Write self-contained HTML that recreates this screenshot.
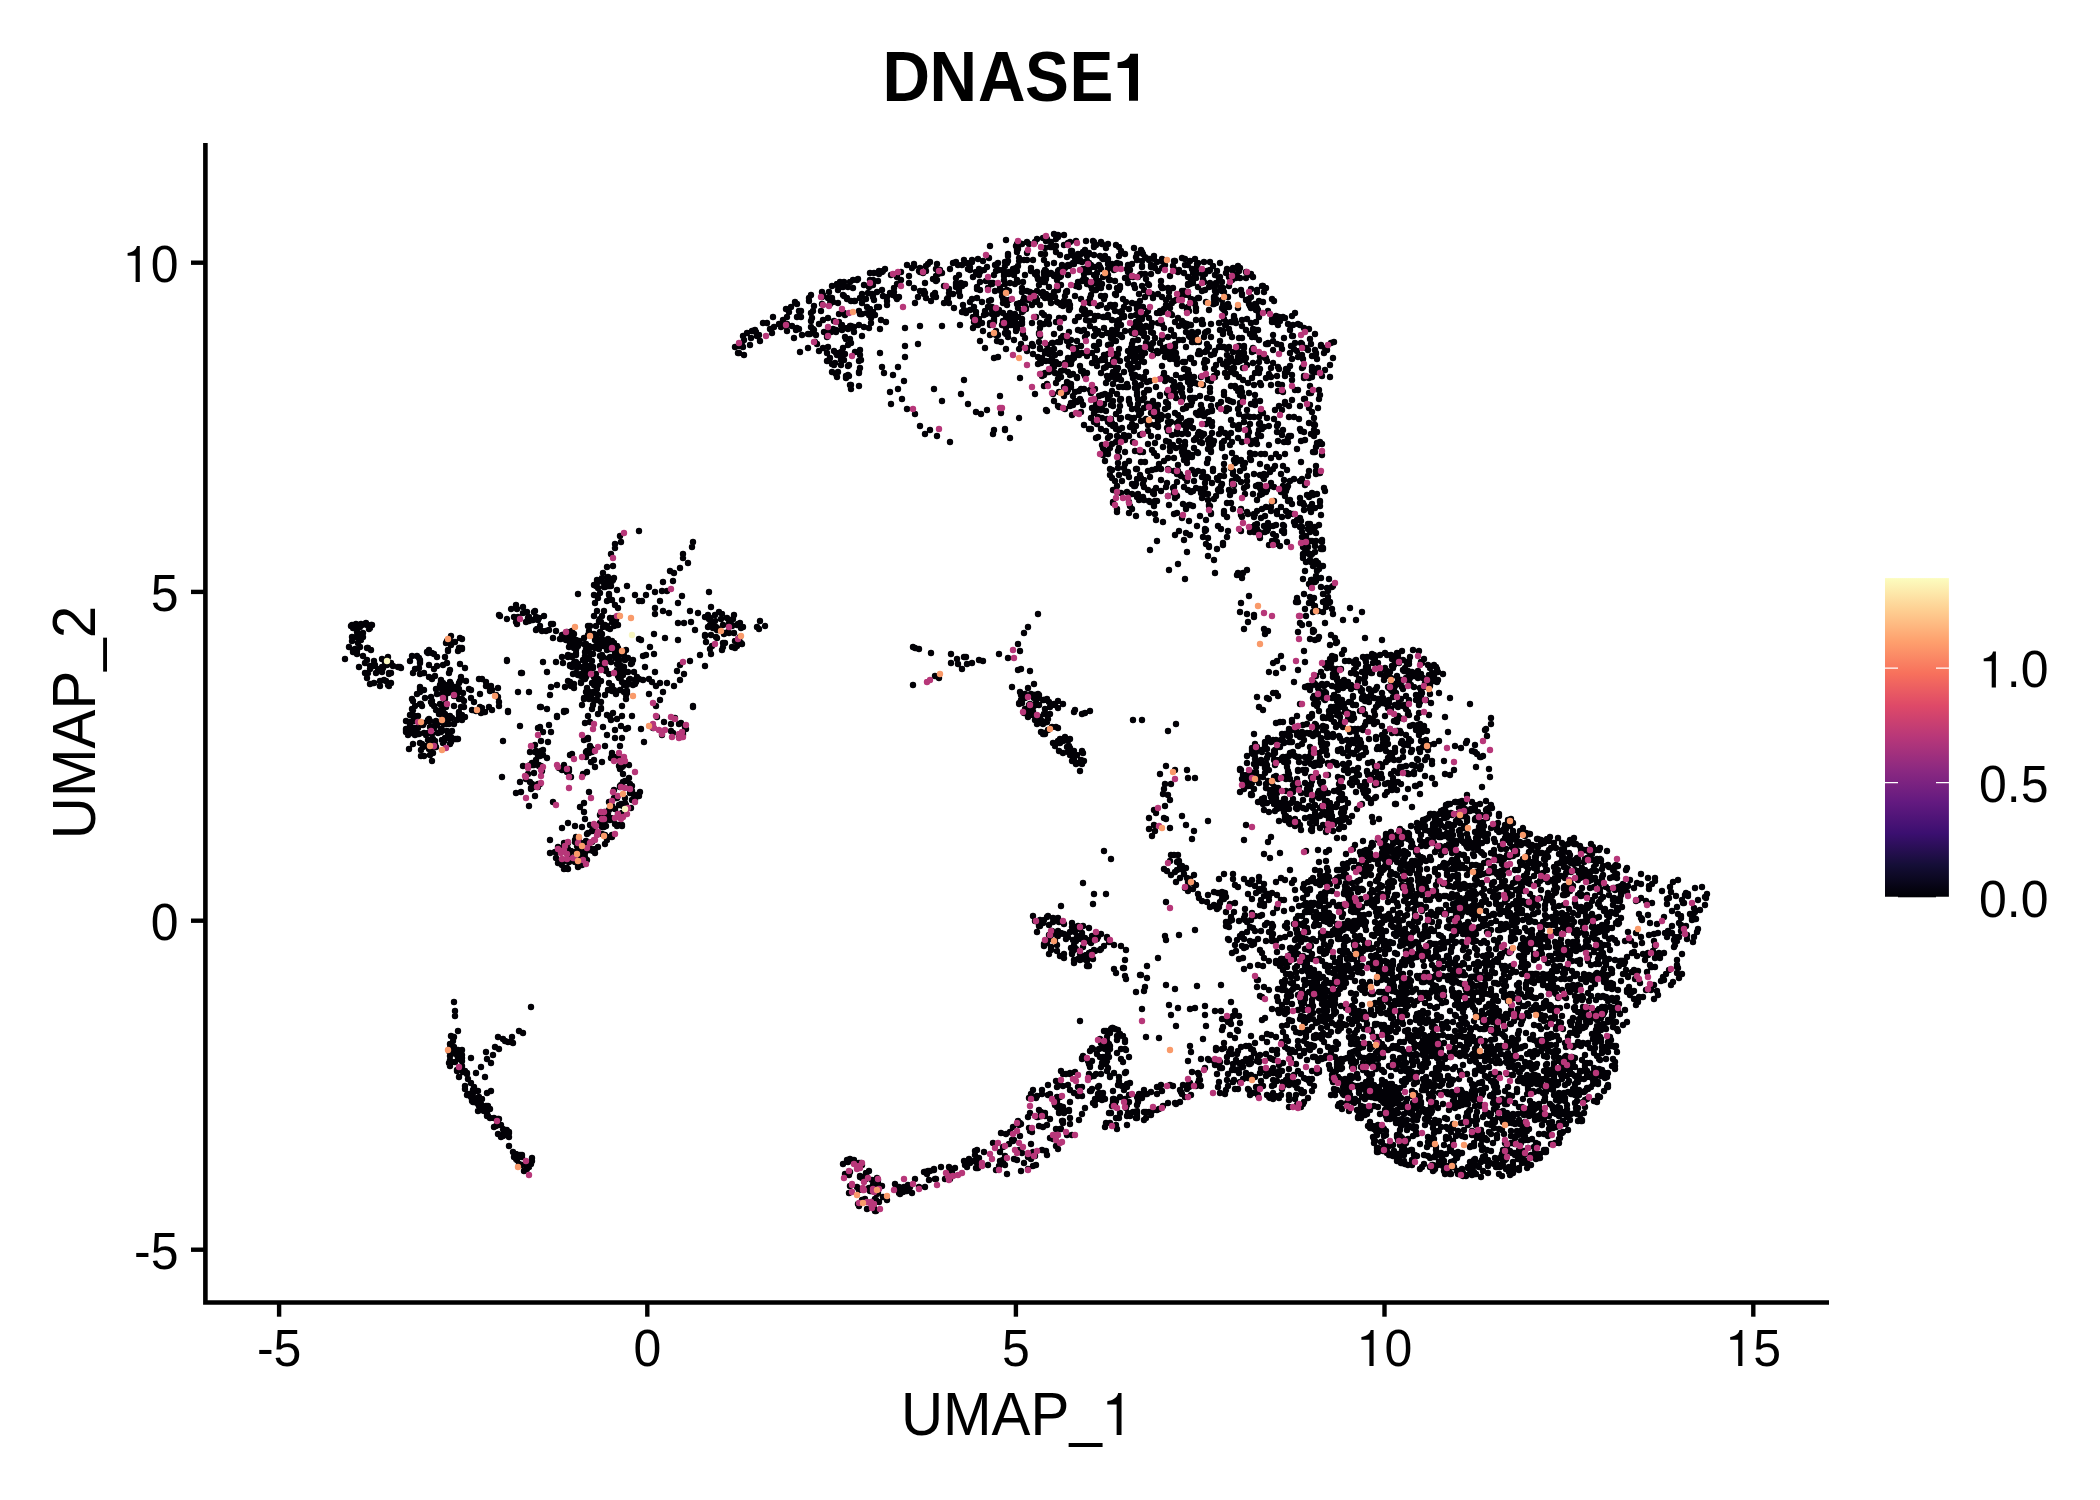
<!DOCTYPE html><html><head><meta charset="utf-8"><style>html,body{margin:0;padding:0;background:#fff;overflow:hidden}svg{display:block}text{font-family:'Liberation Sans',sans-serif}</style></head><body>
<svg width="2100" height="1500" viewBox="0 0 2100 1500">
<rect width="2100" height="1500" fill="#fff"/>
<defs><linearGradient id="g" x1="0" y1="1" x2="0" y2="0"><stop offset="0.0" stop-color="#000004"/><stop offset="0.1" stop-color="#140E36"/><stop offset="0.2" stop-color="#3B0F70"/><stop offset="0.3" stop-color="#641A80"/><stop offset="0.4" stop-color="#8C2981"/><stop offset="0.5" stop-color="#B73779"/><stop offset="0.6" stop-color="#DE4968"/><stop offset="0.7" stop-color="#F7705C"/><stop offset="0.8" stop-color="#FE9F6D"/><stop offset="0.9" stop-color="#FECF92"/><stop offset="1.0" stop-color="#FCFDBF"/></linearGradient></defs>
<path d="M747 333h0M744 340h0M755 330h0M751 338h0M756 332h0M739 353h0M752 331h0M750 345h0M763 323h0M774 327h0M735 347h0M759 335h0M757 336h0M767 323h0M743 347h0M740 346h0M773 317h0M779 324h0M742 344h0M743 336h0M738 353h0M770 329h0M923 273h0M823 320h0M843 295h0M871 323h0M853 280h0M935 293h0M873 312h0M822 304h0M808 334h0M844 296h0M837 284h0M897 299h0M870 286h0M949 289h0M992 310h0M967 263h0M909 276h0M842 330h0M899 297h0M872 294h0M811 295h0M859 325h0M996 271h0M828 318h0M914 264h0M1008 337h0M1005 262h0M990 335h0M870 311h0M847 299h0M866 299h0M963 305h0M996 334h0M907 265h0M962 265h0M919 271h0M936 281h0M893 295h0M1003 313h0M970 267h0M873 280h0M867 307h0M830 304h0M813 311h0M833 302h0M857 280h0M956 278h0M953 263h0M829 292h0M970 302h0M855 301h0M1004 271h0M879 307h0M799 311h0M990 323h0M1002 325h0M999 310h0M781 324h0M994 275h0M887 297h0M810 334h0M936 297h0M995 265h0M897 277h0M992 307h0M931 301h0M944 286h0M964 310h0M914 266h0M986 314h0M882 290h0M887 301h0M990 246h0M964 260h0M998 335h0M970 270h0M853 288h0M924 294h0M936 276h0M862 303h0M870 273h0M928 264h0M874 273h0M840 282h0M956 287h0M897 284h0M850 282h0M873 297h0M959 290h0M959 275h0M962 312h0M938 274h0M977 287h0M947 299h0M937 264h0M851 326h0M859 311h0M809 301h0M980 272h0M830 300h0M975 317h0M997 314h0M920 272h0M942 273h0M1004 274h0M858 279h0M926 298h0M959 292h0M838 290h0M983 331h0M862 314h0M897 298h0M851 301h0M852 327h0M1004 276h0M992 314h0M992 284h0M836 330h0M909 283h0M977 298h0M822 292h0M976 316h0M870 309h0M976 315h0M883 271h0M864 327h0M875 315h0M864 285h0M978 259h0M787 331h0M944 303h0M796 330h0M937 280h0M937 264h0M954 308h0M988 288h0M991 283h0M978 324h0M797 328h0M966 313h0M926 266h0M901 272h0M854 301h0M813 329h0M960 285h0M860 314h0M980 290h0M973 317h0M990 325h0M949 293h0M982 302h0M940 270h0M848 287h0M970 310h0M986 281h0M789 312h0M873 285h0M926 271h0M972 260h0M838 303h0M975 323h0M812 318h0M791 307h0M809 298h0M968 269h0M896 297h0M1006 240h0M933 295h0M915 303h0M795 302h0M936 281h0M979 319h0M961 283h0M996 335h0M850 326h0M994 319h0M979 269h0M787 317h0M978 325h0M924 291h0M814 330h0M828 298h0M960 296h0M877 307h0M841 325h0M949 303h0M948 298h0M999 270h0M821 311h0M832 286h0M873 297h0M956 262h0M993 283h0M792 326h0M956 285h0M1009 272h0M839 322h0M854 327h0M787 324h0M877 292h0M996 331h0M982 323h0M819 324h0M883 296h0M972 262h0M868 293h0M1005 300h0M845 315h0M920 291h0M801 311h0M867 313h0M862 294h0M838 286h0M860 298h0M980 282h0M840 285h0M994 320h0M879 274h0M834 321h0M977 289h0M797 317h0M843 287h0M869 287h0M811 321h0M831 332h0M1005 291h0M829 330h0M802 335h0M976 272h0M786 309h0M847 328h0M839 314h0M987 267h0M844 282h0M972 299h0M891 275h0M1001 342h0M978 322h0M984 315h0M918 297h0M936 269h0M998 263h0M882 272h0M988 307h0M925 283h0M811 327h0M920 268h0M901 280h0M842 325h0M800 312h0M914 288h0M1008 254h0M985 311h0M909 276h0M781 327h0M801 317h0M984 270h0M930 262h0M989 301h0M842 328h0M847 298h0M953 294h0M870 280h0M976 312h0M965 311h0M879 271h0M878 281h0M912 268h0M822 297h0M885 269h0M974 307h0M799 329h0M833 329h0M991 300h0M887 305h0M947 300h0M962 286h0M1001 291h0M940 273h0M950 269h0M994 322h0M844 313h0M1007 290h0M973 277h0M783 320h0M894 292h0M797 304h0M1007 263h0M974 322h0M958 265h0M814 306h0M989 258h0M1009 291h0M999 312h0M869 315h0M894 288h0M786 326h0M965 284h0M832 298h0M874 300h0M933 279h0M823 295h0M925 293h0M979 275h0M890 293h0M811 313h0M995 291h0M956 283h0M983 261h0M997 264h0M835 363h0M860 368h0M861 360h0M838 372h0M850 385h0M848 345h0M827 337h0M849 365h0M843 348h0M836 353h0M845 337h0M834 351h0M855 352h0M846 376h0M815 342h0M839 353h0M850 339h0M859 372h0M841 355h0M834 365h0M860 350h0M832 372h0M836 374h0M816 335h0M829 360h0M828 347h0M830 358h0M846 378h0M859 386h0M819 351h0M837 377h0M851 343h0M827 353h0M841 360h0M827 361h0M817 344h0M841 352h0M848 366h0M845 354h0M860 355h0M837 355h0M849 376h0M859 361h0M844 360h0M841 365h0M851 385h0M832 364h0M848 375h0M859 373h0M851 389h0M823 348h0M880 353h0M882 367h0M884 373h0M893 375h0M898 367h0M904 381h0M905 346h0M905 357h0M918 344h0M890 392h0M891 404h0M898 389h0M902 399h0M907 409h0M915 414h0M920 426h0M925 434h0M930 430h0M937 436h0M950 442h0M934 389h0M942 401h0M961 394h0M964 380h0M968 404h0M976 412h0M981 414h0M987 410h0M993 434h0M994 430h0M1000 396h0M1001 413h0M1005 430h0M1010 438h0M1019 418h0M1020 378h0M1035 394h0M1044 386h0M1047 411h0M1054 401h0M1059 407h0M905 328h0M920 326h0M942 326h0M960 325h0M973 328h0M980 341h0M985 348h0M992 324h0M996 331h0M997 341h0M1006 349h0M994 358h0M998 357h0M880 329h0M881 320h0M886 322h0M871 318h0M869 328h0M862 336h0M848 329h0M846 339h0M854 332h0M836 332h0M824 332h0M800 352h0M794 338h0M808 348h0M744 355h0M760 341h0M772 333h0M1046 410h0M1058 406h0M1054 401h0M1005 429h0M1178 318h0M1185 377h0M1116 368h0M1248 275h0M1108 365h0M1235 291h0M1163 261h0M1173 392h0M1184 369h0M1152 344h0M1137 254h0M1037 272h0M1140 275h0M1146 326h0M1151 349h0M1049 324h0M1090 301h0M1073 357h0M1193 342h0M1116 379h0M1154 267h0M1091 286h0M1214 297h0M1096 405h0M1137 392h0M1094 246h0M1214 376h0M1223 309h0M1169 297h0M1242 326h0M1209 287h0M1087 356h0M1044 375h0M1105 256h0M1068 275h0M1138 367h0M1127 269h0M1242 294h0M1182 306h0M1114 267h0M1017 250h0M1095 358h0M1170 352h0M1061 338h0M1209 347h0M1032 344h0M1115 425h0M1036 317h0M1211 381h0M1047 352h0M1197 266h0M1224 364h0M1047 239h0M1177 364h0M1050 350h0M1000 287h0M1097 410h0M1263 286h0M1162 366h0M1220 277h0M1060 277h0M1130 270h0M1228 304h0M1037 276h0M1153 401h0M1173 288h0M1137 309h0M1141 312h0M1230 333h0M1079 261h0M1085 337h0M1144 336h0M1158 420h0M1148 284h0M1065 409h0M1053 394h0M1077 377h0M1108 422h0M1104 355h0M1265 288h0M1216 291h0M1190 398h0M1039 333h0M1249 299h0M1160 313h0M1023 282h0M1116 265h0M1003 270h0M1092 408h0M1178 424h0M1162 288h0M1242 338h0M1128 436h0M1053 364h0M1070 375h0M1102 360h0M1136 426h0M1010 283h0M1112 375h0M1222 347h0M1168 337h0M1086 280h0M1190 325h0M1179 270h0M1055 373h0M1049 287h0M1163 348h0M1140 329h0M1219 347h0M1016 331h0M1144 377h0M1201 377h0M1235 362h0M1157 410h0M1250 334h0M1053 367h0M1137 408h0M1133 368h0M1144 362h0M1252 337h0M1176 387h0M1134 330h0M1192 379h0M1259 315h0M1210 388h0M1132 424h0M1087 268h0M1229 307h0M1216 365h0M1026 309h0M1041 363h0M1058 290h0M1216 283h0M1119 290h0M1220 330h0M1033 260h0M1257 290h0M1172 358h0M1150 424h0M1046 351h0M1130 277h0M1224 319h0M1050 299h0M1153 343h0M1094 320h0M1160 313h0M1083 308h0M1041 282h0M1182 258h0M1124 317h0M1188 378h0M1147 404h0M1003 299h0M1204 262h0M1127 359h0M1129 309h0M1089 272h0M1118 360h0M1203 385h0M1215 291h0M1120 406h0M1120 361h0M1107 419h0M1042 313h0M1078 254h0M1189 336h0M1168 416h0M1133 277h0M1242 320h0M1238 266h0M1075 321h0M1205 333h0M1132 276h0M1024 298h0M1078 282h0M1014 318h0M1153 298h0M1258 311h0M1240 268h0M1145 274h0M1105 317h0M1191 400h0M1110 305h0M1144 333h0M1251 307h0M1052 351h0M1185 326h0M1096 290h0M1075 296h0M1112 320h0M1160 311h0M1148 311h0M1070 308h0M1196 274h0M1142 266h0M1170 308h0M1051 273h0M1149 407h0M1200 353h0M1121 418h0M1229 286h0M1158 405h0M1246 330h0M1121 325h0M1128 417h0M1105 394h0M1108 269h0M1089 253h0M1084 274h0M1084 425h0M1100 267h0M1135 334h0M1162 339h0M1161 419h0M1199 342h0M1160 415h0M1262 286h0M1057 280h0M1140 414h0M1041 293h0M1150 347h0M1191 405h0M1122 337h0M1045 248h0M1007 322h0M1044 324h0M1186 423h0M1108 262h0M1131 368h0M1177 358h0M1099 281h0M1143 379h0M1133 378h0M1039 334h0M1064 301h0M1045 298h0M1165 381h0M1119 411h0M1144 290h0M1145 420h0M1215 286h0M1015 314h0M1114 362h0M1077 402h0M1216 365h0M1049 372h0M1095 400h0M1255 304h0M1228 297h0M1214 369h0M1238 269h0M1043 296h0M1045 270h0M1140 317h0M1192 378h0M1028 300h0M1049 354h0M1268 311h0M1073 374h0M1092 386h0M1220 360h0M1087 261h0M1205 290h0M1233 268h0M1058 237h0M1191 279h0M1138 277h0M1117 288h0M1239 271h0M1105 356h0M1207 350h0M1068 305h0M1175 322h0M1017 280h0M1188 382h0M1172 303h0M1117 263h0M1037 291h0M1210 283h0M1076 286h0M1092 267h0M1133 349h0M1135 288h0M1108 244h0M1095 329h0M1222 308h0M1124 435h0M1164 263h0M1214 304h0M1211 355h0M1016 268h0M1061 377h0M1131 348h0M1046 361h0M1052 343h0M1098 437h0M1195 271h0M1089 321h0M1104 328h0M1052 247h0M1151 413h0M1141 307h0M1168 288h0M1006 328h0M1134 329h0M1055 355h0M1110 280h0M1132 409h0M1231 372h0M1113 406h0M1207 361h0M1132 356h0M1005 266h0M1079 317h0M1109 280h0M1107 308h0M1130 364h0M1084 330h0M1117 394h0M1065 296h0M1141 413h0M1144 408h0M1258 310h0M1219 323h0M1146 258h0M1097 284h0M1140 348h0M1157 351h0M1064 387h0M1168 422h0M1143 254h0M1040 362h0M1188 307h0M1175 393h0M1134 248h0M1138 404h0M1202 291h0M1256 310h0M1204 337h0M1120 264h0M1150 381h0M1108 275h0M1091 429h0M1200 354h0M1192 269h0M1108 259h0M1151 265h0M1023 311h0M1209 271h0M1224 309h0M1196 413h0M1220 341h0M1076 256h0M1251 297h0M1169 396h0M1003 303h0M1244 348h0M1187 406h0M1110 424h0M1174 336h0M1175 353h0M1068 390h0M1069 266h0M1008 256h0M1251 274h0M1175 261h0M1196 342h0M1138 404h0M1157 406h0M1175 413h0M1224 307h0M1187 422h0M1043 292h0M1130 404h0M1107 376h0M1202 324h0M1142 434h0M1014 323h0M1236 278h0M1232 322h0M1134 431h0M1104 297h0M1173 266h0M1138 410h0M1196 311h0M1087 272h0M1090 313h0M1266 288h0M1059 270h0M1155 268h0M1107 333h0M1137 388h0M1135 332h0M1158 427h0M1111 405h0M1121 399h0M1094 255h0M1144 348h0M1192 301h0M1182 400h0M1119 320h0M1094 247h0M1115 281h0M1097 366h0M1158 353h0M1136 326h0M1117 334h0M1145 297h0M1120 419h0M1046 294h0M1190 358h0M1186 332h0M1251 289h0M1189 375h0M1085 376h0M1019 261h0M1006 334h0M1188 295h0M1131 418h0M1045 282h0M1161 415h0M1215 351h0M1192 342h0M1188 285h0M1063 306h0M1056 252h0M1128 272h0M1128 283h0M1146 314h0M1198 263h0M1068 372h0M1077 341h0M1015 321h0M1225 313h0M1207 344h0M1020 303h0M1117 321h0M1085 310h0M1096 409h0M1146 419h0M1075 392h0M1256 330h0M1058 374h0M1238 352h0M1118 368h0M1148 404h0M1047 384h0M1149 285h0M1096 279h0M1188 372h0M1224 292h0M1146 279h0M1256 322h0M1236 323h0M1033 354h0M1099 344h0M1087 373h0M1090 298h0M1021 344h0M1114 359h0M1006 293h0M1126 387h0M1110 419h0M1060 273h0M1061 305h0M1157 313h0M1010 321h0M1108 264h0M1111 338h0M1160 343h0M1234 368h0M1032 293h0M1102 395h0M1054 334h0M1244 353h0M1094 290h0M1010 313h0M1148 431h0M1047 264h0M1134 361h0M1101 429h0M1229 362h0M1141 421h0M1065 268h0M1174 352h0M1115 378h0M1099 342h0M1157 262h0M1176 300h0M1058 379h0M1058 278h0M1206 302h0M1151 332h0M1149 390h0M1217 271h0M1014 271h0M1052 368h0M1150 259h0M1112 391h0M1144 393h0M1090 326h0M1206 332h0M1116 295h0M1061 285h0M1023 334h0M1049 274h0M1106 411h0M1180 296h0M1070 305h0M1091 393h0M1003 322h0M1189 284h0M1224 347h0M1108 379h0M1183 397h0M1062 265h0M1054 367h0M1190 284h0M1227 367h0M1048 321h0M1005 333h0M1074 354h0M1182 388h0M1161 286h0M1122 311h0M1227 269h0M1237 274h0M1102 284h0M1113 361h0M1229 329h0M1163 262h0M1198 287h0M1190 385h0M1130 353h0M1151 327h0M1094 346h0M1008 333h0M1177 423h0M1162 259h0M1208 380h0M1220 263h0M1108 345h0M1182 321h0M1036 298h0M1055 246h0M1052 359h0M1128 351h0M1037 300h0M1081 371h0M1025 275h0M1127 384h0M1253 277h0M1142 286h0M1101 242h0M1198 384h0M1129 271h0M1191 359h0M1155 338h0M1149 260h0M1169 424h0M1211 337h0M1045 254h0M1082 281h0M1166 300h0M1012 318h0M1119 349h0M1191 325h0M1136 257h0M1004 280h0M1232 337h0M1103 277h0M1139 415h0M1174 261h0M1142 400h0M1171 422h0M1101 296h0M1185 369h0M1174 335h0M1029 244h0M1251 323h0M1116 341h0M1255 337h0M1259 317h0M1177 362h0M1156 387h0M1108 317h0M1054 349h0M1039 285h0M1017 252h0M1174 261h0M1044 282h0M1087 334h0M1257 292h0M1189 311h0M1151 274h0M1056 362h0M1139 377h0M1046 279h0M1094 336h0M1178 272h0M1147 390h0M1213 266h0M1194 363h0M1199 298h0M1168 431h0M1141 327h0M1140 325h0M1047 345h0M1141 385h0M1073 396h0M1101 269h0M1140 351h0M1200 396h0M1196 320h0M1183 362h0M1027 348h0M1100 406h0M1167 347h0M1078 330h0M1058 271h0M1038 357h0M1032 323h0M1135 355h0M1176 353h0M1071 384h0M1166 305h0M1076 241h0M1239 346h0M1096 438h0M1107 273h0M1038 279h0M1094 413h0M1272 299h0M1185 265h0M1115 294h0M1180 294h0M1174 382h0M1064 396h0M1090 390h0M1148 293h0M1100 256h0M1216 299h0M1114 270h0M1207 398h0M1101 373h0M1094 422h0M1087 256h0M1176 398h0M1132 333h0M1140 317h0M1138 357h0M1121 251h0M1092 363h0M1166 352h0M1205 274h0M1204 282h0M1152 403h0M1098 417h0M1139 321h0M1052 368h0M1124 307h0M1203 324h0M1071 255h0M1076 348h0M1258 330h0M1108 438h0M1227 366h0M1131 316h0M1120 286h0M1142 314h0M1081 412h0M1027 351h0M1008 273h0M1176 375h0M1023 301h0M1115 373h0M1170 276h0M1188 370h0M1113 307h0M1236 275h0M1184 273h0M1083 280h0M1065 363h0M1099 396h0M1018 282h0M1215 377h0M1187 310h0M1151 267h0M1210 270h0M1223 334h0M1251 308h0M1115 311h0M1192 398h0M1227 355h0M1108 354h0M1081 401h0M1050 296h0M1234 316h0M1241 290h0M1069 346h0M1188 292h0M1054 263h0M1104 299h0M1119 387h0M1140 301h0M1202 274h0M1073 405h0M1118 354h0M1031 271h0M1071 387h0M1089 429h0M1022 292h0M1059 318h0M1111 305h0M1184 425h0M1113 384h0M1120 288h0M1135 388h0M1069 310h0M1047 321h0M1085 250h0M1196 278h0M1058 342h0M1182 393h0M1109 287h0M1098 418h0M1116 245h0M1154 266h0M1215 275h0M1068 364h0M1044 260h0M1011 325h0M1153 355h0M1058 235h0M1264 292h0M1125 278h0M1071 347h0M1158 421h0M1192 333h0M1256 305h0M1075 258h0M1017 304h0M1046 241h0M1003 321h0M1072 264h0M1061 371h0M1131 331h0M1118 266h0M1217 373h0M1104 404h0M1205 352h0M1071 340h0M1188 265h0M1137 395h0M1188 292h0M1098 361h0M1158 426h0M1101 288h0M1067 292h0M1209 310h0M1002 296h0M1040 328h0M1214 354h0M1239 338h0M1171 330h0M1130 427h0M1004 322h0M1214 299h0M1057 274h0M1196 338h0M1096 334h0M1116 429h0M1142 333h0M1208 379h0M1114 360h0M1130 367h0M1087 352h0M1141 250h0M1102 407h0M1233 368h0M1190 390h0M1185 362h0M1068 383h0M1044 272h0M1154 416h0M1014 340h0M1081 346h0M1135 375h0M1095 389h0M1158 271h0M1019 258h0M1169 292h0M1232 361h0M1037 302h0M1040 349h0M1111 344h0M1033 346h0M1068 358h0M1119 377h0M1019 243h0M1144 398h0M1069 302h0M1080 399h0M1108 399h0M1214 287h0M1053 343h0M1246 278h0M1189 374h0M1164 309h0M1116 334h0M1084 374h0M1134 285h0M1215 285h0M1226 322h0M1148 425h0M1149 347h0M1093 241h0M1030 292h0M1064 235h0M1208 331h0M1097 424h0M1162 351h0M1199 351h0M1213 286h0M1088 282h0M1226 363h0M1234 317h0M1179 421h0M1226 324h0M1175 344h0M1186 408h0M1018 249h0M1162 416h0M1163 288h0M1067 341h0M1165 357h0M1040 305h0M1061 276h0M1101 284h0M1238 357h0M1227 361h0M1051 303h0M1208 347h0M1242 354h0M1060 255h0M1240 278h0M1115 354h0M1227 377h0M1223 288h0M1014 275h0M1049 317h0M1064 318h0M1203 279h0M1125 331h0M1233 352h0M1188 284h0M1041 374h0M1154 256h0M1121 380h0M1244 348h0M1056 246h0M1136 315h0M1037 239h0M1242 295h0M1193 273h0M1067 257h0M1191 337h0M1128 365h0M1041 254h0M1193 398h0M1223 364h0M1087 284h0M1175 347h0M1205 368h0M1152 294h0M1135 359h0M1125 254h0M1018 308h0M1064 269h0M1035 242h0M1094 275h0M1152 323h0M1022 319h0M1074 355h0M1072 360h0M1009 300h0M1112 423h0M1141 274h0M1072 415h0M1104 368h0M1134 326h0M1008 261h0M1005 302h0M1025 338h0M1119 430h0M1132 333h0M1173 387h0M1045 353h0M1074 353h0M1184 291h0M1077 352h0M1221 287h0M1194 377h0M1140 435h0M1257 308h0M1132 344h0M1071 403h0M1249 304h0M1183 340h0M1113 401h0M1079 355h0M1098 306h0M1126 302h0M1063 336h0M1081 299h0M1006 316h0M1130 356h0M1123 387h0M1186 347h0M1197 264h0M1116 428h0M1022 324h0M1145 353h0M1018 266h0M1083 371h0M1056 322h0M1142 252h0M1022 244h0M1149 318h0M1170 359h0M1165 409h0M1050 361h0M1166 402h0M1164 379h0M1092 353h0M1154 259h0M1207 271h0M1225 325h0M1188 277h0M1174 301h0M1184 295h0M1081 389h0M1194 300h0M1056 239h0M1040 363h0M1054 292h0M1120 400h0M1067 291h0M1120 312h0M1043 279h0M1102 244h0M1196 308h0M1179 326h0M1016 328h0M1164 373h0M1124 372h0M1074 264h0M1102 359h0M1229 277h0M1180 385h0M1190 261h0M1082 353h0M1179 425h0M1231 358h0M1109 378h0M1179 340h0M1013 269h0M1136 304h0M1246 272h0M1132 264h0M1050 247h0M1071 340h0M1040 323h0M1025 308h0M1065 363h0M1263 302h0M1137 308h0M1202 322h0M1129 436h0M1083 252h0M1119 247h0M1122 317h0M1083 405h0M1195 259h0M1099 265h0M1096 276h0M1232 280h0M1146 372h0M1124 316h0M1191 299h0M1183 409h0M1134 418h0M1027 260h0M1181 378h0M1244 346h0M1044 315h0M1226 273h0M1111 365h0M1136 322h0M1022 322h0M1032 305h0M1184 323h0M1213 304h0M1154 406h0M1059 392h0M1222 291h0M1059 364h0M1054 234h0M1102 418h0M1138 364h0M1149 327h0M1087 314h0M1247 319h0M1088 302h0M1080 366h0M1162 268h0M1187 324h0M1017 329h0M1138 332h0M1056 383h0M1016 246h0M1105 360h0M1105 296h0M1091 418h0M1068 265h0M1142 261h0M1106 248h0M1018 317h0M1097 350h0M1068 388h0M1192 332h0M1119 256h0M1074 358h0M1051 242h0M1155 425h0M1022 312h0M1069 332h0M1187 326h0M1113 372h0M1195 383h0M1066 292h0M1151 436h0M1198 354h0M1055 297h0M1154 408h0M1102 335h0M1027 253h0M1034 299h0M1022 288h0M1035 274h0M1092 289h0M1110 395h0M1019 349h0M1196 337h0M1057 302h0M1119 376h0M1153 333h0M1018 325h0M1142 361h0M1116 375h0M1017 244h0M1167 355h0M1068 243h0M1024 260h0M1123 299h0M1027 291h0M1098 331h0M1042 376h0M1129 399h0M1178 415h0M1009 274h0M1084 314h0M1171 380h0M1158 294h0M1139 294h0M1108 315h0M1210 262h0M1139 317h0M1110 436h0M1168 404h0M1117 436h0M1079 287h0M1216 303h0M1132 374h0M1122 428h0M1136 349h0M1059 303h0M1122 438h0M1147 344h0M1086 320h0M1166 402h0M1102 258h0M1168 407h0M1240 353h0M1060 328h0M1082 262h0M1031 268h0M1081 254h0M1235 320h0M1173 288h0M1017 271h0M1202 320h0M1071 364h0M1161 281h0M1198 298h0M1165 265h0M1038 364h0M1075 401h0M1043 238h0M1091 265h0M1025 306h0M1175 394h0M1143 307h0M1172 315h0M1046 271h0M1181 391h0M1238 362h0M1040 336h0M1195 398h0M1054 276h0M1138 340h0M1083 269h0M1174 359h0M1128 265h0M1259 301h0M1192 402h0M1100 404h0M1080 260h0M1084 278h0M1086 241h0M1116 414h0M1142 267h0M1121 438h0M1142 356h0M1070 406h0M1185 259h0M1167 378h0M1225 373h0M1045 352h0M1096 245h0M1064 370h0M1196 271h0M1060 353h0M1115 305h0M1131 353h0M1027 242h0M1133 341h0M1250 306h0M1204 363h0M1142 319h0M1163 312h0M1205 360h0M1020 324h0M1082 310h0M1163 377h0M1232 270h0M1117 329h0M1162 324h0M1146 343h0M1198 332h0M1135 383h0M1125 440h0M1132 303h0M1253 329h0M1231 322h0M1222 282h0M1195 304h0M1171 346h0M1229 347h0M1007 305h0M1064 245h0M1113 426h0M1070 242h0M1089 254h0M1111 419h0M1097 273h0M1039 342h0M1182 291h0M1095 267h0M1026 308h0M1045 373h0M1141 319h0M1216 293h0M1090 303h0M1101 410h0M1103 259h0M1005 284h0M1138 399h0M1106 431h0M1134 377h0M1079 391h0M1067 392h0M1137 260h0M1084 389h0M1238 268h0M1078 317h0M1201 405h0M1171 314h0M1191 358h0M1162 297h0M1067 382h0M1147 338h0M1101 305h0M1211 285h0M1160 395h0M1254 335h0M1160 396h0M1104 317h0M1015 284h0M1227 349h0M1120 335h0M1103 317h0M1181 418h0M1210 392h0M1094 242h0M1117 325h0M1147 382h0M1112 330h0M1174 269h0M1106 367h0M1211 324h0M1129 401h0M1098 316h0M1219 279h0M1040 348h0M1112 264h0M1193 283h0M1044 274h0M1042 358h0M1167 428h0M1081 331h0M1060 342h0M1158 323h0M1223 305h0M1190 337h0M1044 274h0M1113 335h0M1167 393h0M1117 370h0M1057 288h0M1089 263h0M1113 338h0M1246 300h0M1072 251h0M1145 257h0M1106 383h0M1073 263h0M1131 370h0M1095 316h0M1077 378h0M1128 387h0M1145 327h0M1164 328h0M1229 329h0M1222 300h0M1223 331h0M1071 251h0M1091 295h0M1157 262h0M1238 308h0M1295 343h0M1289 417h0M1290 366h0M1292 336h0M1311 393h0M1319 399h0M1320 442h0M1310 386h0M1312 371h0M1273 341h0M1278 325h0M1288 438h0M1288 324h0M1330 365h0M1318 368h0M1325 370h0M1298 324h0M1300 429h0M1277 344h0M1271 368h0M1304 378h0M1277 376h0M1314 425h0M1315 350h0M1309 393h0M1315 334h0M1305 440h0M1280 321h0M1312 370h0M1269 445h0M1322 455h0M1298 357h0M1314 424h0M1293 325h0M1265 358h0M1290 353h0M1287 372h0M1285 373h0M1319 390h0M1279 317h0M1314 436h0M1277 426h0M1312 356h0M1269 374h0M1266 358h0M1322 376h0M1273 335h0M1274 301h0M1298 390h0M1279 406h0M1275 322h0M1316 353h0M1311 344h0M1290 330h0M1315 425h0M1292 316h0M1309 378h0M1283 317h0M1273 350h0M1312 412h0M1304 328h0M1330 377h0M1297 449h0M1275 410h0M1316 447h0M1304 399h0M1297 351h0M1291 436h0M1334 342h0M1327 350h0M1276 454h0M1261 385h0M1293 336h0M1283 466h0M1294 417h0M1316 372h0M1274 419h0M1291 346h0M1321 345h0M1295 313h0M1305 399h0M1288 369h0M1285 454h0M1268 343h0M1287 441h0M1278 384h0M1304 432h0M1282 349h0M1263 413h0M1289 436h0M1270 376h0M1300 325h0M1319 444h0M1284 442h0M1317 359h0M1292 400h0M1287 470h0M1300 406h0M1285 318h0M1310 405h0M1303 367h0M1313 452h0M1315 452h0M1331 343h0M1314 418h0M1271 385h0M1289 406h0M1333 358h0M1316 354h0M1306 348h0M1308 350h0M1301 462h0M1318 408h0M1277 432h0M1311 434h0M1283 392h0M1302 368h0M1325 348h0M1317 432h0M1292 380h0M1303 359h0M1309 329h0M1283 430h0M1301 441h0M1273 363h0M1295 390h0M1276 316h0M1267 361h0M1285 404h0M1282 410h0M1285 376h0M1312 377h0M1282 385h0M1273 469h0M1284 338h0M1294 349h0M1273 318h0M1292 359h0M1285 402h0M1279 369h0M1278 367h0M1269 426h0M1278 441h0M1281 345h0M1317 443h0M1313 371h0M1288 442h0M1309 423h0M1301 343h0M1266 344h0M1279 457h0M1316 466h0M1282 435h0M1321 346h0M1304 376h0M1314 430h0M1309 408h0M1278 424h0M1278 391h0M1301 431h0M1268 344h0M1320 395h0M1275 466h0M1260 401h0M1302 355h0M1272 319h0M1267 418h0M1324 353h0M1312 367h0M1266 378h0M1271 377h0M1299 419h0M1322 444h0M1272 322h0M1310 339h0M1271 458h0M1292 375h0M1302 344h0M1286 369h0M1104 450h0M1261 490h0M1288 516h0M1225 433h0M1193 428h0M1305 485h0M1255 454h0M1315 508h0M1241 461h0M1229 409h0M1174 493h0M1153 493h0M1312 530h0M1143 484h0M1315 527h0M1219 434h0M1238 409h0M1205 494h0M1231 386h0M1252 350h0M1275 544h0M1281 474h0M1154 453h0M1168 458h0M1119 475h0M1288 501h0M1260 464h0M1287 542h0M1212 422h0M1261 411h0M1129 477h0M1233 474h0M1135 451h0M1240 471h0M1251 404h0M1108 451h0M1245 494h0M1219 407h0M1300 518h0M1222 446h0M1241 482h0M1228 400h0M1161 491h0M1236 388h0M1219 489h0M1264 474h0M1310 532h0M1270 472h0M1288 486h0M1187 481h0M1145 462h0M1208 449h0M1119 448h0M1187 463h0M1248 429h0M1224 392h0M1268 523h0M1184 487h0M1260 475h0M1208 440h0M1199 432h0M1259 424h0M1241 388h0M1232 484h0M1196 438h0M1319 473h0M1156 469h0M1218 480h0M1184 460h0M1256 486h0M1236 462h0M1214 441h0M1222 443h0M1189 421h0M1190 426h0M1258 434h0M1236 458h0M1316 474h0M1211 446h0M1267 467h0M1205 414h0M1260 485h0M1110 469h0M1272 541h0M1141 478h0M1270 486h0M1325 491h0M1238 391h0M1320 501h0M1309 497h0M1118 463h0M1230 445h0M1194 440h0M1198 453h0M1177 474h0M1277 514h0M1229 490h0M1210 438h0M1174 458h0M1122 481h0M1217 478h0M1260 495h0M1300 527h0M1285 496h0M1243 398h0M1222 448h0M1243 397h0M1276 536h0M1119 457h0M1208 459h0M1224 395h0M1304 505h0M1164 461h0M1213 471h0M1266 475h0M1196 488h0M1218 490h0M1289 513h0M1197 452h0M1235 386h0M1203 472h0M1194 481h0M1256 440h0M1255 514h0M1250 453h0M1155 443h0M1236 477h0M1172 435h0M1244 422h0M1255 373h0M1325 491h0M1221 486h0M1201 433h0M1306 540h0M1212 483h0M1118 451h0M1110 475h0M1206 424h0M1271 511h0M1132 484h0M1257 444h0M1262 494h0M1110 448h0M1255 395h0M1294 479h0M1254 417h0M1293 514h0M1238 479h0M1302 479h0M1127 492h0M1118 468h0M1239 377h0M1200 411h0M1320 506h0M1211 440h0M1181 476h0M1133 442h0M1264 427h0M1211 406h0M1261 436h0M1166 441h0M1140 475h0M1157 456h0M1244 417h0M1300 498h0M1308 476h0M1197 414h0M1255 401h0M1321 515h0M1222 484h0M1240 395h0M1174 487h0M1187 458h0M1202 409h0M1112 478h0M1201 493h0M1252 352h0M1224 464h0M1254 385h0M1158 437h0M1218 405h0M1204 416h0M1196 439h0M1212 399h0M1261 454h0M1192 470h0M1245 463h0M1314 529h0M1208 494h0M1247 410h0M1255 405h0M1177 434h0M1144 487h0M1176 495h0M1251 460h0M1169 442h0M1178 471h0M1169 470h0M1240 403h0M1302 527h0M1192 455h0M1247 365h0M1213 469h0M1144 480h0M1193 491h0M1174 471h0M1192 457h0M1195 474h0M1239 414h0M1233 402h0M1225 457h0M1191 421h0M1317 494h0M1198 415h0M1312 504h0M1306 536h0M1263 477h0M1141 462h0M1250 424h0M1231 468h0M1260 488h0M1230 401h0M1232 442h0M1306 545h0M1235 374h0M1221 491h0M1253 348h0M1231 420h0M1180 474h0M1273 526h0M1208 478h0M1262 429h0M1259 362h0M1248 383h0M1292 504h0M1260 423h0M1205 488h0M1234 485h0M1304 510h0M1202 443h0M1247 416h0M1241 460h0M1170 451h0M1302 532h0M1281 507h0M1249 393h0M1173 488h0M1134 486h0M1224 441h0M1243 368h0M1125 452h0M1125 473h0M1324 488h0M1308 524h0M1313 495h0M1185 445h0M1233 471h0M1310 524h0M1273 534h0M1211 452h0M1154 491h0M1209 423h0M1253 363h0M1244 488h0M1150 477h0M1306 537h0M1115 481h0M1251 444h0M1282 531h0M1112 470h0M1284 480h0M1167 483h0M1148 471h0M1245 360h0M1235 463h0M1259 373h0M1303 503h0M1212 411h0M1258 368h0M1239 429h0M1143 452h0M1198 471h0M1259 417h0M1268 527h0M1117 486h0M1243 380h0M1261 518h0M1187 459h0M1216 496h0M1148 444h0M1264 526h0M1204 434h0M1244 356h0M1268 529h0M1252 378h0M1207 463h0M1312 493h0M1234 491h0M1271 483h0M1276 525h0M1281 492h0M1183 455h0M1320 473h0M1284 526h0M1166 487h0M1200 442h0M1221 429h0M1319 525h0M1248 435h0M1250 458h0M1105 461h0M1248 438h0M1284 531h0M1311 512h0M1239 425h0M1219 491h0M1303 547h0M1152 470h0M1244 468h0M1274 487h0M1202 477h0M1295 525h0M1267 490h0M1186 429h0M1300 481h0M1177 482h0M1310 509h0M1226 411h0M1168 469h0M1103 455h0M1274 501h0M1282 517h0M1312 541h0M1129 461h0M1182 452h0M1265 491h0M1302 537h0M1302 527h0M1254 474h0M1297 520h0M1137 469h0M1236 374h0M1320 502h0M1267 531h0M1220 476h0M1211 451h0M1266 492h0M1253 494h0M1188 434h0M1267 526h0M1300 503h0M1240 361h0M1208 412h0M1185 442h0M1205 483h0M1280 546h0M1202 436h0M1316 533h0M1284 533h0M1200 489h0M1152 450h0M1103 448h0M1249 432h0M1250 417h0M1294 522h0M1286 491h0M1177 431h0M1136 484h0M1301 521h0M1257 500h0M1212 426h0M1290 500h0M1257 511h0M1207 477h0M1136 469h0M1240 405h0M1191 492h0M1188 490h0M1252 441h0M1287 488h0M1254 351h0M1159 464h0M1260 369h0M1277 542h0M1135 484h0M1260 383h0M1232 481h0M1234 460h0M1290 481h0M1316 471h0M1265 454h0M1137 479h0M1248 437h0M1178 465h0M1259 430h0M1181 447h0M1116 442h0M1310 507h0M1233 425h0M1161 469h0M1242 442h0M1179 441h0M1135 486h0M1173 445h0M1308 529h0M1108 454h0M1246 358h0M1170 447h0M1277 511h0M1212 433h0M1140 452h0M1224 476h0M1241 394h0M1188 453h0M1238 438h0M1205 478h0M1194 448h0M1238 429h0M1260 357h0M1209 444h0M1255 373h0M1202 415h0M1212 410h0M1156 488h0M1259 340h0M1176 448h0M1309 471h0M1148 490h0M1261 428h0M1124 468h0M1112 470h0M1163 447h0M1247 486h0M1271 507h0M1161 480h0M1224 470h0M1258 485h0M1227 408h0M1228 437h0M1232 453h0M1262 509h0M1198 434h0M1243 465h0M1154 494h0M1182 434h0M1128 472h0M1201 442h0M1185 478h0M1266 507h0M1221 402h0M1264 479h0M1231 433h0M1213 444h0M1242 392h0M1307 495h0M1209 420h0M1283 525h0M1230 495h0M1247 481h0M1102 445h0M1286 511h0M1112 444h0M1305 483h0M1247 476h0M1283 486h0M1265 516h0M1200 411h0M1272 502h0M1125 464h0M1184 449h0M1208 538h0M1209 546h0M1203 537h0M1154 506h0M1144 500h0M1117 512h0M1138 494h0M1117 492h0M1156 520h0M1206 544h0M1255 525h0M1197 526h0M1179 531h0M1182 518h0M1129 502h0M1211 514h0M1113 502h0M1208 556h0M1168 496h0M1190 535h0M1224 513h0M1183 504h0M1233 509h0M1132 494h0M1223 543h0M1169 505h0M1254 514h0M1129 513h0M1218 526h0M1190 505h0M1186 533h0M1184 540h0M1163 522h0M1206 530h0M1241 531h0M1132 509h0M1209 505h0M1177 513h0M1157 501h0M1217 549h0M1155 501h0M1223 545h0M1177 496h0M1259 532h0M1257 529h0M1210 506h0M1136 516h0M1197 526h0M1205 529h0M1205 531h0M1227 503h0M1149 501h0M1250 532h0M1155 514h0M1228 531h0M1189 521h0M1139 500h0M1193 506h0M1209 506h0M1224 511h0M1248 514h0M1186 509h0M1143 497h0M1259 535h0M1221 529h0M1150 502h0M1189 505h0M1257 524h0M1242 517h0M1117 509h0M1130 506h0M1214 560h0M1260 538h0M1205 529h0M1260 535h0M1254 532h0M1113 503h0M1149 513h0M1113 490h0M1214 499h0M1269 545h0M1224 514h0M1252 527h0M1137 497h0M1227 537h0M1241 515h0M1175 498h0M1254 517h0M1227 517h0M1174 514h0M1241 509h0M1208 500h0M1175 535h0M1206 520h0M1247 512h0M1265 532h0M1200 516h0M1209 547h0M1231 503h0M1211 513h0M1121 493h0M1202 498h0M1185 579h0M1215 573h0M1169 570h0M1178 564h0M1157 541h0M1150 550h0M1187 552h0M1319 565h0M1303 554h0M1323 548h0M1323 566h0M1321 548h0M1315 552h0M1310 560h0M1322 542h0M1303 545h0M1322 540h0M1316 576h0M1308 553h0M1319 569h0M1305 571h0M1315 552h0M1303 555h0M1306 562h0M1305 551h0M1317 571h0M1321 549h0M1323 549h0M1318 563h0M1316 561h0M1310 560h0M1309 554h0M1313 566h0M1311 562h0M1310 541h0M1315 546h0M1308 547h0M1311 555h0M1316 541h0M1312 554h0M1303 558h0M1329 603h0M1316 581h0M1305 609h0M1312 583h0M1327 588h0M1328 591h0M1321 587h0M1318 611h0M1330 602h0M1314 598h0M1314 606h0M1310 597h0M1328 600h0M1332 587h0M1309 603h0M1325 601h0M1326 607h0M1321 578h0M1333 614h0M1323 602h0M1315 606h0M1312 580h0M1297 598h0M1332 609h0M1309 584h0M1323 612h0M1313 612h0M1323 594h0M1328 597h0M1312 603h0M1304 594h0M1333 586h0M1306 616h0M1311 580h0M1303 579h0M1315 582h0M1296 602h0M1329 579h0M1298 602h0M1311 587h0M1247 570h0M1238 573h0M1242 578h0M1265 634h0M1237 575h0M1268 631h0M1249 596h0M1254 617h0M1243 573h0M1264 629h0M1254 615h0M1298 632h0M1335 638h0M1313 632h0M1331 635h0M1309 624h0M1337 642h0M1336 643h0M1313 630h0M1318 639h0M1332 656h0M1333 659h0M1330 645h0M1304 651h0M1344 650h0M1325 623h0M1330 659h0M1335 657h0M1314 631h0M1302 625h0M1342 654h0M1310 639h0M1300 623h0M1335 659h0M1319 637h0M1315 640h0M1350 608h0M1362 612h0M1356 620h0M1343 620h0M1365 638h0M1382 640h0M1425 683h0M1354 663h0M1404 719h0M1342 683h0M1395 684h0M1326 693h0M1316 685h0M1385 668h0M1375 690h0M1385 670h0M1334 695h0M1421 662h0M1340 682h0M1319 711h0M1369 671h0M1358 682h0M1364 700h0M1419 698h0M1374 698h0M1438 680h0M1360 711h0M1359 679h0M1365 714h0M1419 713h0M1312 714h0M1431 676h0M1426 680h0M1408 671h0M1394 721h0M1365 677h0M1333 674h0M1325 692h0M1392 666h0M1389 703h0M1317 698h0M1411 685h0M1354 670h0M1396 660h0M1412 672h0M1430 694h0M1327 668h0M1394 665h0M1323 676h0M1332 686h0M1416 700h0M1375 658h0M1331 663h0M1320 696h0M1394 689h0M1327 663h0M1362 672h0M1345 712h0M1406 678h0M1402 687h0M1321 672h0M1414 687h0M1399 706h0M1355 661h0M1356 705h0M1375 715h0M1314 683h0M1337 709h0M1421 674h0M1358 664h0M1395 686h0M1406 696h0M1351 685h0M1443 674h0M1428 665h0M1337 715h0M1391 678h0M1361 691h0M1356 687h0M1419 705h0M1321 693h0M1370 721h0M1353 696h0M1413 650h0M1391 681h0M1399 701h0M1331 707h0M1318 688h0M1317 704h0M1320 692h0M1356 660h0M1353 705h0M1337 680h0M1378 663h0M1399 718h0M1389 676h0M1330 714h0M1423 678h0M1319 692h0M1376 689h0M1383 698h0M1397 676h0M1424 687h0M1380 699h0M1316 702h0M1382 693h0M1316 676h0M1421 693h0M1331 717h0M1373 719h0M1398 706h0M1409 681h0M1437 680h0M1339 701h0M1437 682h0M1409 664h0M1429 675h0M1419 651h0M1349 713h0M1362 699h0M1368 672h0M1436 667h0M1393 668h0M1395 657h0M1434 676h0M1380 655h0M1382 703h0M1356 674h0M1378 705h0M1365 701h0M1336 687h0M1404 705h0M1362 698h0M1429 686h0M1372 719h0M1363 709h0M1335 673h0M1365 659h0M1392 659h0M1420 688h0M1391 690h0M1360 688h0M1362 690h0M1321 694h0M1397 659h0M1319 697h0M1410 678h0M1365 671h0M1391 709h0M1334 707h0M1345 661h0M1348 682h0M1331 719h0M1368 697h0M1385 653h0M1372 657h0M1353 697h0M1422 663h0M1392 691h0M1354 718h0M1371 673h0M1338 682h0M1325 665h0M1388 708h0M1437 669h0M1421 690h0M1336 673h0M1422 693h0M1408 714h0M1329 711h0M1324 686h0M1426 680h0M1377 687h0M1338 705h0M1314 704h0M1414 687h0M1434 681h0M1335 711h0M1363 657h0M1405 668h0M1417 676h0M1340 707h0M1407 664h0M1350 718h0M1352 717h0M1340 707h0M1409 661h0M1339 714h0M1310 690h0M1386 704h0M1313 682h0M1418 671h0M1366 662h0M1364 679h0M1398 707h0M1335 710h0M1406 709h0M1389 688h0M1398 679h0M1351 673h0M1344 704h0M1421 697h0M1416 695h0M1438 672h0M1403 660h0M1338 709h0M1399 663h0M1342 687h0M1337 670h0M1403 706h0M1434 665h0M1338 697h0M1418 678h0M1348 719h0M1368 667h0M1417 675h0M1384 676h0M1363 695h0M1388 687h0M1341 669h0M1420 702h0M1429 680h0M1349 661h0M1414 676h0M1318 703h0M1398 716h0M1410 657h0M1370 720h0M1311 686h0M1335 710h0M1366 667h0M1408 712h0M1397 653h0M1351 689h0M1372 673h0M1385 716h0M1409 700h0M1353 714h0M1339 716h0M1409 715h0M1332 698h0M1324 692h0M1417 718h0M1349 702h0M1307 687h0M1376 707h0M1403 689h0M1345 710h0M1337 701h0M1395 705h0M1393 697h0M1365 683h0M1351 689h0M1346 686h0M1329 715h0M1365 658h0M1404 671h0M1344 680h0M1398 656h0M1426 700h0M1390 672h0M1343 688h0M1356 667h0M1378 699h0M1345 709h0M1398 684h0M1374 711h0M1347 712h0M1373 663h0M1393 687h0M1333 677h0M1308 686h0M1324 694h0M1337 678h0M1430 668h0M1337 669h0M1409 679h0M1369 702h0M1334 673h0M1378 704h0M1352 717h0M1338 690h0M1372 654h0M1402 681h0M1371 693h0M1415 676h0M1380 674h0M1401 699h0M1397 718h0M1432 673h0M1340 707h0M1402 680h0M1331 667h0M1403 670h0M1315 684h0M1342 700h0M1374 655h0M1429 681h0M1384 700h0M1351 702h0M1424 659h0M1326 695h0M1327 684h0M1317 706h0M1389 700h0M1325 700h0M1314 696h0M1387 671h0M1332 668h0M1313 698h0M1400 718h0M1324 699h0M1330 661h0M1402 651h0M1322 684h0M1335 710h0M1375 660h0M1384 680h0M1387 655h0M1408 704h0M1408 672h0M1367 657h0M1369 689h0M1391 655h0M1396 693h0M1411 741h0M1368 798h0M1343 764h0M1388 744h0M1338 790h0M1320 758h0M1332 821h0M1425 760h0M1392 790h0M1333 734h0M1390 729h0M1408 745h0M1407 773h0M1404 745h0M1327 744h0M1394 760h0M1392 757h0M1424 743h0M1363 755h0M1401 743h0M1390 754h0M1357 782h0M1302 733h0M1368 791h0M1345 799h0M1342 816h0M1399 760h0M1339 792h0M1415 766h0M1343 727h0M1400 767h0M1323 718h0M1317 727h0M1414 772h0M1398 782h0M1402 741h0M1357 773h0M1412 765h0M1310 747h0M1352 740h0M1349 745h0M1372 762h0M1387 739h0M1382 735h0M1352 779h0M1326 750h0M1352 753h0M1329 818h0M1334 791h0M1337 725h0M1329 820h0M1375 785h0M1376 737h0M1363 730h0M1375 766h0M1304 740h0M1382 767h0M1392 733h0M1357 809h0M1379 778h0M1354 743h0M1363 790h0M1386 751h0M1340 780h0M1339 799h0M1385 795h0M1356 732h0M1340 738h0M1385 747h0M1400 731h0M1411 752h0M1369 739h0M1419 735h0M1321 740h0M1386 762h0M1338 777h0M1426 740h0M1346 768h0M1385 740h0M1426 745h0M1400 731h0M1371 803h0M1328 763h0M1394 784h0M1414 774h0M1343 753h0M1350 729h0M1364 793h0M1310 733h0M1349 771h0M1378 747h0M1353 770h0M1323 743h0M1365 725h0M1408 743h0M1336 763h0M1420 769h0M1423 747h0M1337 821h0M1316 725h0M1378 784h0M1310 718h0M1338 750h0M1337 765h0M1395 751h0M1352 720h0M1358 748h0M1390 753h0M1328 737h0M1374 779h0M1375 798h0M1348 773h0M1358 768h0M1424 745h0M1316 732h0M1385 732h0M1374 724h0M1388 758h0M1395 752h0M1403 757h0M1367 772h0M1366 796h0M1340 717h0M1322 744h0M1391 774h0M1371 775h0M1402 767h0M1360 756h0M1322 746h0M1428 750h0M1328 775h0M1327 733h0M1365 748h0M1427 757h0M1375 780h0M1419 749h0M1425 747h0M1342 741h0M1321 743h0M1338 725h0M1326 815h0M1328 764h0M1398 773h0M1357 750h0M1323 726h0M1369 721h0M1383 736h0M1360 786h0M1321 738h0M1344 812h0M1361 743h0M1368 763h0M1336 727h0M1424 726h0M1348 803h0M1398 731h0M1406 766h0M1309 717h0M1397 731h0M1344 770h0M1338 751h0M1386 738h0M1393 781h0M1302 732h0M1382 767h0M1354 754h0M1349 763h0M1324 729h0M1359 758h0M1420 724h0M1401 733h0M1371 800h0M1376 739h0M1323 717h0M1403 751h0M1333 807h0M1395 748h0M1409 739h0M1329 809h0M1352 785h0M1418 760h0M1341 797h0M1366 722h0M1350 732h0M1347 740h0M1307 733h0M1394 785h0M1377 749h0M1310 734h0M1401 784h0M1352 816h0M1397 790h0M1368 775h0M1383 743h0M1409 774h0M1357 741h0M1352 719h0M1363 728h0M1382 778h0M1303 735h0M1419 735h0M1333 737h0M1348 756h0M1343 787h0M1313 736h0M1356 792h0M1421 766h0M1358 729h0M1387 792h0M1332 816h0M1393 778h0M1382 726h0M1326 718h0M1326 745h0M1369 718h0M1337 804h0M1376 797h0M1392 785h0M1396 782h0M1348 747h0M1354 753h0M1421 741h0M1341 749h0M1327 737h0M1327 755h0M1418 725h0M1357 737h0M1342 809h0M1367 771h0M1427 731h0M1322 761h0M1393 784h0M1341 813h0M1339 784h0M1334 722h0M1400 768h0M1357 782h0M1394 771h0M1347 770h0M1429 745h0M1342 800h0M1343 809h0M1426 743h0M1331 808h0M1307 724h0M1328 826h0M1381 774h0M1397 722h0M1408 774h0M1412 750h0M1378 777h0M1410 726h0M1365 782h0M1380 749h0M1360 740h0M1388 783h0M1359 775h0M1315 724h0M1326 727h0M1351 753h0M1323 730h0M1375 772h0M1385 784h0M1391 787h0M1348 750h0M1406 735h0M1360 746h0M1345 808h0M1355 778h0M1312 716h0M1342 778h0M1391 758h0M1350 783h0M1366 752h0M1377 722h0M1341 722h0M1322 751h0M1342 794h0M1397 733h0M1413 725h0M1318 734h0M1333 762h0M1416 730h0M1359 748h0M1417 759h0M1362 804h0M1339 736h0M1376 770h0M1380 764h0M1336 807h0M1366 785h0M1383 739h0M1314 735h0M1319 753h0M1340 788h0M1351 729h0M1355 729h0M1347 766h0M1422 732h0M1388 760h0M1383 748h0M1422 730h0M1408 789h0M1489 769h0M1346 818h0M1415 786h0M1465 809h0M1467 741h0M1395 804h0M1425 776h0M1432 761h0M1420 784h0M1431 814h0M1343 820h0M1465 814h0M1480 757h0M1456 802h0M1435 784h0M1416 786h0M1482 787h0M1475 745h0M1444 816h0M1483 756h0M1396 804h0M1432 778h0M1475 752h0M1477 754h0M1476 767h0M1379 819h0M1491 718h0M1467 795h0M1349 822h0M1372 817h0M1303 808h0M1302 744h0M1290 736h0M1334 824h0M1242 779h0M1275 750h0M1315 812h0M1240 770h0M1339 829h0M1289 809h0M1305 773h0M1267 749h0M1289 730h0M1285 799h0M1274 792h0M1305 763h0M1252 783h0M1265 768h0M1333 831h0M1326 832h0M1291 791h0M1254 749h0M1291 803h0M1256 752h0M1305 757h0M1311 830h0M1286 734h0M1277 809h0M1328 805h0M1288 736h0M1275 796h0M1272 801h0M1261 761h0M1330 818h0M1251 794h0M1259 783h0M1344 827h0M1290 753h0M1289 823h0M1306 770h0M1267 765h0M1274 787h0M1320 828h0M1271 742h0M1270 790h0M1320 765h0M1295 826h0M1263 804h0M1254 780h0M1285 818h0M1303 770h0M1276 760h0M1280 807h0M1284 777h0M1265 767h0M1310 790h0M1281 808h0M1273 740h0M1287 819h0M1316 765h0M1274 777h0M1269 770h0M1258 802h0M1312 828h0M1296 787h0M1262 750h0M1251 795h0M1268 781h0M1313 797h0M1297 757h0M1284 743h0M1286 816h0M1257 762h0M1254 764h0M1282 758h0M1252 795h0M1298 822h0M1332 819h0M1265 773h0M1301 830h0M1311 764h0M1310 756h0M1281 740h0M1323 796h0M1299 787h0M1284 799h0M1299 757h0M1247 781h0M1259 777h0M1319 791h0M1327 801h0M1263 777h0M1298 771h0M1307 794h0M1278 788h0M1318 777h0M1289 774h0M1284 762h0M1290 824h0M1285 803h0M1288 762h0M1298 770h0M1315 815h0M1271 797h0M1307 789h0M1330 803h0M1325 801h0M1262 799h0M1244 789h0M1309 806h0M1308 785h0M1321 815h0M1279 760h0M1267 758h0M1299 805h0M1297 735h0M1316 820h0M1270 794h0M1341 826h0M1283 757h0M1252 752h0M1309 761h0M1279 806h0M1318 793h0M1255 757h0M1286 791h0M1250 772h0M1240 769h0M1287 804h0M1286 779h0M1254 773h0M1293 792h0M1289 729h0M1306 809h0M1316 821h0M1256 767h0M1290 742h0M1252 750h0M1327 830h0M1322 806h0M1298 746h0M1272 783h0M1310 823h0M1321 784h0M1269 812h0M1287 777h0M1289 818h0M1292 730h0M1275 753h0M1266 784h0M1257 747h0M1289 821h0M1280 747h0M1247 775h0M1274 751h0M1251 786h0M1303 800h0M1265 744h0M1283 741h0M1311 777h0M1296 730h0M1328 793h0M1297 809h0M1305 783h0M1256 764h0M1314 766h0M1276 740h0M1262 752h0M1275 811h0M1293 820h0M1303 725h0M1297 779h0M1273 755h0M1279 821h0M1297 804h0M1276 799h0M1325 790h0M1273 741h0M1334 821h0M1312 831h0M1301 793h0M1315 763h0M1276 776h0M1261 763h0M1277 793h0M1295 756h0M1305 818h0M1312 831h0M1319 798h0M1261 760h0M1255 759h0M1316 763h0M1265 742h0M1299 762h0M1284 808h0M1312 800h0M1293 752h0M1332 819h0M1300 825h0M1272 790h0M1264 798h0M1246 782h0M1285 759h0M1312 781h0M1322 790h0M1313 808h0M1324 813h0M1306 793h0M1267 803h0M1295 819h0M1256 772h0M1243 775h0M1247 756h0M1288 771h0M1320 816h0M1276 798h0M1274 760h0M1315 805h0M1323 782h0M1289 756h0M1300 737h0M1339 820h0M1285 816h0M1287 767h0M1310 817h0M1253 754h0M1266 763h0M1290 779h0M1331 812h0M1273 796h0M1266 788h0M1267 768h0M1253 773h0M1265 745h0M1296 808h0M1312 819h0M1297 733h0M1252 748h0M1321 793h0M1293 785h0M1319 762h0M1331 809h0M1295 783h0M1309 791h0M1264 810h0M1255 744h0M1282 739h0M1293 799h0M1280 803h0M1275 788h0M1252 783h0M1271 790h0M1286 757h0M1327 812h0M1268 755h0M1322 809h0M1311 785h0M1323 825h0M1288 772h0M1323 812h0M1311 752h0M1274 804h0M1275 765h0M1316 823h0M1292 742h0M1250 774h0M1320 782h0M1264 749h0M1289 742h0M1254 789h0M1284 812h0M1320 808h0M1278 779h0M1311 757h0M1261 801h0M1285 820h0M1278 696h0M1269 672h0M1282 734h0M1305 662h0M1294 682h0M1263 710h0M1298 670h0M1259 707h0M1280 722h0M1277 661h0M1273 663h0M1254 734h0M1276 673h0M1269 699h0M1267 698h0M1305 687h0M1273 693h0M1268 738h0M1292 722h0M1300 704h0M1297 716h0M1281 656h0M1276 723h0M1283 722h0M1285 734h0M1257 697h0M1276 693h0M1283 668h0M1292 720h0M1409 834h0M1523 828h0M1389 858h0M1483 831h0M1498 823h0M1504 829h0M1480 835h0M1475 820h0M1475 820h0M1505 825h0M1477 820h0M1467 834h0M1486 840h0M1451 847h0M1409 837h0M1467 842h0M1441 836h0M1418 831h0M1487 841h0M1434 833h0M1398 855h0M1435 852h0M1468 848h0M1452 830h0M1478 831h0M1385 866h0M1456 821h0M1429 842h0M1407 854h0M1386 850h0M1422 842h0M1401 844h0M1485 837h0M1435 836h0M1384 841h0M1448 732h0M1450 775h0M1472 751h0M1487 736h0M1470 704h0M1430 686h0M1455 746h0M1439 693h0M1481 757h0M1490 777h0M1445 717h0M1485 730h0M1445 774h0M1430 679h0M1420 752h0M1432 764h0M1461 748h0M1429 715h0M1454 770h0M1491 724h0M1431 703h0M1466 743h0M1450 698h0M1434 744h0M1486 729h0M1444 761h0M1439 741h0M1270 858h0M1382 844h0M1290 870h0M1339 870h0M1326 861h0M1329 850h0M1320 871h0M1268 842h0M1353 849h0M1318 850h0M1405 798h0M1355 845h0M1337 838h0M1403 832h0M1363 841h0M1246 825h0M1373 822h0M1412 807h0M1344 838h0M1306 851h0M1271 837h0M1420 794h0M1315 870h0M1328 871h0M1360 852h0M1326 852h0M1264 854h0M1327 868h0M1346 854h0M1280 853h0M1319 862h0M1404 835h0M1430 814h0M1305 981h0M1307 894h0M1285 990h0M1321 894h0M1581 922h0M1518 1114h0M1388 888h0M1480 992h0M1397 857h0M1439 896h0M1316 980h0M1575 1029h0M1508 916h0M1385 859h0M1333 973h0M1545 865h0M1449 1085h0M1382 936h0M1432 1143h0M1456 934h0M1494 962h0M1446 1024h0M1367 1097h0M1508 1062h0M1415 1129h0M1456 1016h0M1309 976h0M1523 1006h0M1457 1104h0M1489 978h0M1565 1114h0M1302 1000h0M1494 940h0M1496 1163h0M1581 1012h0M1452 869h0M1562 1094h0M1451 1037h0M1421 1030h0M1535 922h0M1418 1103h0M1396 919h0M1327 1011h0M1437 1015h0M1337 870h0M1291 954h0M1343 954h0M1396 934h0M1431 977h0M1474 909h0M1330 945h0M1567 925h0M1312 983h0M1413 1062h0M1370 1128h0M1559 906h0M1462 1136h0M1526 947h0M1363 940h0M1311 940h0M1554 1057h0M1412 1072h0M1448 1037h0M1452 910h0M1357 941h0M1533 1115h0M1378 889h0M1536 998h0M1563 917h0M1572 1046h0M1474 940h0M1352 1006h0M1353 903h0M1339 1065h0M1320 875h0M1453 1144h0M1384 1027h0M1577 941h0M1280 966h0M1526 966h0M1329 950h0M1593 980h0M1503 870h0M1561 1075h0M1474 1160h0M1620 899h0M1569 990h0M1396 1099h0M1520 1078h0M1349 968h0M1535 1075h0M1459 808h0M1465 975h0M1564 852h0M1616 923h0M1416 989h0M1523 944h0M1457 1158h0M1336 970h0M1389 888h0M1541 844h0M1351 1100h0M1284 985h0M1536 1108h0M1512 925h0M1524 891h0M1497 826h0M1429 1117h0M1408 937h0M1354 942h0M1389 949h0M1562 913h0M1447 957h0M1478 837h0M1506 1120h0M1524 960h0M1484 1042h0M1354 999h0M1444 1171h0M1320 1051h0M1361 1106h0M1393 962h0M1553 1090h0M1603 866h0M1472 1131h0M1429 1040h0M1427 973h0M1510 1024h0M1568 986h0M1464 887h0M1458 994h0M1472 994h0M1511 939h0M1565 929h0M1388 902h0M1475 1085h0M1391 1109h0M1429 998h0M1413 1120h0M1288 956h0M1355 1086h0M1453 1101h0M1521 994h0M1379 859h0M1600 1097h0M1593 1084h0M1523 938h0M1500 1158h0M1419 905h0M1370 982h0M1458 931h0M1395 851h0M1479 928h0M1452 894h0M1399 1095h0M1511 941h0M1447 864h0M1513 1114h0M1604 982h0M1492 1052h0M1343 1094h0M1408 1151h0M1374 859h0M1430 900h0M1579 1090h0M1527 916h0M1394 988h0M1586 941h0M1608 1087h0M1585 928h0M1425 820h0M1533 1065h0M1484 902h0M1402 1081h0M1493 914h0M1578 1012h0M1364 851h0M1376 1087h0M1518 1034h0M1402 831h0M1484 863h0M1488 1166h0M1354 868h0M1321 1035h0M1452 938h0M1442 1064h0M1482 1140h0M1401 992h0M1409 881h0M1377 1098h0M1519 1120h0M1512 1056h0M1608 1085h0M1329 913h0M1502 1130h0M1448 804h0M1411 1000h0M1456 966h0M1457 1036h0M1469 870h0M1548 893h0M1591 1087h0M1416 852h0M1329 1005h0M1428 881h0M1351 1076h0M1392 1013h0M1486 966h0M1308 932h0M1503 980h0M1589 947h0M1290 948h0M1533 1035h0M1476 838h0M1485 1059h0M1574 1008h0M1530 884h0M1521 913h0M1538 1076h0M1601 931h0M1497 1167h0M1437 969h0M1606 965h0M1520 1078h0M1289 962h0M1532 1080h0M1387 853h0M1460 1053h0M1325 892h0M1456 981h0M1333 957h0M1476 1055h0M1446 846h0M1585 980h0M1591 988h0M1552 917h0M1535 939h0M1514 853h0M1377 944h0M1304 1010h0M1454 1099h0M1417 874h0M1531 1084h0M1350 1081h0M1563 895h0M1502 991h0M1543 1093h0M1530 994h0M1414 1048h0M1325 899h0M1542 1125h0M1551 1081h0M1452 1095h0M1369 1057h0M1454 1153h0M1361 1017h0M1529 852h0M1342 1109h0M1313 997h0M1417 930h0M1471 809h0M1610 950h0M1296 929h0M1609 895h0M1376 881h0M1373 1126h0M1428 936h0M1523 1019h0M1409 959h0M1323 999h0M1484 941h0M1469 968h0M1439 836h0M1559 1040h0M1380 968h0M1459 802h0M1431 1046h0M1312 1000h0M1411 1150h0M1365 870h0M1585 1091h0M1449 824h0M1557 1036h0M1562 1016h0M1463 973h0M1468 1116h0M1390 1100h0M1597 1056h0M1413 991h0M1376 955h0M1582 1121h0M1585 1107h0M1540 853h0M1598 996h0M1392 884h0M1465 888h0M1392 969h0M1491 1018h0M1511 951h0M1398 927h0M1466 1023h0M1482 1071h0M1288 957h0M1500 930h0M1439 963h0M1557 967h0M1585 921h0M1493 1120h0M1421 953h0M1309 950h0M1361 1044h0M1473 1007h0M1494 854h0M1588 872h0M1509 916h0M1469 1111h0M1433 1128h0M1446 896h0M1400 913h0M1318 1022h0M1591 996h0M1413 958h0M1439 899h0M1495 1049h0M1507 1104h0M1462 866h0M1521 1024h0M1371 1012h0M1378 927h0M1313 905h0M1470 1080h0M1589 956h0M1613 1016h0M1439 1131h0M1612 928h0M1431 1041h0M1375 1037h0M1304 1041h0M1524 860h0M1438 1165h0M1464 868h0M1346 978h0M1451 848h0M1293 949h0M1282 959h0M1396 992h0M1340 962h0M1514 838h0M1549 947h0M1373 1056h0M1314 1036h0M1512 847h0M1345 1079h0M1524 1115h0M1452 853h0M1414 909h0M1380 964h0M1312 881h0M1508 1047h0M1422 879h0M1342 1092h0M1404 1114h0M1592 1017h0M1463 816h0M1534 865h0M1500 938h0M1575 976h0M1495 973h0M1509 1067h0M1499 895h0M1541 946h0M1513 1117h0M1491 955h0M1505 1029h0M1574 975h0M1494 850h0M1403 1004h0M1553 1109h0M1548 857h0M1423 993h0M1486 801h0M1361 958h0M1327 922h0M1308 972h0M1480 804h0M1607 922h0M1403 832h0M1365 856h0M1431 1113h0M1601 1018h0M1506 1120h0M1596 1030h0M1555 1013h0M1427 1022h0M1338 930h0M1361 959h0M1309 983h0M1590 1063h0M1540 1079h0M1391 1094h0M1398 919h0M1428 956h0M1539 952h0M1491 992h0M1529 939h0M1488 1173h0M1371 1080h0M1582 888h0M1536 1067h0M1517 1049h0M1339 1024h0M1519 1168h0M1379 1130h0M1602 877h0M1519 932h0M1363 1070h0M1615 866h0M1603 996h0M1451 1162h0M1554 1113h0M1590 906h0M1437 849h0M1578 895h0M1420 870h0M1400 1042h0M1466 898h0M1307 1044h0M1494 1164h0M1316 922h0M1324 954h0M1313 878h0M1450 1147h0M1428 1156h0M1395 1119h0M1382 886h0M1561 1060h0M1594 867h0M1519 1031h0M1541 996h0M1308 1030h0M1324 951h0M1386 1089h0M1548 1045h0M1445 811h0M1379 914h0M1575 1010h0M1534 1147h0M1380 940h0M1329 877h0M1484 1157h0M1503 841h0M1520 948h0M1439 1070h0M1378 1010h0M1444 996h0M1428 840h0M1534 1110h0M1424 1035h0M1477 1134h0M1425 1079h0M1386 835h0M1377 1151h0M1410 1113h0M1367 903h0M1405 937h0M1464 1054h0M1350 958h0M1608 975h0M1349 890h0M1325 1058h0M1507 1113h0M1348 1102h0M1491 930h0M1599 955h0M1314 1038h0M1297 933h0M1544 924h0M1454 993h0M1323 878h0M1490 891h0M1515 1124h0M1501 1046h0M1532 1055h0M1431 1144h0M1510 896h0M1578 1121h0M1313 939h0M1343 914h0M1334 1014h0M1398 1092h0M1520 1081h0M1425 973h0M1610 1046h0M1354 907h0M1411 942h0M1420 827h0M1521 845h0M1627 868h0M1453 983h0M1481 1090h0M1415 1108h0M1445 868h0M1438 881h0M1429 1094h0M1494 1033h0M1600 1025h0M1437 1007h0M1531 990h0M1446 1002h0M1418 881h0M1500 887h0M1426 907h0M1435 988h0M1539 864h0M1513 839h0M1456 903h0M1526 833h0M1525 1131h0M1458 886h0M1594 1049h0M1544 978h0M1546 1002h0M1433 893h0M1341 969h0M1341 911h0M1468 958h0M1344 945h0M1568 1067h0M1538 912h0M1374 1143h0M1317 983h0M1435 1085h0M1363 1063h0M1319 1011h0M1421 905h0M1419 1096h0M1332 1056h0M1517 1135h0M1386 855h0M1405 965h0M1391 925h0M1586 1011h0M1527 1112h0M1487 839h0M1422 950h0M1354 1036h0M1408 854h0M1316 912h0M1327 917h0M1562 1060h0M1402 931h0M1453 1124h0M1608 1042h0M1513 1060h0M1405 916h0M1547 1035h0M1527 902h0M1569 853h0M1563 857h0M1449 1169h0M1512 1075h0M1560 952h0M1374 905h0M1414 1084h0M1324 910h0M1416 1054h0M1433 824h0M1423 960h0M1433 1052h0M1391 1005h0M1577 961h0M1558 1126h0M1579 871h0M1551 982h0M1565 915h0M1601 861h0M1409 924h0M1599 1009h0M1592 927h0M1518 1159h0M1329 1035h0M1436 830h0M1513 848h0M1337 1064h0M1402 885h0M1602 1012h0M1584 1092h0M1429 877h0M1441 837h0M1579 908h0M1485 1158h0M1287 967h0M1482 902h0M1413 863h0M1426 1049h0M1485 1041h0M1324 1042h0M1450 969h0M1344 924h0M1565 969h0M1288 959h0M1412 992h0M1524 954h0M1538 1013h0M1545 1087h0M1412 945h0M1510 826h0M1543 1042h0M1525 1140h0M1547 898h0M1466 1050h0M1559 1143h0M1475 1049h0M1520 957h0M1350 1095h0M1529 1109h0M1558 959h0M1423 1055h0M1512 1153h0M1516 1045h0M1420 1097h0M1396 1048h0M1385 1082h0M1574 933h0M1485 986h0M1420 1169h0M1302 940h0M1380 961h0M1341 1080h0M1512 937h0M1471 1121h0M1463 1065h0M1551 848h0M1302 925h0M1330 1069h0M1384 1103h0M1515 1050h0M1483 991h0M1564 847h0M1478 838h0M1359 1114h0M1321 1058h0M1466 957h0M1361 1015h0M1346 883h0M1463 1173h0M1383 942h0M1534 1092h0M1539 1119h0M1411 1041h0M1490 1163h0M1406 1140h0M1472 1173h0M1340 1066h0M1498 1030h0M1394 934h0M1585 870h0M1543 936h0M1493 1010h0M1409 886h0M1615 1066h0M1476 1174h0M1311 908h0M1411 981h0M1374 1139h0M1393 910h0M1411 957h0M1441 1049h0M1455 1031h0M1513 1173h0M1512 932h0M1534 1025h0M1442 1024h0M1423 1109h0M1573 1062h0M1384 992h0M1539 935h0M1366 930h0M1595 1012h0M1354 958h0M1562 1133h0M1517 914h0M1479 883h0M1303 957h0M1541 1008h0M1536 903h0M1572 1021h0M1440 821h0M1505 1037h0M1302 936h0M1480 822h0M1540 1040h0M1434 1055h0M1601 1030h0M1454 976h0M1475 1164h0M1498 941h0M1610 999h0M1487 1056h0M1397 929h0M1589 1001h0M1463 1020h0M1412 926h0M1592 854h0M1539 1134h0M1612 1015h0M1497 1135h0M1603 972h0M1372 1032h0M1408 1139h0M1323 915h0M1318 1061h0M1485 1029h0M1570 960h0M1497 1049h0M1501 957h0M1475 1098h0M1603 897h0M1444 852h0M1562 959h0M1566 1056h0M1366 1082h0M1614 888h0M1412 890h0M1519 1170h0M1440 999h0M1446 914h0M1407 934h0M1468 1168h0M1488 994h0M1585 935h0M1390 1084h0M1334 1094h0M1355 1099h0M1541 890h0M1471 940h0M1537 867h0M1472 977h0M1294 1028h0M1474 1100h0M1429 1044h0M1518 879h0M1575 1084h0M1390 1031h0M1290 955h0M1401 941h0M1407 915h0M1448 1078h0M1505 1143h0M1484 889h0M1467 934h0M1583 1028h0M1540 943h0M1401 974h0M1445 1118h0M1374 1085h0M1605 1011h0M1393 1018h0M1507 868h0M1403 974h0M1592 980h0M1355 929h0M1463 950h0M1556 1053h0M1501 1048h0M1517 1040h0M1529 879h0M1347 1058h0M1304 1030h0M1361 1118h0M1441 825h0M1380 1095h0M1501 871h0M1511 1131h0M1328 914h0M1472 1084h0M1546 1152h0M1446 1127h0M1459 910h0M1555 993h0M1511 916h0M1458 915h0M1386 1109h0M1391 1113h0M1466 1176h0M1540 881h0M1482 853h0M1457 1000h0M1610 1037h0M1512 921h0M1428 1019h0M1476 1027h0M1448 1166h0M1472 892h0M1544 1101h0M1527 964h0M1456 841h0M1408 833h0M1365 1029h0M1390 875h0M1436 916h0M1415 1129h0M1475 885h0M1570 1069h0M1361 956h0M1456 915h0M1536 1159h0M1404 1147h0M1505 902h0M1499 872h0M1431 982h0M1417 1118h0M1533 914h0M1513 883h0M1418 877h0M1370 894h0M1556 1029h0M1497 1026h0M1422 1016h0M1411 841h0M1438 1036h0M1579 873h0M1466 1024h0M1494 839h0M1522 1021h0M1451 1055h0M1399 1120h0M1489 1013h0M1424 996h0M1337 886h0M1494 867h0M1430 1141h0M1621 892h0M1299 934h0M1441 936h0M1565 979h0M1371 949h0M1379 1087h0M1345 886h0M1431 915h0M1460 1026h0M1317 979h0M1499 1061h0M1483 1117h0M1505 1153h0M1309 1007h0M1352 910h0M1519 983h0M1414 1043h0M1500 831h0M1314 970h0M1404 1060h0M1534 876h0M1554 932h0M1464 884h0M1522 974h0M1474 904h0M1455 1015h0M1483 1093h0M1305 994h0M1517 919h0M1576 990h0M1491 828h0M1544 1071h0M1331 1095h0M1401 1126h0M1477 1120h0M1462 1095h0M1364 1012h0M1457 875h0M1399 1004h0M1436 1150h0M1362 907h0M1518 1039h0M1565 862h0M1296 919h0M1475 832h0M1538 1116h0M1375 1098h0M1282 990h0M1563 973h0M1479 927h0M1556 947h0M1351 977h0M1522 1130h0M1448 1076h0M1435 826h0M1587 1075h0M1567 1117h0M1474 1060h0M1478 1070h0M1577 974h0M1388 883h0M1610 878h0M1580 1026h0M1407 951h0M1505 1091h0M1483 1157h0M1594 928h0M1434 1170h0M1510 952h0M1436 1070h0M1304 1017h0M1420 935h0M1458 879h0M1578 947h0M1547 978h0M1414 909h0M1431 912h0M1356 868h0M1357 1030h0M1484 1015h0M1465 1051h0M1386 837h0M1346 1008h0M1475 1159h0M1410 867h0M1313 1019h0M1362 872h0M1607 930h0M1556 969h0M1533 1105h0M1307 928h0M1497 830h0M1556 1085h0M1435 1105h0M1430 1167h0M1437 997h0M1368 1126h0M1489 1055h0M1457 895h0M1381 929h0M1486 977h0M1469 925h0M1380 1000h0M1483 1029h0M1578 946h0M1456 1136h0M1415 918h0M1390 1102h0M1579 1095h0M1557 988h0M1518 1122h0M1336 1042h0M1497 1058h0M1402 839h0M1396 1092h0M1453 936h0M1386 996h0M1382 1001h0M1399 926h0M1370 884h0M1603 953h0M1302 990h0M1521 1141h0M1542 930h0M1450 1079h0M1364 915h0M1571 1022h0M1439 1121h0M1508 1099h0M1464 996h0M1315 924h0M1394 986h0M1379 1042h0M1450 1174h0M1407 993h0M1509 857h0M1519 988h0M1412 1112h0M1457 858h0M1462 1105h0M1483 1056h0M1371 956h0M1491 1074h0M1285 937h0M1457 958h0M1465 1047h0M1339 965h0M1466 1056h0M1387 966h0M1525 1062h0M1568 1092h0M1436 975h0M1404 1161h0M1531 921h0M1494 1109h0M1532 1069h0M1365 993h0M1305 890h0M1546 918h0M1599 850h0M1438 1108h0M1426 979h0M1565 1085h0M1297 978h0M1352 926h0M1604 969h0M1559 943h0M1445 1174h0M1475 1095h0M1560 957h0M1555 979h0M1358 892h0M1468 912h0M1389 973h0M1596 1000h0M1407 1000h0M1333 995h0M1605 982h0M1487 818h0M1389 1106h0M1606 978h0M1474 1021h0M1321 1037h0M1472 906h0M1452 939h0M1525 1006h0M1471 927h0M1476 1116h0M1334 1089h0M1502 1119h0M1603 1024h0M1582 1000h0M1433 1092h0M1460 925h0M1365 876h0M1336 1012h0M1531 1106h0M1439 821h0M1546 1001h0M1556 1008h0M1463 1012h0M1513 1067h0M1312 983h0M1408 943h0M1445 852h0M1538 1155h0M1432 922h0M1416 942h0M1549 850h0M1488 1173h0M1486 966h0M1391 972h0M1401 1071h0M1468 922h0M1509 836h0M1547 1074h0M1352 883h0M1307 912h0M1395 836h0M1569 919h0M1458 814h0M1500 955h0M1391 1106h0M1451 862h0M1444 1043h0M1460 966h0M1417 823h0M1416 1134h0M1481 919h0M1592 914h0M1385 840h0M1471 934h0M1509 1172h0M1386 863h0M1451 1084h0M1402 933h0M1388 867h0M1336 931h0M1525 941h0M1356 994h0M1458 1155h0M1447 833h0M1429 1086h0M1281 959h0M1377 979h0M1379 974h0M1294 924h0M1381 1095h0M1394 1092h0M1347 969h0M1339 1104h0M1516 840h0M1514 933h0M1350 1076h0M1452 989h0M1479 1002h0M1381 1142h0M1406 1009h0M1328 1019h0M1529 1129h0M1314 926h0M1379 1003h0M1430 915h0M1555 1017h0M1390 942h0M1415 1083h0M1473 1167h0M1378 1152h0M1475 1054h0M1533 944h0M1506 997h0M1483 926h0M1425 930h0M1522 1047h0M1395 1047h0M1337 870h0M1573 942h0M1340 958h0M1554 843h0M1321 933h0M1475 1074h0M1387 1014h0M1540 1154h0M1544 1120h0M1393 1145h0M1439 912h0M1402 1107h0M1498 1092h0M1547 1039h0M1491 1012h0M1447 815h0M1452 836h0M1589 860h0M1411 826h0M1347 951h0M1305 1023h0M1506 829h0M1403 1024h0M1427 869h0M1441 991h0M1330 884h0M1421 824h0M1459 983h0M1580 893h0M1444 1161h0M1475 808h0M1421 846h0M1605 1073h0M1560 1008h0M1450 804h0M1591 844h0M1463 1037h0M1362 923h0M1409 839h0M1530 1111h0M1302 916h0M1334 993h0M1607 998h0M1521 1143h0M1393 1024h0M1492 1012h0M1553 903h0M1491 963h0M1322 1039h0M1476 894h0M1372 1074h0M1595 980h0M1324 1007h0M1323 1021h0M1413 1136h0M1311 1045h0M1420 860h0M1427 1052h0M1422 890h0M1362 869h0M1453 876h0M1344 929h0M1335 969h0M1438 1076h0M1407 1015h0M1413 932h0M1612 973h0M1320 1017h0M1567 915h0M1553 1036h0M1335 999h0M1459 1171h0M1538 847h0M1510 952h0M1358 906h0M1608 1020h0M1538 1119h0M1519 889h0M1528 1140h0M1477 979h0M1420 863h0M1494 983h0M1453 904h0M1590 1077h0M1497 860h0M1330 966h0M1568 942h0M1489 1004h0M1387 1034h0M1347 927h0M1407 1005h0M1438 1042h0M1355 981h0M1399 922h0M1469 952h0M1359 1093h0M1301 1002h0M1576 1076h0M1523 1068h0M1433 1043h0M1365 1115h0M1461 908h0M1393 1062h0M1426 846h0M1391 1076h0M1337 906h0M1521 1058h0M1543 1008h0M1396 853h0M1468 928h0M1418 943h0M1578 989h0M1423 842h0M1445 943h0M1314 1046h0M1589 874h0M1519 908h0M1326 1056h0M1554 867h0M1570 1060h0M1352 1078h0M1599 1069h0M1527 1094h0M1487 962h0M1357 1051h0M1530 1101h0M1440 848h0M1606 963h0M1483 1148h0M1602 1053h0M1516 915h0M1528 1004h0M1447 805h0M1480 1104h0M1453 972h0M1417 1120h0M1518 1065h0M1453 1053h0M1506 968h0M1537 1054h0M1396 1032h0M1511 1013h0M1550 1005h0M1559 1126h0M1510 1151h0M1432 978h0M1390 862h0M1546 1065h0M1495 1088h0M1605 936h0M1503 875h0M1554 882h0M1311 946h0M1505 1104h0M1585 1011h0M1537 974h0M1477 872h0M1448 1076h0M1501 924h0M1565 997h0M1597 882h0M1563 1132h0M1405 879h0M1393 900h0M1371 1014h0M1312 994h0M1611 912h0M1306 949h0M1334 934h0M1426 819h0M1342 1062h0M1540 1115h0M1486 964h0M1504 995h0M1501 926h0M1331 999h0M1415 1155h0M1566 873h0M1559 1059h0M1497 1138h0M1575 1067h0M1417 957h0M1513 904h0M1332 921h0M1402 852h0M1547 1027h0M1477 955h0M1397 862h0M1384 979h0M1451 1132h0M1522 1107h0M1474 1172h0M1518 1114h0M1579 1078h0M1515 1155h0M1565 1057h0M1404 1011h0M1550 1084h0M1600 1037h0M1552 1106h0M1562 920h0M1442 1157h0M1473 912h0M1361 949h0M1505 966h0M1572 1094h0M1545 960h0M1550 976h0M1623 888h0M1550 974h0M1464 1022h0M1412 1058h0M1590 876h0M1451 827h0M1381 1100h0M1449 1138h0M1521 967h0M1286 974h0M1452 919h0M1309 1048h0M1344 906h0M1611 983h0M1390 985h0M1319 959h0M1376 1069h0M1588 993h0M1528 942h0M1373 994h0M1408 1034h0M1429 891h0M1430 1036h0M1371 1088h0M1607 986h0M1509 1167h0M1305 949h0M1499 814h0M1449 1173h0M1594 1011h0M1509 1014h0M1454 1167h0M1492 966h0M1393 1057h0M1555 1073h0M1406 991h0M1391 1018h0M1494 1051h0M1467 818h0M1477 1041h0M1416 1020h0M1528 1066h0M1339 882h0M1572 1057h0M1331 997h0M1605 933h0M1325 966h0M1428 892h0M1588 978h0M1335 1013h0M1440 989h0M1547 1064h0M1533 1075h0M1443 1035h0M1580 846h0M1434 1084h0M1472 1055h0M1529 862h0M1390 847h0M1549 956h0M1363 951h0M1423 858h0M1476 1015h0M1446 849h0M1470 1167h0M1413 1115h0M1368 1085h0M1457 958h0M1391 925h0M1420 1023h0M1310 1016h0M1362 1111h0M1464 1008h0M1467 932h0M1520 842h0M1333 917h0M1595 1072h0M1489 1067h0M1524 956h0M1319 897h0M1426 861h0M1381 887h0M1620 901h0M1587 1063h0M1511 1136h0M1484 1044h0M1491 1040h0M1449 1171h0M1428 915h0M1364 1107h0M1616 1022h0M1337 878h0M1454 845h0M1355 936h0M1287 1000h0M1375 1127h0M1355 1044h0M1521 1154h0M1523 901h0M1563 851h0M1414 1036h0M1482 1150h0M1348 863h0M1528 1087h0M1521 889h0M1594 950h0M1536 861h0M1420 918h0M1500 914h0M1506 1062h0M1475 1099h0M1362 966h0M1503 1111h0M1458 1171h0M1539 980h0M1425 1119h0M1548 1070h0M1334 1008h0M1417 1045h0M1415 900h0M1370 1086h0M1305 999h0M1488 1160h0M1489 934h0M1378 879h0M1367 1111h0M1415 1093h0M1584 974h0M1337 881h0M1527 931h0M1357 1110h0M1618 1031h0M1480 1069h0M1466 934h0M1477 950h0M1507 1062h0M1473 1054h0M1360 924h0M1444 896h0M1473 942h0M1504 859h0M1426 1067h0M1532 930h0M1448 886h0M1426 1023h0M1488 834h0M1375 922h0M1536 857h0M1472 810h0M1493 1124h0M1322 950h0M1476 1120h0M1522 910h0M1522 1069h0M1426 1086h0M1406 951h0M1460 889h0M1543 985h0M1561 876h0M1612 1066h0M1387 916h0M1512 1043h0M1590 1008h0M1437 1051h0M1473 1000h0M1474 964h0M1441 811h0M1538 884h0M1548 882h0M1313 1047h0M1373 969h0M1434 828h0M1452 1126h0M1571 863h0M1508 995h0M1364 875h0M1465 802h0M1481 884h0M1600 859h0M1463 963h0M1511 937h0M1397 1135h0M1443 835h0M1282 982h0M1476 1062h0M1386 1135h0M1456 1156h0M1468 838h0M1467 1042h0M1555 942h0M1470 1028h0M1573 1089h0M1557 933h0M1410 1022h0M1557 1085h0M1462 913h0M1527 856h0M1529 919h0M1428 1137h0M1450 1149h0M1479 1069h0M1504 985h0M1472 802h0M1428 979h0M1466 859h0M1336 1049h0M1392 1111h0M1439 1062h0M1603 974h0M1311 957h0M1494 1099h0M1313 984h0M1455 1041h0M1586 982h0M1569 909h0M1567 968h0M1472 1091h0M1403 854h0M1607 930h0M1600 943h0M1496 949h0M1311 903h0M1435 1038h0M1499 1011h0M1384 1047h0M1346 939h0M1498 1112h0M1471 1165h0M1587 895h0M1513 833h0M1528 869h0M1504 1047h0M1458 1090h0M1398 1113h0M1506 849h0M1446 1023h0M1402 1049h0M1504 1134h0M1491 1114h0M1377 1052h0M1343 1087h0M1519 1156h0M1527 1075h0M1584 1113h0M1552 971h0M1493 1022h0M1344 984h0M1453 1051h0M1507 1074h0M1520 1072h0M1479 1017h0M1294 959h0M1365 876h0M1392 1101h0M1592 901h0M1554 966h0M1503 1164h0M1416 1017h0M1479 1131h0M1366 868h0M1324 921h0M1593 878h0M1507 891h0M1478 850h0M1585 977h0M1395 1001h0M1392 973h0M1388 1093h0M1394 1151h0M1543 974h0M1443 813h0M1326 935h0M1376 929h0M1390 881h0M1448 976h0M1345 890h0M1393 1090h0M1461 1031h0M1510 913h0M1614 898h0M1519 892h0M1373 1060h0M1526 1078h0M1573 913h0M1326 980h0M1473 995h0M1475 872h0M1519 1002h0M1418 1116h0M1327 1027h0M1347 1090h0M1585 1027h0M1377 933h0M1517 922h0M1420 840h0M1544 1079h0M1378 1148h0M1516 880h0M1605 910h0M1425 1087h0M1561 944h0M1421 1031h0M1594 1053h0M1377 916h0M1402 1150h0M1603 1072h0M1351 1009h0M1377 1037h0M1480 875h0M1430 899h0M1487 1124h0M1450 897h0M1484 1068h0M1580 960h0M1350 971h0M1297 987h0M1452 940h0M1333 931h0M1588 1089h0M1382 923h0M1564 889h0M1344 893h0M1489 1163h0M1519 1150h0M1488 1078h0M1517 845h0M1459 1025h0M1421 1030h0M1312 989h0M1361 952h0M1450 1057h0M1335 1003h0M1531 850h0M1386 918h0M1503 1163h0M1378 839h0M1349 1019h0M1548 1136h0M1431 860h0M1444 1056h0M1420 826h0M1373 1137h0M1293 989h0M1560 1133h0M1465 1122h0M1442 1029h0M1351 894h0M1446 896h0M1319 1037h0M1508 1087h0M1470 981h0M1397 1137h0M1580 1071h0M1314 973h0M1498 1014h0M1479 866h0M1576 844h0M1522 887h0M1577 1080h0M1449 844h0M1493 1006h0M1474 1146h0M1456 959h0M1486 900h0M1455 1108h0M1343 952h0M1492 868h0M1333 985h0M1408 952h0M1480 1029h0M1366 850h0M1378 864h0M1491 1046h0M1458 898h0M1376 1053h0M1371 965h0M1518 998h0M1435 872h0M1551 1045h0M1390 917h0M1328 947h0M1494 1122h0M1575 1095h0M1495 1158h0M1607 851h0M1462 865h0M1568 844h0M1413 1128h0M1478 962h0M1573 886h0M1412 843h0M1413 902h0M1447 927h0M1512 1121h0M1347 959h0M1508 908h0M1476 941h0M1397 853h0M1592 852h0M1528 859h0M1584 948h0M1524 960h0M1432 1023h0M1521 945h0M1515 1103h0M1426 1013h0M1593 933h0M1376 912h0M1458 999h0M1559 1061h0M1327 1026h0M1309 1030h0M1447 977h0M1449 958h0M1536 1010h0M1536 1143h0M1370 1110h0M1317 987h0M1394 882h0M1285 980h0M1495 842h0M1360 880h0M1368 902h0M1568 925h0M1393 844h0M1568 1130h0M1515 1069h0M1526 941h0M1394 1006h0M1536 1005h0M1597 1029h0M1601 1042h0M1298 995h0M1419 888h0M1530 894h0M1596 974h0M1566 1061h0M1316 1035h0M1515 870h0M1381 873h0M1331 1052h0M1517 1013h0M1413 1055h0M1373 845h0M1422 889h0M1560 1134h0M1490 964h0M1530 1052h0M1556 1127h0M1438 875h0M1378 1009h0M1596 933h0M1443 1104h0M1485 1076h0M1440 1076h0M1501 849h0M1402 1021h0M1502 882h0M1318 1071h0M1360 1057h0M1325 876h0M1316 960h0M1526 1033h0M1600 892h0M1592 976h0M1420 1013h0M1483 1171h0M1601 1039h0M1578 859h0M1530 995h0M1461 835h0M1539 1081h0M1348 940h0M1527 1131h0M1444 1092h0M1292 1004h0M1313 1013h0M1381 1013h0M1439 814h0M1328 1035h0M1283 970h0M1405 1011h0M1401 1065h0M1309 910h0M1445 827h0M1564 849h0M1507 913h0M1342 939h0M1583 998h0M1357 882h0M1459 927h0M1493 1001h0M1383 1151h0M1409 1126h0M1319 1037h0M1485 984h0M1352 1058h0M1470 1061h0M1467 886h0M1537 839h0M1528 844h0M1332 1079h0M1481 906h0M1406 1063h0M1395 874h0M1417 1018h0M1597 1038h0M1546 901h0M1388 1116h0M1496 1030h0M1371 899h0M1457 1153h0M1460 1056h0M1515 1169h0M1567 1006h0M1547 870h0M1328 915h0M1378 840h0M1407 1070h0M1569 1081h0M1419 949h0M1495 1056h0M1386 1148h0M1505 981h0M1520 1124h0M1481 852h0M1418 1107h0M1382 1044h0M1540 1158h0M1498 945h0M1477 840h0M1493 872h0M1594 1083h0M1305 997h0M1495 1021h0M1519 896h0M1425 1059h0M1302 971h0M1344 872h0M1416 849h0M1512 1096h0M1612 970h0M1478 831h0M1451 1149h0M1613 1059h0M1596 918h0M1581 894h0M1471 977h0M1367 1024h0M1420 993h0M1491 1125h0M1583 1007h0M1582 1060h0M1438 926h0M1420 1066h0M1462 1092h0M1579 933h0M1532 934h0M1588 908h0M1400 1017h0M1406 866h0M1534 1040h0M1386 1116h0M1463 975h0M1421 1048h0M1464 855h0M1393 983h0M1390 1028h0M1484 826h0M1507 1042h0M1404 1001h0M1417 1055h0M1335 1004h0M1425 1112h0M1389 1103h0M1488 1006h0M1404 1085h0M1613 984h0M1359 865h0M1494 915h0M1421 835h0M1584 862h0M1327 1009h0M1377 967h0M1322 895h0M1461 996h0M1333 985h0M1476 934h0M1456 998h0M1390 860h0M1364 1029h0M1597 1026h0M1577 930h0M1586 1021h0M1487 1150h0M1377 909h0M1587 1071h0M1377 1148h0M1388 892h0M1377 1135h0M1623 884h0M1325 989h0M1316 883h0M1339 905h0M1395 1087h0M1415 943h0M1398 1022h0M1409 891h0M1566 1045h0M1601 997h0M1330 924h0M1602 1047h0M1521 865h0M1349 928h0M1430 857h0M1307 966h0M1443 865h0M1543 876h0M1282 947h0M1443 1081h0M1502 979h0M1554 1127h0M1573 985h0M1506 834h0M1387 980h0M1606 1029h0M1428 976h0M1547 1064h0M1490 1116h0M1565 954h0M1338 1106h0M1613 1014h0M1403 888h0M1543 876h0M1488 1022h0M1372 1064h0M1424 955h0M1341 972h0M1450 898h0M1512 1123h0M1454 1106h0M1485 977h0M1461 1019h0M1520 831h0M1575 1007h0M1381 923h0M1335 929h0M1502 1099h0M1398 1029h0M1527 952h0M1599 902h0M1476 1091h0M1518 1017h0M1593 925h0M1506 1057h0M1447 875h0M1575 903h0M1575 1076h0M1321 1028h0M1343 954h0M1434 977h0M1480 1134h0M1565 1098h0M1340 1079h0M1483 822h0M1517 1153h0M1472 846h0M1447 1170h0M1341 1103h0M1518 986h0M1559 1022h0M1545 1100h0M1525 1127h0M1393 1046h0M1423 1079h0M1346 937h0M1422 1167h0M1581 979h0M1410 986h0M1582 868h0M1440 1053h0M1466 845h0M1539 935h0M1441 943h0M1358 1054h0M1435 1008h0M1499 877h0M1415 914h0M1436 953h0M1514 855h0M1302 996h0M1532 974h0M1493 1097h0M1529 1116h0M1477 881h0M1467 1005h0M1350 1053h0M1458 1094h0M1381 980h0M1414 1155h0M1455 943h0M1323 939h0M1604 945h0M1403 945h0M1558 880h0M1349 1031h0M1577 1035h0M1436 992h0M1464 1130h0M1300 940h0M1603 976h0M1422 1090h0M1527 981h0M1618 866h0M1457 1054h0M1399 1049h0M1417 1156h0M1511 1004h0M1447 956h0M1390 1119h0M1445 813h0M1353 900h0M1431 834h0M1485 919h0M1412 870h0M1317 1072h0M1352 1085h0M1280 964h0M1552 973h0M1339 877h0M1471 931h0M1410 864h0M1556 1110h0M1399 996h0M1416 928h0M1473 848h0M1420 976h0M1387 1119h0M1521 1048h0M1471 990h0M1458 919h0M1462 1169h0M1455 1067h0M1525 1154h0M1393 1104h0M1362 1015h0M1564 887h0M1478 1001h0M1598 1035h0M1578 985h0M1434 944h0M1590 850h0M1595 1043h0M1446 1154h0M1324 1018h0M1477 1138h0M1493 897h0M1407 984h0M1539 1104h0M1481 1145h0M1410 981h0M1301 1016h0M1451 950h0M1580 1120h0M1378 1089h0M1491 867h0M1373 892h0M1489 808h0M1393 927h0M1553 984h0M1487 975h0M1428 933h0M1563 927h0M1473 939h0M1438 1075h0M1410 1108h0M1377 1152h0M1487 1077h0M1445 836h0M1413 1126h0M1499 860h0M1605 1047h0M1302 940h0M1575 1058h0M1550 1104h0M1393 881h0M1451 952h0M1544 859h0M1403 860h0M1442 1026h0M1489 904h0M1418 1036h0M1395 1103h0M1429 1082h0M1400 1130h0M1548 1047h0M1378 839h0M1448 824h0M1466 1094h0M1555 885h0M1582 1012h0M1569 860h0M1555 872h0M1457 1171h0M1479 827h0M1588 1043h0M1591 880h0M1407 987h0M1546 1006h0M1488 862h0M1375 1039h0M1473 1094h0M1547 1080h0M1530 974h0M1506 1055h0M1385 941h0M1584 932h0M1316 1023h0M1354 888h0M1467 1048h0M1331 942h0M1378 1092h0M1442 1003h0M1345 875h0M1556 1045h0M1354 1103h0M1519 903h0M1459 831h0M1475 805h0M1550 880h0M1354 921h0M1382 1027h0M1458 816h0M1337 1067h0M1519 956h0M1366 922h0M1422 1167h0M1325 881h0M1482 843h0M1495 1075h0M1580 878h0M1599 1018h0M1443 961h0M1559 1101h0M1418 978h0M1551 1089h0M1592 871h0M1387 849h0M1412 861h0M1389 988h0M1299 936h0M1429 919h0M1385 951h0M1439 1046h0M1321 937h0M1346 1025h0M1291 977h0M1300 998h0M1320 949h0M1423 1064h0M1351 1040h0M1593 937h0M1384 946h0M1380 858h0M1529 1016h0M1332 1004h0M1341 1059h0M1453 897h0M1571 1114h0M1290 974h0M1599 927h0M1426 882h0M1571 928h0M1571 944h0M1527 1081h0M1290 934h0M1405 1054h0M1504 929h0M1441 910h0M1559 1093h0M1434 1087h0M1432 1074h0M1345 1082h0M1612 1011h0M1385 920h0M1572 919h0M1446 805h0M1386 1085h0M1477 914h0M1329 1065h0M1376 966h0M1424 1090h0M1480 1039h0M1615 1047h0M1332 1023h0M1404 1065h0M1488 1162h0M1442 995h0M1403 964h0M1447 1022h0M1370 1122h0M1351 903h0M1409 868h0M1318 976h0M1424 860h0M1531 979h0M1459 865h0M1406 1082h0M1533 902h0M1451 813h0M1436 885h0M1560 1108h0M1549 1123h0M1616 865h0M1322 995h0M1416 1119h0M1549 956h0M1456 1136h0M1519 1072h0M1504 974h0M1363 1047h0M1496 921h0M1612 986h0M1492 1123h0M1613 1008h0M1554 908h0M1568 951h0M1604 911h0M1502 886h0M1478 1016h0M1609 928h0M1364 1064h0M1605 1078h0M1553 1069h0M1549 1134h0M1566 1047h0M1568 1037h0M1451 842h0M1562 1069h0M1310 889h0M1485 979h0M1566 998h0M1433 1087h0M1332 1075h0M1475 819h0M1579 1031h0M1351 926h0M1607 1077h0M1353 931h0M1613 900h0M1374 936h0M1580 986h0M1416 1127h0M1384 917h0M1475 908h0M1507 855h0M1558 838h0M1513 1162h0M1546 870h0M1439 1079h0M1424 937h0M1565 923h0M1389 1087h0M1472 893h0M1384 1136h0M1312 988h0M1465 907h0M1470 1034h0M1363 890h0M1417 1001h0M1385 977h0M1589 918h0M1341 987h0M1291 991h0M1603 875h0M1561 1100h0M1312 959h0M1394 1116h0M1485 1088h0M1436 891h0M1367 1029h0M1411 826h0M1319 925h0M1518 1081h0M1587 877h0M1380 885h0M1488 861h0M1390 1010h0M1527 873h0M1459 884h0M1507 899h0M1511 966h0M1343 930h0M1351 1062h0M1491 871h0M1532 1139h0M1411 962h0M1319 974h0M1541 1083h0M1489 1132h0M1547 975h0M1595 1075h0M1406 1071h0M1476 1125h0M1608 914h0M1359 1011h0M1551 1034h0M1543 1020h0M1567 894h0M1392 991h0M1385 954h0M1453 814h0M1357 1039h0M1402 935h0M1596 864h0M1584 932h0M1574 1046h0M1532 938h0M1591 965h0M1398 915h0M1486 1026h0M1400 1088h0M1526 984h0M1321 1018h0M1458 1131h0M1494 871h0M1472 914h0M1398 977h0M1523 1135h0M1580 964h0M1536 846h0M1446 905h0M1551 1018h0M1520 889h0M1515 1138h0M1599 917h0M1466 906h0M1358 1118h0M1414 1108h0M1525 1046h0M1536 974h0M1473 899h0M1386 1094h0M1397 1046h0M1369 860h0M1432 1027h0M1564 1112h0M1576 951h0M1579 1045h0M1383 870h0M1566 948h0M1468 993h0M1319 992h0M1422 982h0M1588 881h0M1574 922h0M1521 1157h0M1594 887h0M1450 962h0M1552 1052h0M1609 867h0M1612 1022h0M1553 1109h0M1483 1070h0M1388 945h0M1344 1059h0M1509 1116h0M1595 939h0M1439 998h0M1330 983h0M1406 994h0M1480 871h0M1542 1040h0M1581 852h0M1598 959h0M1426 887h0M1398 1140h0M1559 1116h0M1408 1006h0M1521 902h0M1604 957h0M1494 1086h0M1556 848h0M1570 888h0M1554 1095h0M1613 877h0M1433 1171h0M1466 1117h0M1460 835h0M1407 1099h0M1520 904h0M1377 898h0M1517 904h0M1541 1085h0M1590 1048h0M1485 1046h0M1506 1014h0M1277 952h0M1426 1077h0M1466 990h0M1480 1056h0M1485 1021h0M1349 905h0M1447 873h0M1515 1055h0M1557 946h0M1311 974h0M1495 1122h0M1538 1144h0M1433 1033h0M1462 1104h0M1412 965h0M1501 905h0M1525 970h0M1306 903h0M1353 923h0M1511 819h0M1615 890h0M1567 1069h0M1391 872h0M1404 1042h0M1338 939h0M1365 1090h0M1492 1004h0M1396 1069h0M1371 1030h0M1528 993h0M1541 840h0M1508 1047h0M1423 1040h0M1550 1126h0M1558 930h0M1502 861h0M1557 888h0M1309 1030h0M1588 941h0M1453 1022h0M1615 1069h0M1570 1033h0M1565 878h0M1379 1048h0M1579 1077h0M1612 998h0M1487 1051h0M1384 1146h0M1370 982h0M1604 1091h0M1453 1069h0M1532 845h0M1446 1137h0M1511 973h0M1491 805h0M1306 932h0M1405 1068h0M1399 969h0M1620 898h0M1470 846h0M1382 1070h0M1548 988h0M1589 920h0M1343 1083h0M1539 1091h0M1353 1060h0M1392 1154h0M1545 1097h0M1378 1107h0M1312 954h0M1461 903h0M1362 973h0M1555 878h0M1402 1119h0M1611 969h0M1461 838h0M1474 1041h0M1527 1013h0M1356 954h0M1446 913h0M1285 959h0M1357 888h0M1428 1142h0M1408 1038h0M1621 886h0M1336 1012h0M1488 1113h0M1412 1096h0M1537 939h0M1485 971h0M1546 947h0M1405 1104h0M1412 1165h0M1394 1093h0M1547 937h0M1466 1001h0M1609 1043h0M1367 1091h0M1358 1101h0M1356 1062h0M1595 1048h0M1550 1010h0M1383 1102h0M1468 938h0M1414 921h0M1513 1075h0M1365 923h0M1406 943h0M1363 856h0M1585 1011h0M1448 980h0M1560 863h0M1392 852h0M1487 932h0M1551 1074h0M1474 891h0M1594 1101h0M1475 1071h0M1546 1150h0M1528 1089h0M1526 985h0M1597 1020h0M1541 1051h0M1339 1030h0M1571 872h0M1406 1000h0M1452 982h0M1424 1081h0M1502 864h0M1492 971h0M1400 869h0M1459 1106h0M1414 954h0M1458 862h0M1537 1084h0M1391 1029h0M1545 860h0M1357 1074h0M1353 924h0M1525 997h0M1598 1096h0M1482 1011h0M1425 826h0M1600 978h0M1355 1018h0M1333 902h0M1514 1066h0M1462 841h0M1493 1083h0M1570 1072h0M1304 1003h0M1419 870h0M1404 1066h0M1541 947h0M1338 1031h0M1617 1029h0M1325 1002h0M1358 1013h0M1458 922h0M1475 1010h0M1364 920h0M1415 918h0M1288 997h0M1372 905h0M1286 1001h0M1331 916h0M1535 958h0M1411 935h0M1517 851h0M1544 854h0M1586 916h0M1349 899h0M1438 849h0M1522 1162h0M1535 974h0M1434 1139h0M1502 966h0M1328 1047h0M1304 884h0M1400 1136h0M1582 1015h0M1358 1078h0M1532 982h0M1545 909h0M1608 945h0M1548 895h0M1494 961h0M1349 926h0M1404 859h0M1481 1016h0M1487 943h0M1480 905h0M1324 919h0M1287 1012h0M1454 971h0M1314 1057h0M1533 1053h0M1500 1167h0M1427 950h0M1553 919h0M1377 1024h0M1443 968h0M1412 845h0M1401 933h0M1524 882h0M1302 962h0M1414 1005h0M1405 857h0M1383 1057h0M1484 896h0M1509 837h0M1370 853h0M1491 989h0M1510 895h0M1572 971h0M1354 945h0M1344 1091h0M1536 1078h0M1509 894h0M1361 1088h0M1550 880h0M1471 1030h0M1439 935h0M1525 1136h0M1562 860h0M1468 1104h0M1355 1051h0M1413 1065h0M1527 1161h0M1303 888h0M1341 1061h0M1378 1051h0M1416 852h0M1433 1165h0M1501 954h0M1570 992h0M1593 1073h0M1582 911h0M1392 887h0M1424 1164h0M1547 917h0M1582 1071h0M1357 1021h0M1602 1007h0M1528 905h0M1332 995h0M1557 1082h0M1608 1052h0M1403 1140h0M1355 1063h0M1420 824h0M1613 905h0M1478 928h0M1547 1057h0M1433 931h0M1555 925h0M1398 842h0M1444 991h0M1571 1094h0M1320 989h0M1463 1037h0M1428 818h0M1537 944h0M1436 950h0M1347 868h0M1513 1165h0M1496 1063h0M1506 887h0M1351 1009h0M1514 1046h0M1558 920h0M1416 1045h0M1285 982h0M1407 1140h0M1453 1080h0M1582 1120h0M1468 1040h0M1452 936h0M1383 917h0M1380 1004h0M1467 861h0M1556 953h0M1470 940h0M1456 844h0M1455 910h0M1358 947h0M1463 1176h0M1356 921h0M1513 831h0M1450 879h0M1341 1028h0M1565 1101h0M1422 978h0M1358 1086h0M1504 996h0M1505 840h0M1505 838h0M1584 910h0M1601 899h0M1465 925h0M1566 868h0M1509 1095h0M1582 996h0M1617 1052h0M1306 1034h0M1417 1061h0M1459 1036h0M1584 877h0M1533 1039h0M1585 1066h0M1532 939h0M1361 899h0M1439 831h0M1353 1052h0M1451 1151h0M1547 939h0M1359 1045h0M1453 904h0M1409 1074h0M1469 841h0M1566 921h0M1355 1001h0M1444 863h0M1313 1006h0M1579 1022h0M1517 1092h0M1469 986h0M1505 951h0M1423 934h0M1516 890h0M1380 870h0M1298 954h0M1463 972h0M1554 890h0M1491 1081h0M1460 898h0M1502 1034h0M1469 1111h0M1504 990h0M1570 881h0M1398 1154h0M1286 965h0M1545 1016h0M1327 885h0M1559 1114h0M1453 835h0M1597 973h0M1459 854h0M1389 1155h0M1369 1044h0M1440 846h0M1578 1092h0M1376 965h0M1433 1022h0M1499 816h0M1422 1018h0M1308 882h0M1301 997h0M1354 959h0M1359 923h0M1501 1157h0M1615 1062h0M1375 1003h0M1545 978h0M1379 950h0M1392 1084h0M1449 1110h0M1484 989h0M1608 1073h0M1348 965h0M1348 1082h0M1455 926h0M1396 1025h0M1392 982h0M1365 1099h0M1402 1050h0M1331 935h0M1531 1165h0M1450 886h0M1432 1056h0M1387 1153h0M1606 928h0M1370 1056h0M1483 874h0M1332 891h0M1574 844h0M1470 1110h0M1326 992h0M1487 813h0M1537 1105h0M1427 1038h0M1523 950h0M1422 1071h0M1523 1099h0M1397 895h0M1365 863h0M1352 1067h0M1343 864h0M1564 867h0M1316 882h0M1394 842h0M1340 989h0M1556 945h0M1527 1168h0M1385 1085h0M1619 901h0M1351 900h0M1623 885h0M1414 896h0M1607 1087h0M1567 1105h0M1328 971h0M1498 930h0M1379 992h0M1305 985h0M1506 986h0M1595 878h0M1302 1006h0M1373 948h0M1485 1114h0M1472 1005h0M1496 1167h0M1408 837h0M1548 937h0M1596 871h0M1340 932h0M1550 1022h0M1435 820h0M1563 1124h0M1469 1098h0M1483 924h0M1518 870h0M1486 960h0M1544 1134h0M1575 860h0M1593 979h0M1479 966h0M1425 1003h0M1436 830h0M1457 862h0M1349 1037h0M1434 1133h0M1500 1016h0M1527 1164h0M1511 1010h0M1543 879h0M1511 1172h0M1486 1161h0M1316 922h0M1414 931h0M1583 1017h0M1480 985h0M1360 1013h0M1529 917h0M1402 999h0M1437 969h0M1434 843h0M1485 1138h0M1411 946h0M1482 995h0M1439 910h0M1412 1160h0M1587 850h0M1441 1153h0M1405 1164h0M1436 1068h0M1408 1165h0M1399 1158h0M1333 1048h0M1515 1041h0M1508 927h0M1412 1076h0M1342 917h0M1596 862h0M1441 855h0M1360 918h0M1517 909h0M1360 972h0M1481 1162h0M1319 974h0M1324 984h0M1389 1094h0M1563 1114h0M1301 942h0M1384 1098h0M1394 898h0M1406 1125h0M1337 1090h0M1463 1009h0M1467 956h0M1322 1059h0M1303 956h0M1323 1033h0M1518 1135h0M1322 961h0M1525 1046h0M1322 1004h0M1510 994h0M1467 1047h0M1389 1146h0M1365 926h0M1458 1152h0M1393 1156h0M1532 1081h0M1455 876h0M1512 895h0M1562 1064h0M1391 1014h0M1336 991h0M1543 982h0M1505 828h0M1482 1095h0M1598 978h0M1583 927h0M1595 1037h0M1320 901h0M1582 851h0M1554 1063h0M1443 938h0M1473 854h0M1570 943h0M1587 1077h0M1578 1082h0M1481 815h0M1388 1028h0M1544 1056h0M1397 1161h0M1368 1058h0M1617 874h0M1545 1115h0M1522 890h0M1450 1168h0M1576 1032h0M1391 920h0M1555 1051h0M1371 1093h0M1363 982h0M1555 1113h0M1319 959h0M1557 875h0M1402 987h0M1349 954h0M1587 940h0M1534 983h0M1433 838h0M1321 1035h0M1459 975h0M1381 969h0M1502 954h0M1607 915h0M1587 905h0M1457 971h0M1393 978h0M1510 1175h0M1489 814h0M1470 1037h0M1478 812h0M1473 977h0M1602 1051h0M1410 1035h0M1450 1052h0M1319 1072h0M1517 1131h0M1608 975h0M1491 853h0M1388 1032h0M1463 1005h0M1604 1075h0M1479 1167h0M1362 1085h0M1490 977h0M1387 1150h0M1360 1048h0M1401 1098h0M1382 894h0M1365 1015h0M1513 856h0M1529 996h0M1576 861h0M1400 1145h0M1493 1010h0M1621 895h0M1416 896h0M1442 943h0M1586 896h0M1470 886h0M1437 831h0M1432 990h0M1448 834h0M1448 1094h0M1337 1062h0M1617 908h0M1496 901h0M1567 861h0M1476 970h0M1393 1156h0M1374 1004h0M1519 1107h0M1428 952h0M1329 991h0M1410 1054h0M1596 1076h0M1460 1071h0M1570 979h0M1376 1131h0M1387 846h0M1459 822h0M1589 857h0M1351 1044h0M1515 882h0M1443 988h0M1319 1021h0M1570 1065h0M1453 1141h0M1587 872h0M1342 905h0M1435 1169h0M1473 995h0M1461 816h0M1575 1113h0M1328 880h0M1578 1042h0M1453 896h0M1575 946h0M1452 947h0M1473 897h0M1327 934h0M1556 1100h0M1502 1018h0M1438 957h0M1358 909h0M1508 820h0M1463 1018h0M1475 900h0M1440 867h0M1344 973h0M1384 998h0M1305 912h0M1432 1111h0M1606 998h0M1476 929h0M1550 1086h0M1491 1134h0M1576 1108h0M1572 988h0M1491 995h0M1449 838h0M1523 1078h0M1541 1019h0M1622 886h0M1432 930h0M1378 964h0M1433 827h0M1493 1103h0M1484 855h0M1609 939h0M1587 940h0M1462 984h0M1495 1088h0M1419 886h0M1375 1141h0M1466 1037h0M1462 1153h0M1578 863h0M1463 911h0M1512 1038h0M1448 965h0M1466 1104h0M1402 1138h0M1526 875h0M1335 984h0M1425 830h0M1312 1027h0M1368 870h0M1391 1038h0M1392 1048h0M1475 1160h0M1595 1075h0M1476 865h0M1383 1007h0M1468 1125h0M1499 857h0M1460 830h0M1552 1072h0M1409 1076h0M1459 923h0M1596 977h0M1400 1014h0M1486 810h0M1491 1151h0M1559 854h0M1566 918h0M1543 873h0M1403 976h0M1360 967h0M1452 1081h0M1379 959h0M1417 1082h0M1583 1043h0M1310 1050h0M1349 1087h0M1476 992h0M1533 1105h0M1555 1013h0M1599 1071h0M1475 948h0M1575 1085h0M1593 1039h0M1375 1025h0M1525 843h0M1464 1030h0M1482 1083h0M1476 818h0M1555 1143h0M1330 1018h0M1563 1113h0M1544 939h0M1405 929h0M1581 896h0M1541 931h0M1384 869h0M1298 946h0M1419 875h0M1417 1014h0M1464 1100h0M1432 896h0M1534 954h0M1418 1046h0M1472 1165h0M1468 894h0M1276 963h0M1467 875h0M1521 902h0M1530 1158h0M1489 949h0M1591 854h0M1475 879h0M1479 1083h0M1398 849h0M1590 1022h0M1420 869h0M1597 977h0M1477 836h0M1351 959h0M1519 901h0M1400 839h0M1606 1059h0M1427 890h0M1433 1106h0M1395 895h0M1462 1123h0M1384 1025h0M1474 810h0M1587 1044h0M1386 994h0M1385 1110h0M1481 987h0M1565 895h0M1371 1097h0M1611 1040h0M1343 869h0M1600 907h0M1453 1103h0M1494 894h0M1494 1128h0M1371 1005h0M1497 1166h0M1557 971h0M1380 1131h0M1471 929h0M1443 1166h0M1605 1028h0M1405 959h0M1537 871h0M1499 832h0M1428 1013h0M1405 864h0M1417 864h0M1550 1008h0M1565 1043h0M1434 1157h0M1465 1137h0M1352 1024h0M1493 1015h0M1354 956h0M1541 951h0M1534 1007h0M1588 851h0M1530 834h0M1291 948h0M1378 1125h0M1483 1022h0M1500 857h0M1525 928h0M1546 1092h0M1333 1072h0M1336 976h0M1531 1010h0M1399 1104h0M1455 1048h0M1572 1074h0M1605 962h0M1319 998h0M1586 1025h0M1341 1017h0M1526 951h0M1424 886h0M1616 914h0M1326 983h0M1502 1164h0M1382 1084h0M1612 989h0M1367 856h0M1528 883h0M1362 862h0M1544 1150h0M1492 883h0M1381 868h0M1420 1144h0M1580 1079h0M1560 1138h0M1372 964h0M1493 869h0M1502 1019h0M1614 1046h0M1600 889h0M1487 809h0M1464 828h0M1574 838h0M1460 1045h0M1313 1057h0M1618 910h0M1311 907h0M1291 996h0M1612 1022h0M1310 970h0M1614 913h0M1471 990h0M1551 956h0M1570 1022h0M1538 839h0M1485 963h0M1469 811h0M1465 987h0M1556 913h0M1570 979h0M1528 858h0M1523 920h0M1530 863h0M1407 1151h0M1434 931h0M1563 950h0M1434 957h0M1597 1102h0M1385 961h0M1428 1113h0M1359 1026h0M1362 1005h0M1381 1055h0M1486 911h0M1454 866h0M1473 998h0M1545 915h0M1325 895h0M1325 901h0M1411 880h0M1386 1013h0M1413 1038h0M1293 956h0M1441 1065h0M1503 969h0M1544 1003h0M1443 1155h0M1471 907h0M1565 890h0M1558 1051h0M1306 906h0M1406 1123h0M1436 986h0M1496 872h0M1340 978h0M1383 1032h0M1345 892h0M1593 860h0M1423 1086h0M1305 966h0M1365 989h0M1365 945h0M1466 1175h0M1548 986h0M1396 1064h0M1358 881h0M1612 938h0M1464 1048h0M1557 864h0M1524 876h0M1559 1123h0M1390 967h0M1404 1057h0M1499 1174h0M1315 984h0M1407 981h0M1502 1154h0M1411 896h0M1367 1073h0M1379 1011h0M1489 1020h0M1581 872h0M1606 975h0M1420 858h0M1465 902h0M1391 832h0M1568 987h0M1548 942h0M1601 949h0M1452 826h0M1476 986h0M1356 923h0M1554 1066h0M1587 858h0M1445 809h0M1542 853h0M1411 847h0M1297 930h0M1457 1004h0M1602 925h0M1346 983h0M1523 1112h0M1372 890h0M1552 896h0M1461 996h0M1540 925h0M1433 985h0M1435 869h0M1475 1106h0M1339 936h0M1562 990h0M1491 1029h0M1511 1143h0M1406 1143h0M1287 1002h0M1517 836h0M1482 1138h0M1430 1158h0M1328 935h0M1363 1019h0M1376 969h0M1296 972h0M1452 977h0M1420 862h0M1553 960h0M1551 1085h0M1547 925h0M1539 864h0M1494 940h0M1615 873h0M1567 1109h0M1398 906h0M1406 872h0M1388 1050h0M1435 1086h0M1395 920h0M1405 987h0M1470 1147h0M1454 825h0M1571 884h0M1465 927h0M1367 1114h0M1553 1128h0M1574 988h0M1394 838h0M1558 870h0M1416 904h0M1312 1006h0M1547 1071h0M1343 1024h0M1554 908h0M1579 1019h0M1511 1174h0M1556 892h0M1444 914h0M1539 939h0M1529 834h0M1530 1039h0M1346 877h0M1580 911h0M1333 987h0M1386 950h0M1461 1123h0M1461 931h0M1394 859h0M1377 983h0M1478 915h0M1429 946h0M1489 873h0M1339 939h0M1549 1116h0M1488 1049h0M1312 1003h0M1533 898h0M1456 863h0M1549 900h0M1497 959h0M1516 1058h0M1478 908h0M1577 858h0M1443 849h0M1341 1080h0M1369 943h0M1534 957h0M1297 938h0M1553 1019h0M1426 993h0M1548 1051h0M1496 1015h0M1406 898h0M1371 875h0M1527 858h0M1516 901h0M1413 847h0M1437 968h0M1452 860h0M1453 929h0M1618 901h0M1400 829h0M1296 939h0M1458 855h0M1310 890h0M1427 977h0M1494 882h0M1484 963h0M1417 1134h0M1344 894h0M1499 1102h0M1408 1030h0M1371 994h0M1355 968h0M1393 850h0M1444 1145h0M1400 1001h0M1372 1047h0M1554 1077h0M1408 959h0M1486 1007h0M1464 964h0M1432 965h0M1300 1019h0M1462 942h0M1469 1001h0M1570 1120h0M1436 1056h0M1544 1021h0M1605 1007h0M1483 956h0M1353 904h0M1387 962h0M1453 1128h0M1424 1087h0M1458 875h0M1376 1096h0M1495 1039h0M1323 977h0M1393 965h0M1295 968h0M1307 963h0M1578 1024h0M1293 983h0M1499 909h0M1351 993h0M1518 1009h0M1424 1043h0M1435 1027h0M1585 1055h0M1432 1138h0M1342 1068h0M1423 1011h0M1402 1000h0M1382 847h0M1570 840h0M1561 1023h0M1403 862h0M1436 1123h0M1439 922h0M1561 922h0M1485 834h0M1578 986h0M1465 1017h0M1522 913h0M1553 902h0M1382 1142h0M1345 939h0M1382 1080h0M1397 954h0M1369 1075h0M1534 914h0M1578 1108h0M1335 1095h0M1438 897h0M1450 1081h0M1586 1016h0M1490 1096h0M1463 806h0M1463 855h0M1364 1058h0M1510 1056h0M1586 945h0M1566 1124h0M1401 987h0M1417 1073h0M1415 1078h0M1404 1052h0M1556 1036h0M1525 878h0M1362 982h0M1571 1025h0M1300 1033h0M1556 994h0M1467 819h0M1513 823h0M1402 865h0M1491 1031h0M1472 845h0M1556 880h0M1422 939h0M1375 1096h0M1320 993h0M1437 1058h0M1499 1129h0M1393 943h0M1592 1034h0M1509 977h0M1568 955h0M1581 907h0M1435 829h0M1439 1076h0M1535 1051h0M1341 1069h0M1497 874h0M1588 1019h0M1450 979h0M1449 926h0M1529 922h0M1506 970h0M1522 965h0M1478 1056h0M1573 1092h0M1435 1079h0M1534 1156h0M1406 1015h0M1562 856h0M1326 1014h0M1375 1024h0M1430 943h0M1507 1018h0M1504 858h0M1528 1148h0M1345 966h0M1419 947h0M1427 1147h0M1448 836h0M1550 837h0M1479 1065h0M1434 814h0M1421 857h0M1469 1124h0M1572 961h0M1439 979h0M1386 931h0M1571 888h0M1417 976h0M1506 1169h0M1400 1058h0M1599 932h0M1568 869h0M1328 1003h0M1535 1120h0M1599 1059h0M1498 897h0M1592 900h0M1513 847h0M1335 1092h0M1406 852h0M1296 1032h0M1508 1001h0M1364 949h0M1580 949h0M1381 992h0M1596 850h0M1375 964h0M1605 909h0M1326 953h0M1585 859h0M1547 1075h0M1530 947h0M1335 880h0M1374 1015h0M1505 881h0M1545 978h0M1468 1114h0M1428 844h0M1512 949h0M1369 914h0M1408 959h0M1371 1059h0M1552 975h0M1516 928h0M1410 873h0M1608 865h0M1283 961h0M1594 1018h0M1351 861h0M1481 868h0M1500 872h0M1527 1054h0M1532 997h0M1473 986h0M1600 883h0M1406 1103h0M1342 980h0M1418 1031h0M1370 1059h0M1463 814h0M1416 865h0M1492 885h0M1429 1099h0M1352 1057h0M1475 810h0M1366 865h0M1283 986h0M1387 1151h0M1404 959h0M1454 1161h0M1417 894h0M1422 1020h0M1533 976h0M1400 1122h0M1524 1160h0M1461 1073h0M1364 1064h0M1382 853h0M1538 1045h0M1598 861h0M1520 862h0M1476 1099h0M1511 997h0M1465 885h0M1370 899h0M1355 948h0M1358 954h0M1367 949h0M1552 1122h0M1487 963h0M1387 1116h0M1407 1120h0M1533 1057h0M1523 1017h0M1320 915h0M1598 1082h0M1393 840h0M1487 1140h0M1514 998h0M1419 1113h0M1292 1021h0M1296 948h0M1421 1104h0M1338 1044h0M1389 1066h0M1549 1129h0M1496 904h0M1604 1013h0M1291 983h0M1589 975h0M1578 880h0M1442 1084h0M1384 1129h0M1467 1024h0M1465 868h0M1287 996h0M1426 1090h0M1389 999h0M1482 1134h0M1602 869h0M1381 1025h0M1532 908h0M1565 886h0M1479 975h0M1373 960h0M1297 966h0M1466 842h0M1534 1068h0M1606 887h0M1518 992h0M1405 1004h0M1445 1068h0M1557 914h0M1458 1103h0M1412 863h0M1564 1094h0M1385 860h0M1328 891h0M1340 959h0M1533 1091h0M1404 998h0M1313 977h0M1389 914h0M1565 973h0M1552 987h0M1461 1098h0M1616 1046h0M1562 922h0M1558 1107h0M1335 993h0M1511 1024h0M1321 987h0M1435 1120h0M1369 1062h0M1540 898h0M1433 1047h0M1498 1117h0M1502 1119h0M1409 1069h0M1356 912h0M1585 1068h0M1562 843h0M1509 1096h0M1322 998h0M1437 1020h0M1298 916h0M1507 1146h0M1581 849h0M1372 844h0M1521 885h0M1373 857h0M1508 1123h0M1584 850h0M1572 925h0M1446 812h0M1588 961h0M1394 854h0M1472 1135h0M1576 951h0M1407 1111h0M1549 994h0M1341 974h0M1548 1074h0M1437 973h0M1451 1174h0M1573 947h0M1397 903h0M1577 1114h0M1576 944h0M1617 878h0M1514 1021h0M1320 904h0M1536 861h0M1501 1054h0M1337 924h0M1360 988h0M1541 1029h0M1458 1002h0M1567 1076h0M1472 1175h0M1431 929h0M1610 1007h0M1438 910h0M1506 1159h0M1383 974h0M1374 1129h0M1300 994h0M1517 985h0M1427 1116h0M1472 984h0M1336 1071h0M1494 914h0M1310 969h0M1493 1143h0M1447 1119h0M1340 951h0M1384 1096h0M1432 1123h0M1357 963h0M1605 1075h0M1370 869h0M1363 1037h0M1581 874h0M1436 1156h0M1428 1110h0M1408 904h0M1322 1037h0M1474 843h0M1433 914h0M1612 970h0M1346 868h0M1497 1106h0M1553 988h0M1478 849h0M1562 849h0M1528 965h0M1394 1010h0M1407 1130h0M1423 879h0M1458 1174h0M1299 924h0M1331 1017h0M1321 987h0M1384 942h0M1450 927h0M1351 911h0M1395 1100h0M1349 1091h0M1439 1093h0M1374 1106h0M1468 1003h0M1467 847h0M1459 993h0M1416 1132h0M1601 1076h0M1438 1131h0M1539 979h0M1425 1125h0M1592 937h0M1561 1072h0M1446 1139h0M1455 802h0M1423 993h0M1538 906h0M1562 919h0M1375 1092h0M1325 1022h0M1537 883h0M1559 1139h0M1561 979h0M1551 925h0M1312 984h0M1316 941h0M1475 931h0M1542 1049h0M1405 1079h0M1595 984h0M1572 861h0M1412 1091h0M1546 975h0M1353 912h0M1519 1150h0M1499 905h0M1355 1033h0M1526 866h0M1597 859h0M1352 1013h0M1523 939h0M1340 1026h0M1494 940h0M1585 1100h0M1547 853h0M1401 1137h0M1319 918h0M1428 921h0M1382 1092h0M1446 849h0M1466 946h0M1482 883h0M1598 904h0M1445 818h0M1607 988h0M1526 947h0M1573 1047h0M1510 843h0M1522 962h0M1577 936h0M1403 872h0M1418 922h0M1378 1059h0M1401 867h0M1355 902h0M1516 890h0M1296 973h0M1461 1090h0M1581 1046h0M1361 922h0M1559 1095h0M1431 1105h0M1528 842h0M1618 887h0M1575 1103h0M1585 1069h0M1498 1001h0M1609 959h0M1380 960h0M1418 855h0M1487 955h0M1531 934h0M1403 852h0M1609 889h0M1496 889h0M1380 1114h0M1410 973h0M1599 964h0M1485 1156h0M1463 934h0M1331 1032h0M1317 1073h0M1435 969h0M1491 1095h0M1411 1036h0M1545 1152h0M1407 886h0M1420 861h0M1452 991h0M1467 1113h0M1558 998h0M1600 1070h0M1411 1040h0M1603 1015h0M1606 997h0M1434 1052h0M1358 1050h0M1547 839h0M1505 1160h0M1580 1072h0M1530 1063h0M1287 1009h0M1477 1044h0M1430 1006h0M1449 825h0M1567 950h0M1558 1084h0M1533 1104h0M1298 1010h0M1428 1121h0M1586 874h0M1333 1082h0M1435 1157h0M1516 879h0M1467 1074h0M1529 1081h0M1323 931h0M1424 1155h0M1504 997h0M1577 1101h0M1505 1047h0M1360 936h0M1423 820h0M1448 1028h0M1601 1025h0M1593 920h0M1542 954h0M1460 823h0M1467 859h0M1565 972h0M1336 1025h0M1375 900h0M1529 1079h0M1385 1099h0M1355 950h0M1461 916h0M1541 1017h0M1508 1047h0M1599 1016h0M1481 1145h0M1388 1039h0M1517 1013h0M1409 979h0M1593 847h0M1470 1170h0M1354 861h0M1319 906h0M1339 1079h0M1398 1061h0M1308 1020h0M1401 879h0M1472 932h0M1517 854h0M1369 964h0M1573 1018h0M1405 895h0M1398 914h0M1612 986h0M1304 1022h0M1533 980h0M1608 1001h0M1608 1022h0M1436 1154h0M1307 958h0M1314 903h0M1505 912h0M1400 1011h0M1304 923h0M1469 898h0M1338 983h0M1465 1103h0M1526 904h0M1471 1146h0M1381 933h0M1434 816h0M1447 1068h0M1329 972h0M1469 1044h0M1507 1063h0M1556 1114h0M1422 1049h0M1389 837h0M1406 893h0M1353 906h0M1448 942h0M1499 1074h0M1455 869h0M1355 924h0M1424 979h0M1429 1049h0M1404 901h0M1595 918h0M1331 934h0M1487 960h0M1402 1163h0M1395 953h0M1389 886h0M1381 909h0M1391 836h0M1453 977h0M1397 875h0M1552 992h0M1422 1029h0M1561 939h0M1371 847h0M1543 1045h0M1498 1166h0M1372 843h0M1413 1103h0M1596 948h0M1447 870h0M1626 870h0M1340 910h0M1388 1002h0M1370 1049h0M1293 953h0M1521 882h0M1342 926h0M1426 900h0M1419 883h0M1312 1008h0M1383 1128h0M1415 1030h0M1571 926h0M1525 1122h0M1349 1111h0M1371 1010h0M1503 1122h0M1402 982h0M1412 1150h0M1575 996h0M1457 1004h0M1507 1123h0M1580 1115h0M1400 946h0M1381 1128h0M1454 887h0M1381 1005h0M1511 1061h0M1396 936h0M1474 919h0M1531 862h0M1508 1053h0M1428 1063h0M1429 831h0M1454 907h0M1589 955h0M1299 906h0M1526 988h0M1317 990h0M1549 1081h0M1458 924h0M1400 966h0M1468 1167h0M1417 828h0M1385 849h0M1408 909h0M1325 882h0M1338 1044h0M1541 1015h0M1501 910h0M1371 1061h0M1439 1058h0M1482 1082h0M1498 984h0M1534 868h0M1307 1030h0M1543 922h0M1463 907h0M1338 994h0M1487 925h0M1315 1038h0M1404 1155h0M1456 884h0M1514 1153h0M1600 1060h0M1412 1163h0M1382 854h0M1467 821h0M1387 1150h0M1358 1117h0M1473 1087h0M1453 996h0M1311 880h0M1386 1131h0M1503 1022h0M1310 968h0M1412 1061h0M1504 1036h0M1549 1038h0M1537 1042h0M1326 965h0M1534 998h0M1452 1092h0M1564 905h0M1537 1064h0M1402 962h0M1485 1061h0M1505 1114h0M1442 852h0M1401 1163h0M1306 1037h0M1439 1066h0M1555 893h0M1556 1027h0M1321 999h0M1378 1065h0M1612 1046h0M1480 1106h0M1447 817h0M1448 1172h0M1564 850h0M1578 1114h0M1560 1024h0M1459 1008h0M1361 889h0M1523 833h0M1508 1056h0M1545 905h0M1597 1038h0M1476 1048h0M1386 834h0M1379 957h0M1496 1008h0M1426 947h0M1464 843h0M1512 920h0M1361 855h0M1324 1012h0M1397 1110h0M1606 1047h0M1423 880h0M1491 1061h0M1366 1095h0M1325 908h0M1343 876h0M1360 907h0M1472 865h0M1589 881h0M1531 1155h0M1371 1014h0M1502 1176h0M1453 1042h0M1397 835h0M1537 958h0M1433 1097h0M1443 976h0M1440 949h0M1536 852h0M1436 819h0M1443 810h0M1422 895h0M1530 949h0M1308 971h0M1588 977h0M1362 889h0M1459 1079h0M1500 846h0M1453 825h0M1530 1066h0M1563 934h0M1613 870h0M1352 975h0M1448 1129h0M1535 857h0M1434 816h0M1320 978h0M1404 851h0M1387 896h0M1559 1058h0M1477 979h0M1595 896h0M1597 940h0M1455 1005h0M1482 1160h0M1580 846h0M1466 844h0M1564 970h0M1432 1165h0M1422 1090h0M1523 859h0M1354 1036h0M1443 884h0M1341 1006h0M1409 1079h0M1447 883h0M1407 980h0M1565 859h0M1335 979h0M1344 1095h0M1594 952h0M1517 1155h0M1524 1109h0M1362 1097h0M1575 870h0M1565 930h0M1551 1144h0M1348 921h0M1576 906h0M1585 911h0M1574 950h0M1587 1099h0M1387 1035h0M1473 1099h0M1441 1127h0M1581 1121h0M1481 943h0M1436 1103h0M1306 921h0M1512 994h0M1427 1058h0M1476 976h0M1585 1063h0M1525 836h0M1304 905h0M1361 1067h0M1572 988h0M1391 1067h0M1516 972h0M1304 980h0M1563 1073h0M1470 1162h0M1303 898h0M1344 946h0M1500 1063h0M1424 966h0M1458 878h0M1515 1144h0M1502 1158h0M1563 1121h0M1354 1068h0M1430 982h0M1539 1107h0M1453 995h0M1470 811h0M1392 1100h0M1515 939h0M1422 1043h0M1578 915h0M1347 888h0M1512 967h0M1421 1102h0M1310 912h0M1449 963h0M1456 942h0M1320 951h0M1562 1079h0M1574 1033h0M1506 924h0M1409 961h0M1576 1001h0M1574 989h0M1362 990h0M1439 1162h0M1524 1151h0M1584 1079h0M1424 982h0M1587 1088h0M1320 880h0M1497 1033h0M1422 911h0M1383 850h0M1593 1080h0M1358 972h0M1347 1103h0M1428 945h0M1384 1072h0M1498 962h0M1348 896h0M1446 1166h0M1452 815h0M1295 940h0M1450 1168h0M1431 959h0M1422 1069h0M1472 993h0M1449 920h0M1276 961h0M1482 835h0M1425 908h0M1503 1150h0M1579 997h0M1320 885h0M1609 917h0M1602 1009h0M1306 939h0M1436 1147h0M1369 1080h0M1467 1095h0M1570 955h0M1433 831h0M1408 839h0M1590 888h0M1449 976h0M1462 801h0M1478 846h0M1482 999h0M1338 1077h0M1335 979h0M1405 1031h0M1430 993h0M1509 1101h0M1581 1017h0M1552 1037h0M1352 974h0M1387 949h0M1489 916h0M1396 1123h0M1367 874h0M1614 1065h0M1419 953h0M1444 948h0M1492 808h0M1445 1059h0M1451 963h0M1420 999h0M1359 1090h0M1378 895h0M1575 1030h0M1594 1068h0M1586 934h0M1588 940h0M1481 1177h0M1389 1030h0M1570 855h0M1474 1143h0M1403 920h0M1561 1070h0M1497 1087h0M1544 843h0M1563 1029h0M1535 1150h0M1477 1112h0M1391 1093h0M1602 1070h0M1305 929h0M1391 1111h0M1522 1163h0M1455 962h0M1482 893h0M1523 1099h0M1344 987h0M1583 1102h0M1496 983h0M1460 868h0M1531 1065h0M1380 1094h0M1517 1089h0M1448 885h0M1503 831h0M1415 861h0M1509 906h0M1427 995h0M1436 944h0M1374 907h0M1414 1078h0M1534 960h0M1449 910h0M1519 990h0M1314 917h0M1450 1011h0M1539 1026h0M1394 837h0M1494 1081h0M1505 911h0M1309 992h0M1346 875h0M1372 935h0M1371 867h0M1365 1014h0M1353 1020h0M1340 1022h0M1398 977h0M1377 901h0M1353 1052h0M1524 1083h0M1570 891h0M1473 1037h0M1529 845h0M1580 1029h0M1549 841h0M1596 964h0M1289 994h0M1548 963h0M1464 947h0M1476 877h0M1368 853h0M1509 953h0M1354 1008h0M1357 927h0M1486 1088h0M1286 974h0M1315 1057h0M1560 966h0M1551 1006h0M1494 839h0M1379 876h0M1511 887h0M1542 1111h0M1449 928h0M1441 1017h0M1329 905h0M1335 962h0M1601 860h0M1415 901h0M1568 1083h0M1439 837h0M1440 1086h0M1373 1065h0M1491 923h0M1334 1010h0M1602 879h0M1496 1083h0M1365 985h0M1458 1117h0M1564 1093h0M1366 1019h0M1600 848h0M1384 1093h0M1474 856h0M1484 994h0M1470 892h0M1586 922h0M1447 1092h0M1393 1095h0M1579 1027h0M1498 1046h0M1324 944h0M1411 886h0M1335 1057h0M1467 875h0M1481 1130h0M1562 1095h0M1425 926h0M1346 941h0M1465 826h0M1494 1093h0M1402 994h0M1558 948h0M1487 873h0M1319 1070h0M1574 864h0M1598 1084h0M1550 1128h0M1581 1014h0M1558 1108h0M1463 903h0M1326 997h0M1403 945h0M1360 915h0M1423 1053h0M1480 975h0M1615 867h0M1496 996h0M1393 961h0M1597 1011h0M1396 978h0M1378 914h0M1607 983h0M1615 940h0M1686 893h0M1707 894h0M1613 1027h0M1690 914h0M1618 924h0M1674 940h0M1655 878h0M1695 888h0M1672 933h0M1627 992h0M1664 917h0M1677 907h0M1619 923h0M1627 892h0M1649 886h0M1672 911h0M1667 899h0M1702 887h0M1652 884h0M1614 1009h0M1670 933h0M1648 878h0M1639 997h0M1636 1005h0M1681 918h0M1632 992h0M1626 891h0M1637 883h0M1682 900h0M1617 998h0M1660 958h0M1682 954h0M1675 945h0M1648 915h0M1657 924h0M1672 926h0M1638 971h0M1667 904h0M1654 999h0M1652 903h0M1641 918h0M1621 918h0M1642 919h0M1662 891h0M1619 1004h0M1666 974h0M1642 943h0M1637 956h0M1624 962h0M1705 897h0M1676 896h0M1629 987h0M1623 974h0M1636 973h0M1641 937h0M1628 977h0M1647 972h0M1658 933h0M1678 880h0M1612 1016h0M1668 931h0M1642 920h0M1650 923h0M1613 987h0M1655 881h0M1688 896h0M1652 967h0M1628 886h0M1635 945h0M1675 937h0M1678 968h0M1634 999h0M1693 942h0M1623 1025h0M1639 914h0M1677 973h0M1614 1001h0M1681 925h0M1653 951h0M1661 981h0M1646 901h0M1621 961h0M1617 943h0M1634 888h0M1634 991h0M1692 920h0M1697 932h0M1669 970h0M1649 935h0M1658 957h0M1694 908h0M1615 960h0M1621 981h0M1627 1022h0M1686 926h0M1641 874h0M1641 884h0M1618 1005h0M1618 921h0M1612 1009h0M1641 898h0M1663 977h0M1681 926h0M1687 935h0M1677 960h0M1622 907h0M1620 1014h0M1630 880h0M1649 889h0M1625 1010h0M1698 929h0M1636 901h0M1618 1010h0M1627 957h0M1700 910h0M1638 900h0M1648 953h0M1634 970h0M1622 961h0M1651 990h0M1636 933h0M1625 962h0M1654 941h0M1677 941h0M1648 955h0M1634 952h0M1630 995h0M1665 933h0M1675 941h0M1655 967h0M1664 953h0M1657 954h0M1664 980h0M1655 958h0M1628 932h0M1658 995h0M1638 1002h0M1650 965h0M1624 964h0M1632 972h0M1635 979h0M1625 941h0M1655 946h0M1640 983h0M1645 960h0M1643 954h0M1621 964h0M1679 978h0M1682 974h0M1619 966h0M1638 1000h0M1659 953h0M1632 953h0M1618 990h0M1677 967h0M1646 990h0M1657 991h0M1654 934h0M1643 997h0M1627 990h0M1667 937h0M1623 961h0M1651 967h0M1674 947h0M1628 976h0M1677 965h0M1620 961h0M1673 982h0M1671 985h0M1654 985h0M1631 941h0M1626 970h0M1681 931h0M1670 887h0M1705 905h0M1687 939h0M1673 882h0M1706 898h0M1694 913h0M1688 894h0M1671 892h0M1696 919h0M1683 903h0M1686 893h0M1694 937h0M1692 918h0M1684 928h0M1678 914h0M1679 923h0M1681 916h0M1684 903h0M1695 912h0M1679 937h0M1685 895h0M1669 898h0M1698 900h0M1225 894h0M1252 880h0M1260 996h0M1255 916h0M1255 886h0M1245 920h0M1262 997h0M1229 927h0M1273 934h0M1269 897h0M1261 931h0M1219 907h0M1250 966h0M1295 890h0M1260 905h0M1268 894h0M1264 906h0M1235 885h0M1242 934h0M1230 921h0M1254 944h0M1265 925h0M1226 926h0M1258 939h0M1224 874h0M1243 958h0M1259 877h0M1226 922h0M1276 941h0M1222 895h0M1238 887h0M1259 891h0M1226 912h0M1254 942h0M1245 909h0M1252 913h0M1264 958h0M1272 893h0M1278 1010h0M1264 896h0M1260 916h0M1282 1005h0M1235 945h0M1235 903h0M1234 912h0M1264 904h0M1251 920h0M1272 924h0M1228 924h0M1272 928h0M1239 959h0M1253 928h0M1292 909h0M1278 1001h0M1284 911h0M1250 927h0M1247 922h0M1250 941h0M1261 900h0M1289 1020h0M1263 966h0M1256 893h0M1276 882h0M1269 990h0M1218 893h0M1217 909h0M1287 928h0M1260 889h0M1248 883h0M1228 939h0M1247 932h0M1277 895h0M1230 904h0M1240 936h0M1269 932h0M1237 940h0M1285 880h0M1233 874h0M1296 899h0M1266 941h0M1272 937h0M1262 915h0M1250 884h0M1246 947h0M1220 903h0M1280 938h0M1264 884h0M1244 879h0M1222 892h0M1252 945h0M1220 902h0M1232 953h0M1264 987h0M1284 900h0M1229 940h0M1285 1014h0M1244 969h0M1239 921h0M1273 926h0M1292 883h0M1259 881h0M1277 908h0M1244 918h0M1231 917h0M1219 879h0M1279 1013h0M1269 961h0M1278 989h0M1252 899h0M1222 899h0M1242 937h0M1264 890h0M1267 923h0M1258 965h0M1245 915h0M1272 1009h0M1236 951h0M1242 946h0M1269 900h0M1257 980h0M1294 880h0M1255 931h0M1277 997h0M1257 987h0M1285 926h0M1244 939h0M1258 980h0M1287 923h0M1282 1011h0M1283 1011h0M1214 892h0M1272 941h0M1273 913h0M1281 900h0M1233 879h0M1253 943h0M1281 878h0M1260 950h0M1262 953h0M1244 948h0M1248 894h0M1232 920h0M1240 1082h0M1227 1020h0M1269 1074h0M1283 1032h0M1289 1069h0M1270 1071h0M1297 1105h0M1230 1021h0M1231 1049h0M1235 1038h0M1267 1034h0M1238 1070h0M1279 1071h0M1262 1020h0M1312 1091h0M1248 1089h0M1232 1054h0M1290 1053h0M1304 1053h0M1283 1063h0M1276 1037h0M1259 1087h0M1287 1025h0M1282 1026h0M1277 1050h0M1286 1037h0M1249 1064h0M1310 1083h0M1222 1019h0M1277 1054h0M1222 1030h0M1283 1086h0M1262 1038h0M1269 1073h0M1261 1081h0M1282 1071h0M1307 1060h0M1223 1027h0M1251 1036h0M1261 1069h0M1235 1011h0M1243 1067h0M1258 1095h0M1294 1075h0M1265 1018h0M1270 1058h0M1231 1024h0M1266 1054h0M1286 1080h0M1309 1081h0M1304 1102h0M1304 1051h0M1250 1095h0M1237 1030h0M1239 1069h0M1271 1035h0M1269 1097h0M1276 1073h0M1304 1078h0M1257 1093h0M1299 1048h0M1224 1043h0M1248 1077h0M1240 1023h0M1259 1061h0M1248 1078h0M1250 1064h0M1241 1047h0M1231 1002h0M1239 1016h0M1236 1060h0M1312 1091h0M1289 1095h0M1292 1080h0M1279 1075h0M1282 1043h0M1249 1090h0M1288 1076h0M1279 1065h0M1238 1031h0M1276 1096h0M1246 1059h0M1255 1043h0M1258 1058h0M1289 1096h0M1270 1098h0M1233 1016h0M874 1201h0M876 1189h0M867 1177h0M874 1208h0M872 1191h0M874 1204h0M874 1188h0M862 1165h0M872 1180h0M877 1194h0M869 1188h0M878 1183h0M850 1186h0M859 1206h0M883 1197h0M860 1177h0M858 1204h0M867 1209h0M857 1187h0M849 1193h0M869 1171h0M866 1179h0M847 1160h0M845 1174h0M858 1188h0M877 1178h0M848 1162h0M850 1172h0M876 1211h0M876 1200h0M879 1186h0M878 1193h0M862 1177h0M882 1186h0M870 1191h0M866 1177h0M870 1189h0M866 1177h0M873 1185h0M875 1211h0M862 1178h0M875 1199h0M859 1190h0M863 1200h0M843 1164h0M849 1175h0M866 1173h0M877 1178h0M862 1200h0M879 1186h0M863 1200h0M865 1199h0M861 1163h0M854 1160h0M874 1188h0M878 1180h0M879 1202h0M850 1159h0M859 1163h0M860 1176h0M928 1171h0M969 1159h0M908 1185h0M941 1167h0M919 1188h0M919 1187h0M895 1184h0M964 1161h0M900 1194h0M908 1189h0M934 1170h0M901 1188h0M934 1169h0M896 1188h0M924 1172h0M970 1163h0M949 1172h0M950 1179h0M975 1151h0M904 1187h0M965 1165h0M978 1168h0M977 1163h0M887 1200h0M945 1179h0M899 1193h0M929 1180h0M976 1168h0M927 1174h0M949 1167h0M935 1179h0M977 1150h0M899 1187h0M975 1155h0M903 1192h0M925 1187h0M907 1191h0M967 1167h0M952 1172h0M974 1161h0M967 1163h0M955 1168h0M912 1193h0M915 1179h0M925 1172h0M910 1187h0M979 1158h0M978 1166h0M930 1171h0M936 1179h0M1060 1097h0M1047 1125h0M1059 1113h0M1010 1132h0M1063 1086h0M1033 1166h0M1042 1114h0M1036 1165h0M1033 1152h0M1082 1096h0M1003 1160h0M1029 1098h0M1083 1056h0M1019 1150h0M1060 1106h0M1067 1135h0M1085 1108h0M1058 1149h0M1070 1090h0M1079 1120h0M1075 1072h0M1001 1133h0M1062 1111h0M1039 1110h0M1031 1144h0M1082 1087h0M984 1152h0M1037 1117h0M1000 1161h0M1090 1067h0M1020 1123h0M1032 1132h0M1059 1112h0M1019 1125h0M1055 1105h0M1020 1136h0M1031 1144h0M996 1170h0M1060 1084h0M1090 1077h0M1057 1107h0M988 1165h0M1061 1107h0M1048 1095h0M1013 1140h0M1036 1098h0M1030 1131h0M1066 1074h0M1045 1116h0M1022 1153h0M1043 1127h0M1005 1165h0M1037 1096h0M1047 1155h0M1029 1128h0M1033 1090h0M1069 1110h0M1082 1059h0M1061 1129h0M1068 1085h0M1089 1074h0M1014 1159h0M1021 1124h0M1056 1146h0M993 1143h0M1014 1140h0M1050 1094h0M1070 1073h0M1009 1144h0M1021 1171h0M1046 1151h0M1063 1121h0M1057 1087h0M1069 1111h0M1056 1129h0M1042 1094h0M1047 1155h0M1057 1101h0M1000 1152h0M1041 1112h0M1042 1090h0M1064 1113h0M1050 1138h0M1089 1064h0M1063 1108h0M999 1166h0M1056 1081h0M1038 1117h0M1060 1129h0M1088 1061h0M1070 1074h0M1078 1095h0M1006 1134h0M1070 1102h0M1003 1161h0M1013 1141h0M1063 1123h0M1012 1140h0M1028 1117h0M1061 1071h0M1080 1092h0M1050 1119h0M1031 1094h0M1018 1121h0M1053 1139h0M1017 1160h0M1048 1085h0M1035 1156h0M1063 1074h0M1003 1147h0M1013 1127h0M1044 1114h0M1041 1116h0M1007 1174h0M1030 1113h0M1028 1157h0M1070 1124h0M1028 1169h0M1082 1058h0M1039 1126h0M1082 1114h0M1062 1107h0M1078 1096h0M1057 1097h0M1078 1087h0M1063 1107h0M1062 1121h0M1042 1150h0M1063 1109h0M1045 1113h0M1031 1159h0M1031 1129h0M1070 1118h0M1005 1156h0M1074 1093h0M1024 1163h0M1072 1135h0M1125 1049h0M1098 1098h0M1090 1051h0M1090 1065h0M1123 1062h0M1092 1089h0M1113 1099h0M1107 1049h0M1126 1072h0M1095 1099h0M1117 1053h0M1119 1077h0M1113 1102h0M1101 1074h0M1103 1093h0M1127 1087h0M1106 1031h0M1102 1100h0M1093 1103h0M1110 1046h0M1104 1031h0M1103 1097h0M1130 1083h0M1105 1049h0M1107 1061h0M1121 1059h0M1092 1061h0M1127 1084h0M1100 1057h0M1112 1028h0M1118 1037h0M1096 1074h0M1103 1043h0M1103 1098h0M1123 1036h0M1110 1076h0M1111 1029h0M1113 1028h0M1095 1101h0M1107 1041h0M1129 1057h0M1105 1057h0M1110 1049h0M1103 1048h0M1106 1046h0M1114 1073h0M1108 1052h0M1115 1029h0M1093 1049h0M1122 1086h0M1092 1048h0M1110 1033h0M1126 1050h0M1121 1049h0M1105 1099h0M1100 1099h0M1098 1094h0M1091 1091h0M1105 1048h0M1099 1049h0M1118 1085h0M1090 1091h0M1099 1093h0M1110 1077h0M1095 1105h0M1119 1081h0M1104 1041h0M1120 1034h0M1118 1030h0M1109 1057h0M1101 1043h0M1099 1086h0M1102 1063h0M1125 1073h0M1103 1057h0M1109 1044h0M1101 1067h0M1117 1040h0M1094 1076h0M1117 1036h0M1098 1087h0M1107 1071h0M1100 1039h0M1124 1090h0M1119 1036h0M1120 1097h0M1097 1054h0M1107 1037h0M1102 1043h0M1125 1040h0M1106 1064h0M1108 1068h0M1125 1042h0M1113 1091h0M1089 1063h0M1144 1112h0M1116 1101h0M1127 1116h0M1138 1102h0M1188 1085h0M1138 1098h0M1137 1118h0M1182 1094h0M1128 1113h0M1147 1094h0M1144 1120h0M1183 1085h0M1120 1113h0M1144 1090h0M1117 1129h0M1126 1108h0M1142 1098h0M1137 1116h0M1157 1094h0M1185 1097h0M1137 1105h0M1119 1118h0M1116 1100h0M1139 1094h0M1191 1095h0M1175 1103h0M1154 1110h0M1162 1091h0M1189 1087h0M1129 1095h0M1190 1083h0M1111 1113h0M1129 1102h0M1158 1087h0M1149 1112h0M1163 1106h0M1173 1086h0M1157 1087h0M1137 1097h0M1137 1113h0M1127 1105h0M1136 1118h0M1114 1106h0M1138 1100h0M1180 1090h0M1115 1104h0M1157 1110h0M1112 1106h0M1151 1113h0M1170 1085h0M1144 1092h0M1116 1118h0M1151 1092h0M1181 1092h0M1145 1094h0M1114 1099h0M1168 1103h0M1176 1104h0M1130 1116h0M1146 1118h0M1127 1125h0M1151 1115h0M1133 1112h0M1159 1109h0M1180 1102h0M1187 1089h0M1109 1113h0M1110 1123h0M1146 1112h0M1116 1125h0M1125 1099h0M1105 1127h0M1106 1123h0M1137 1111h0M1161 1085h0M1297 1088h0M1198 1083h0M1199 1080h0M1205 1068h0M1220 1068h0M1226 1090h0M1251 1063h0M1232 1070h0M1273 1068h0M1228 1074h0M1308 1098h0M1260 1073h0M1235 1089h0M1225 1094h0M1246 1074h0M1298 1071h0M1272 1050h0M1216 1050h0M1188 1061h0M1277 1081h0M1282 1089h0M1288 1049h0M1273 1080h0M1282 1042h0M1289 1107h0M1303 1093h0M1218 1062h0M1254 1053h0M1233 1068h0M1301 1107h0M1246 1046h0M1266 1071h0M1224 1048h0M1243 1079h0M1296 1064h0M1301 1074h0M1295 1085h0M1253 1050h0M1239 1073h0M1192 1072h0M1273 1093h0M1199 1075h0M1306 1079h0M1267 1095h0M1298 1046h0M1295 1099h0M1235 1070h0M1288 1041h0M1243 1062h0M1295 1052h0M1218 1087h0M1228 1086h0M1312 1079h0M1220 1093h0M1246 1073h0M1274 1060h0M1196 1086h0M1298 1041h0M1272 1059h0M1281 1095h0M1292 1050h0M1302 1093h0M1273 1099h0M1239 1063h0M1233 1082h0M1255 1077h0M1273 1073h0M1238 1089h0M1312 1071h0M1314 1086h0M1230 1051h0M1260 1055h0M1303 1104h0M1283 1082h0M1274 1085h0M1260 1087h0M1309 1079h0M1301 1090h0M1304 1092h0M1253 1093h0M1201 1086h0M1289 1100h0M1251 1075h0M1238 1051h0M1227 1057h0M1233 1064h0M1201 1059h0M1237 1054h0M1285 1047h0M1215 1065h0M1234 1080h0M1220 1062h0M1214 1061h0M1263 1086h0M1298 1082h0M1296 1095h0M1291 1059h0M1256 1087h0M1249 1046h0M1272 1086h0M1273 1096h0M1208 1059h0M1285 1082h0M1278 1075h0M1279 1098h0M1266 1076h0M1296 1064h0M1259 1062h0M1227 1062h0M1289 1085h0M1219 1082h0M1229 1053h0M1198 1073h0M1217 1074h0M1251 1058h0M1270 1071h0M1200 1080h0M1227 1080h0M1251 1049h0M1222 1068h0M1209 1060h0M1300 1056h0M1267 1042h0M1290 1053h0M1257 1061h0M1144 991h0M1169 1005h0M1215 1011h0M1221 1011h0M1205 1006h0M1190 1009h0M1205 1015h0M1145 987h0M1195 1008h0M1178 1008h0M1175 989h0M1166 985h0M1136 992h0M1147 978h0M1075 948h0M1089 953h0M1058 918h0M1094 950h0M1039 926h0M1075 927h0M1049 935h0M1052 931h0M1075 931h0M1076 941h0M1088 941h0M1072 953h0M1062 956h0M1044 944h0M1083 959h0M1071 948h0M1095 951h0M1086 940h0M1074 929h0M1051 950h0M1064 934h0M1091 943h0M1072 927h0M1072 954h0M1076 949h0M1081 939h0M1055 941h0M1064 924h0M1058 931h0M1076 929h0M1037 932h0M1073 951h0M1101 934h0M1050 939h0M1085 938h0M1064 954h0M1058 936h0M1043 923h0M1080 954h0M1092 936h0M1078 926h0M1066 939h0M1047 943h0M1057 935h0M1044 920h0M1088 958h0M1095 940h0M1080 960h0M1091 954h0M1048 916h0M1033 916h0M1053 918h0M1076 949h0M1049 925h0M1051 935h0M1040 926h0M1072 949h0M1097 939h0M1080 929h0M1089 940h0M1053 922h0M1070 932h0M1047 942h0M1074 945h0M1059 922h0M1039 925h0M1093 959h0M1083 926h0M1074 949h0M1061 933h0M1047 917h0M1089 966h0M1051 947h0M1044 946h0M1057 951h0M1072 923h0M1040 920h0M1077 936h0M1075 932h0M1074 963h0M1086 955h0M1073 940h0M1049 954h0M1057 945h0M1098 937h0M1060 934h0M1084 957h0M1087 966h0M1082 933h0M1087 961h0M1064 958h0M1078 959h0M1083 947h0M1035 921h0M1091 952h0M1060 956h0M1074 960h0M1089 928h0M1068 937h0M1141 975h0M1126 950h0M1125 960h0M1116 973h0M1109 942h0M1114 969h0M1123 968h0M1107 937h0M1121 946h0M1126 979h0M1114 945h0M1125 976h0M1104 946h0M1101 949h0M1100 950h0M1107 938h0M1140 975h0M1124 968h0M1188 882h0M1181 869h0M1210 907h0M1188 888h0M1194 875h0M1193 883h0M1180 878h0M1224 899h0M1175 872h0M1199 898h0M1176 882h0M1178 861h0M1202 901h0M1225 893h0M1226 897h0M1196 885h0M1218 908h0M1174 855h0M1207 902h0M1208 895h0M1182 866h0M1170 861h0M1185 888h0M1193 889h0M1164 869h0M1188 891h0M1214 906h0M1167 871h0M1171 875h0M1179 861h0M1214 905h0M1177 870h0M1198 894h0M1186 868h0M1190 879h0M1180 866h0M1187 878h0M1177 862h0M1184 874h0M1104 851h0M1111 859h0M1083 883h0M1094 894h0M1106 894h0M1093 904h0M1061 906h0M1166 902h0M1195 930h0M1179 935h0M1165 936h0M1166 940h0M1158 958h0M1147 966h0M1080 1021h0M1142 1009h0M1146 1037h0M1159 1038h0M1176 1026h0M1171 1015h0M1197 986h0M1221 985h0M1206 1026h0M1203 1039h0M1190 1046h0M1191 1052h0M1228 1022h0M1230 1035h0M1216 1048h0M1222 1049h0M915 648h0M919 649h0M913 647h0M931 653h0M951 654h0M951 663h0M957 659h0M962 669h0M964 657h0M966 657h0M967 664h0M972 663h0M979 660h0M983 661h0M958 664h0M913 685h0M935 676h0M939 678h0M1038 614h0M1028 627h0M1024 633h0M1018 644h0M1020 651h0M1008 658h0M999 654h0M1018 670h0M1021 669h0M1030 671h0M1034 684h0M1012 687h0M1028 688h0M1133 720h0M1142 720h0M1176 724h0M1168 731h0M1044 714h0M1046 714h0M1037 720h0M1037 724h0M1039 698h0M1039 705h0M1019 704h0M1033 707h0M1033 715h0M1024 698h0M1019 703h0M1034 698h0M1042 721h0M1043 700h0M1029 705h0M1043 724h0M1025 709h0M1034 696h0M1045 709h0M1020 692h0M1038 720h0M1036 701h0M1036 705h0M1021 695h0M1040 717h0M1028 711h0M1022 703h0M1033 711h0M1048 719h0M1050 707h0M1021 702h0M1050 714h0M1029 714h0M1036 717h0M1047 699h0M1024 713h0M1044 723h0M1039 695h0M1031 709h0M1022 698h0M1035 695h0M1044 700h0M1032 714h0M1031 694h0M1047 722h0M1027 712h0M1025 694h0M1035 720h0M1028 717h0M1025 698h0M1021 700h0M1045 714h0M1030 704h0M1034 695h0M1040 721h0M1049 702h0M1038 694h0M1041 732h0M1077 755h0M1055 746h0M1044 733h0M1078 763h0M1084 761h0M1058 741h0M1070 748h0M1081 760h0M1048 730h0M1082 764h0M1083 753h0M1072 761h0M1055 746h0M1081 760h0M1069 746h0M1067 747h0M1072 752h0M1074 751h0M1058 728h0M1076 764h0M1082 751h0M1052 727h0M1060 743h0M1063 741h0M1074 759h0M1073 758h0M1060 739h0M1080 771h0M1056 727h0M1053 743h0M1063 753h0M1055 746h0M1068 752h0M1068 741h0M1070 739h0M1082 762h0M1045 734h0M1059 751h0M1082 764h0M1065 737h0M1070 755h0M1043 734h0M1081 761h0M1055 705h0M1058 708h0M1075 710h0M1082 714h0M1085 713h0M1074 712h0M1054 704h0M1063 704h0M1058 701h0M1090 711h0M1166 766h0M1175 770h0M1187 770h0M1160 774h0M1188 778h0M1195 778h0M1165 784h0M1171 784h0M1164 789h0M1163 794h0M1168 795h0M1170 800h0M1165 806h0M1154 810h0M1156 813h0M1149 818h0M1164 818h0M1166 819h0M1182 816h0M1208 821h0M1186 825h0M1194 831h0M1192 839h0M1154 825h0M1170 828h0M1149 829h0M1155 831h0M1152 836h0M1171 855h0M1178 855h0M1244 840h0M1241 603h0M1240 612h0M1247 614h0M1244 629h0M1248 622h0M1240 792h0M1241 770h0M1247 763h0M1247 779h0M1248 786h0M356 624h0M363 637h0M371 650h0M353 628h0M355 649h0M353 652h0M363 656h0M368 648h0M362 625h0M351 626h0M360 647h0M366 623h0M349 647h0M357 654h0M352 637h0M362 636h0M357 632h0M369 629h0M352 641h0M367 625h0M371 625h0M361 624h0M358 643h0M352 625h0M357 631h0M370 628h0M367 648h0M363 633h0M360 627h0M356 626h0M357 651h0M372 625h0M360 636h0M356 637h0M361 640h0M367 660h0M400 667h0M367 674h0M385 663h0M374 683h0M384 680h0M370 669h0M385 661h0M398 667h0M388 685h0M365 663h0M388 657h0M393 666h0M376 673h0M382 667h0M368 673h0M374 661h0M391 673h0M391 683h0M382 659h0M373 666h0M370 684h0M380 686h0M359 667h0M387 659h0M383 668h0M387 665h0M370 666h0M380 681h0M367 678h0M375 665h0M401 668h0M365 673h0M389 686h0M382 672h0M391 663h0M380 670h0M389 673h0M389 674h0M371 667h0M378 669h0M386 681h0M434 669h0M428 653h0M432 653h0M420 674h0M429 665h0M410 661h0M419 658h0M420 660h0M412 656h0M435 676h0M427 652h0M420 662h0M437 666h0M424 673h0M420 663h0M437 657h0M429 677h0M429 650h0M434 654h0M419 668h0M413 673h0M432 679h0M417 656h0M415 669h0M462 639h0M451 636h0M445 657h0M446 643h0M459 648h0M460 638h0M451 645h0M447 641h0M451 642h0M455 642h0M460 648h0M462 649h0M448 650h0M458 651h0M462 648h0M448 651h0M441 680h0M450 670h0M446 689h0M443 686h0M460 664h0M441 681h0M461 677h0M440 685h0M437 666h0M446 688h0M466 681h0M447 663h0M450 682h0M451 684h0M455 687h0M443 683h0M449 673h0M441 682h0M447 685h0M465 668h0M443 665h0M460 681h0M448 693h0M449 688h0M459 683h0M430 727h0M445 714h0M438 733h0M452 718h0M444 686h0M431 697h0M413 701h0M415 716h0M454 696h0M442 730h0M417 694h0M442 688h0M459 689h0M434 744h0M430 755h0M420 692h0M463 693h0M462 720h0M442 740h0M436 747h0M437 694h0M423 725h0M439 714h0M447 721h0M419 734h0M421 704h0M457 739h0M420 687h0M454 724h0M407 731h0M434 741h0M457 688h0M418 716h0M443 718h0M410 715h0M455 739h0M446 724h0M437 725h0M445 738h0M450 716h0M413 710h0M465 717h0M428 733h0M420 689h0M407 729h0M446 707h0M450 744h0M459 719h0M459 717h0M440 732h0M429 721h0M441 732h0M431 697h0M441 722h0M414 719h0M435 744h0M461 707h0M457 720h0M451 737h0M449 690h0M454 706h0M432 734h0M431 748h0M464 701h0M431 702h0M424 756h0M432 701h0M410 725h0M415 706h0M408 735h0M434 728h0M429 719h0M406 732h0M417 728h0M419 722h0M413 744h0M449 724h0M434 706h0M464 707h0M428 740h0M457 694h0M414 721h0M448 716h0M458 739h0M412 709h0M447 731h0M443 710h0M445 688h0M410 722h0M420 743h0M418 728h0M423 747h0M445 699h0M436 710h0M442 689h0M443 743h0M444 698h0M424 723h0M430 721h0M420 690h0M421 750h0M445 697h0M444 741h0M426 735h0M444 716h0M433 745h0M459 714h0M462 699h0M432 704h0M440 711h0M416 731h0M442 705h0M425 698h0M409 749h0M453 688h0M432 739h0M459 712h0M436 721h0M433 753h0M422 744h0M452 731h0M429 749h0M411 733h0M428 745h0M442 708h0M419 725h0M406 721h0M462 715h0M442 694h0M452 690h0M444 724h0M420 704h0M406 729h0M432 744h0M448 734h0M455 695h0M424 690h0M453 689h0M440 704h0M435 741h0M428 720h0M415 735h0M414 728h0M411 729h0M421 756h0M422 706h0M459 699h0M406 730h0M436 689h0M451 742h0M433 727h0M441 729h0M435 722h0M424 733h0M412 699h0M450 739h0M446 716h0M433 739h0M489 707h0M486 682h0M491 686h0M499 706h0M476 711h0M485 712h0M486 686h0M474 702h0M481 713h0M482 679h0M480 694h0M490 691h0M471 690h0M496 695h0M482 708h0M498 697h0M469 689h0M492 710h0M471 698h0M492 690h0M480 707h0M479 679h0M472 710h0M345 659h0M507 661h0M521 673h0M518 692h0M529 692h0M498 688h0M508 712h0M520 726h0M503 741h0M432 761h0M639 531h0M620 536h0M621 542h0M615 544h0M615 548h0M611 554h0M613 566h0M607 567h0M603 573h0M608 577h0M614 578h0M605 625h0M610 618h0M609 586h0M617 590h0M604 583h0M607 648h0M594 595h0M600 593h0M612 622h0M595 640h0M607 626h0M611 586h0M596 636h0M598 588h0M589 631h0M595 603h0M601 622h0M598 582h0M598 598h0M607 601h0M618 625h0M599 649h0M588 635h0M618 608h0M602 616h0M597 580h0M600 632h0M600 619h0M596 586h0M612 581h0M608 584h0M608 579h0M614 618h0M605 587h0M594 616h0M603 627h0M610 648h0M608 628h0M616 620h0M588 626h0M596 626h0M598 582h0M610 629h0M596 646h0M604 611h0M594 585h0M594 634h0M597 611h0M602 634h0M612 600h0M595 648h0M604 587h0M614 626h0M608 639h0M598 641h0M612 641h0M599 621h0M591 647h0M594 634h0M609 594h0M606 583h0M599 643h0M590 626h0M602 578h0M609 595h0M619 616h0M615 605h0M613 580h0M574 634h0M523 613h0M499 615h0M570 637h0M571 643h0M578 646h0M570 641h0M566 635h0M562 635h0M538 620h0M567 632h0M546 631h0M563 635h0M536 617h0M572 631h0M540 626h0M518 617h0M535 611h0M549 630h0M573 640h0M526 622h0M514 617h0M560 639h0M517 624h0M566 640h0M561 639h0M511 609h0M527 612h0M542 631h0M533 620h0M529 617h0M551 624h0M500 616h0M528 618h0M553 624h0M534 612h0M544 616h0M517 609h0M529 621h0M516 605h0M556 631h0M553 638h0M536 630h0M523 607h0M569 640h0M507 619h0M575 646h0M537 629h0M539 618h0M516 622h0M574 648h0M563 636h0M621 653h0M585 662h0M594 685h0M632 663h0M576 655h0M576 662h0M618 656h0M585 652h0M617 670h0M585 656h0M634 672h0M592 661h0M607 650h0M616 672h0M619 669h0M598 682h0M633 660h0M597 700h0M629 680h0M583 668h0M568 655h0M576 640h0M605 695h0M568 657h0M593 668h0M610 657h0M587 696h0M584 644h0M627 691h0M609 683h0M626 683h0M597 683h0M576 650h0M623 674h0M615 654h0M589 646h0M606 670h0M581 682h0M576 653h0M571 686h0M589 649h0M585 670h0M604 658h0M621 666h0M603 665h0M574 684h0M584 638h0M618 648h0M625 659h0M620 671h0M600 656h0M585 666h0M570 684h0M588 666h0M620 655h0M578 675h0M619 678h0M598 695h0M585 679h0M626 695h0M571 656h0M589 659h0M588 671h0M612 691h0M570 665h0M626 685h0M579 641h0M593 692h0M636 682h0M618 676h0M621 669h0M611 647h0M581 676h0M628 658h0M568 681h0M626 692h0M619 660h0M602 639h0M608 690h0M589 670h0M602 660h0M624 653h0M624 667h0M626 699h0M594 700h0M586 644h0M581 683h0M573 674h0M576 642h0M572 667h0M584 698h0M611 662h0M601 681h0M576 667h0M626 650h0M601 702h0M593 683h0M601 639h0M623 675h0M599 649h0M578 642h0M611 645h0M606 645h0M574 688h0M570 666h0M600 666h0M605 668h0M596 691h0M590 674h0M622 682h0M583 667h0M609 649h0M599 682h0M604 646h0M584 672h0M592 694h0M602 655h0M581 674h0M637 677h0M586 648h0M614 690h0M611 649h0M598 685h0M624 692h0M603 657h0M591 654h0M635 684h0M612 686h0M621 677h0M578 664h0M584 699h0M606 671h0M577 668h0M617 664h0M585 676h0M616 658h0M618 649h0M625 660h0M614 643h0M596 674h0M606 641h0M609 659h0M633 660h0M572 657h0M616 652h0M570 682h0M608 646h0M587 688h0M620 665h0M570 643h0M586 692h0M623 670h0M601 644h0M627 685h0M583 660h0M606 647h0M589 699h0M585 674h0M627 693h0M569 647h0M635 680h0M624 685h0M628 672h0M584 698h0M630 679h0M633 685h0M617 646h0M588 691h0M631 664h0M577 647h0M593 654h0M616 694h0M609 674h0M592 683h0M598 679h0M574 663h0M576 673h0M623 670h0M597 689h0M594 677h0M613 690h0M586 677h0M620 690h0M575 641h0M593 667h0M593 705h0M607 715h0M621 726h0M582 705h0M603 727h0M588 716h0M598 714h0M601 708h0M610 717h0M617 719h0M615 730h0M632 716h0M628 728h0M592 709h0M601 709h0M622 706h0M613 713h0M622 716h0M590 722h0M626 729h0M611 720h0M635 595h0M639 601h0M642 601h0M646 595h0M649 587h0M655 592h0M660 601h0M662 591h0M663 582h0M667 591h0M673 581h0M670 571h0M674 573h0M680 568h0M683 554h0M683 558h0M688 563h0M692 547h0M693 542h0M655 608h0M655 614h0M663 611h0M669 613h0M678 603h0M682 596h0M627 586h0M622 600h0M578 594h0M711 635h0M709 618h0M705 617h0M705 635h0M721 619h0M734 633h0M732 647h0M722 650h0M739 639h0M706 642h0M740 637h0M713 628h0M710 618h0M716 627h0M729 633h0M710 625h0M717 628h0M724 634h0M717 638h0M715 615h0M709 618h0M740 623h0M738 639h0M727 618h0M723 625h0M735 641h0M737 646h0M729 626h0M732 626h0M729 622h0M717 630h0M741 643h0M708 627h0M723 643h0M715 621h0M724 633h0M734 615h0M709 619h0M723 647h0M730 620h0M722 614h0M733 619h0M731 623h0M725 643h0M735 648h0M735 647h0M739 643h0M705 636h0M738 624h0M713 622h0M737 625h0M712 646h0M719 612h0M728 632h0M742 644h0M719 630h0M716 637h0M708 615h0M730 620h0M743 627h0M757 627h0M765 626h0M759 629h0M741 628h0M760 621h0M690 611h0M698 613h0M678 623h0M684 623h0M691 622h0M695 630h0M709 592h0M711 607h0M654 634h0M665 638h0M678 640h0M639 639h0M641 640h0M650 647h0M654 654h0M646 655h0M643 656h0M645 667h0M655 672h0M652 682h0M660 683h0M667 683h0M674 686h0M677 671h0M680 665h0M690 661h0M684 674h0M680 680h0M705 666h0M700 655h0M711 654h0M710 649h0M663 692h0M649 694h0M660 700h0M656 706h0M649 679h0M656 686h0M639 679h0M643 680h0M693 706h0M562 657h0M563 663h0M499 702h0M685 727h0M675 718h0M671 731h0M681 723h0M683 735h0M679 724h0M664 722h0M683 734h0M657 717h0M653 728h0M662 735h0M686 729h0M679 737h0M671 724h0M673 733h0M507 660h0M522 673h0M543 662h0M547 672h0M556 662h0M498 688h0M518 692h0M529 692h0M551 687h0M557 685h0M565 687h0M550 695h0M508 712h0M541 707h0M547 709h0M557 716h0M564 712h0M520 726h0M540 727h0M549 725h0M542 752h0M541 766h0M538 756h0M531 788h0M530 765h0M539 766h0M538 755h0M536 751h0M540 756h0M532 763h0M534 765h0M528 774h0M532 765h0M534 787h0M530 752h0M534 773h0M531 789h0M539 765h0M540 784h0M541 767h0M532 784h0M538 784h0M523 766h0M526 779h0M530 782h0M538 787h0M535 752h0M541 751h0M543 755h0M542 771h0M536 760h0M540 707h0M547 709h0M508 711h0M557 717h0M564 711h0M566 711h0M520 726h0M538 728h0M543 732h0M549 725h0M551 732h0M541 741h0M548 742h0M535 745h0M543 750h0M503 741h0M502 777h0M547 758h0M594 760h0M572 754h0M559 768h0M591 762h0M562 770h0M587 772h0M571 777h0M569 771h0M570 755h0M569 769h0M583 774h0M592 752h0M564 765h0M586 757h0M567 772h0M591 748h0M588 739h0M594 750h0M585 723h0M588 752h0M584 740h0M587 751h0M588 738h0M589 753h0M590 746h0M586 752h0M629 778h0M619 759h0M620 746h0M623 774h0M612 754h0M615 757h0M622 767h0M619 766h0M614 759h0M629 765h0M620 769h0M623 766h0M612 753h0M613 808h0M587 834h0M615 798h0M595 830h0M606 818h0M581 852h0M609 810h0M630 793h0M598 847h0M611 818h0M592 842h0M625 814h0M607 840h0M602 826h0M603 818h0M619 825h0M606 818h0M631 808h0M568 849h0M623 806h0M568 850h0M622 826h0M574 859h0M583 856h0M612 806h0M632 791h0M614 790h0M583 858h0M583 853h0M603 824h0M594 851h0M602 834h0M618 814h0M600 823h0M634 795h0M636 795h0M589 850h0M620 787h0M632 800h0M588 833h0M610 820h0M590 825h0M578 851h0M632 786h0M569 852h0M600 825h0M609 810h0M609 802h0M621 804h0M604 827h0M609 837h0M593 851h0M625 798h0M621 785h0M611 803h0M571 851h0M600 815h0M635 800h0M615 809h0M591 849h0M608 814h0M614 798h0M602 827h0M589 843h0M620 786h0M578 858h0M610 819h0M581 843h0M640 792h0M605 844h0M595 853h0M605 821h0M595 849h0M617 826h0M625 803h0M623 782h0M595 831h0M579 864h0M592 831h0M612 835h0M606 826h0M622 825h0M568 843h0M619 805h0M605 812h0M586 841h0M575 852h0M625 781h0M584 847h0M576 837h0M639 796h0M622 813h0M626 805h0M612 837h0M630 784h0M578 867h0M577 846h0M615 824h0M579 860h0M605 835h0M617 798h0M626 806h0M585 853h0M569 859h0M575 840h0M558 852h0M587 860h0M570 857h0M565 860h0M582 847h0M575 862h0M564 861h0M568 869h0M558 863h0M562 865h0M562 848h0M569 862h0M569 859h0M581 848h0M585 857h0M566 868h0M556 858h0M558 847h0M564 869h0M582 865h0M567 868h0M564 843h0M555 852h0M566 843h0M569 857h0M565 851h0M575 842h0M589 792h0M584 803h0M580 807h0M584 812h0M553 802h0M550 840h0M550 853h0M562 828h0M568 823h0M575 826h0M582 827h0M585 819h0M529 806h0M535 796h0M516 793h0M521 792h0M520 782h0M607 735h0M605 746h0M602 762h0M595 767h0M611 758h0M615 738h0M622 738h0M644 742h0M641 729h0M693 707h0M454 1002h0M455 1011h0M455 1016h0M458 1031h0M451 1036h0M454 1037h0M453 1041h0M476 1073h0M481 1067h0M485 1077h0M486 1052h0M471 1058h0M487 1059h0M491 1063h0M495 1047h0M499 1049h0M498 1037h0M505 1041h0M512 1037h0M513 1043h0M519 1031h0M523 1033h0M493 1055h0M503 1039h0M508 1042h0M487 1093h0M491 1091h0M482 1099h0M531 1007h0M509 1146h0M450 1066h0M456 1054h0M457 1055h0M450 1060h0M453 1051h0M458 1050h0M455 1062h0M462 1058h0M450 1044h0M458 1059h0M451 1054h0M460 1059h0M454 1047h0M462 1061h0M455 1050h0M458 1050h0M462 1055h0M450 1056h0M449 1063h0M449 1050h0M450 1048h0M462 1050h0M456 1053h0M449 1051h0M490 1118h0M504 1132h0M478 1098h0M498 1121h0M474 1088h0M480 1110h0M479 1106h0M471 1083h0M488 1106h0M472 1101h0M509 1137h0M479 1097h0M478 1091h0M498 1119h0M501 1137h0M463 1072h0M494 1127h0M468 1079h0M473 1092h0M507 1130h0M469 1094h0M478 1104h0M465 1071h0M503 1136h0M457 1071h0M473 1093h0M509 1133h0M473 1090h0M503 1136h0M503 1129h0M477 1103h0M498 1134h0M508 1134h0M465 1089h0M462 1066h0M504 1130h0M482 1109h0M488 1116h0M478 1111h0M473 1102h0M467 1095h0M467 1074h0M499 1119h0M481 1104h0M509 1132h0M467 1073h0M474 1098h0M484 1111h0M471 1097h0M487 1113h0M496 1126h0M501 1125h0M494 1118h0M490 1109h0M486 1106h0M497 1125h0M465 1086h0M457 1070h0M487 1116h0M474 1088h0M474 1087h0M459 1077h0M522 1157h0M532 1161h0M519 1164h0M522 1165h0M516 1154h0M520 1155h0M513 1152h0M532 1158h0M517 1157h0M524 1171h0M516 1159h0M522 1155h0M527 1169h0M514 1157h0M531 1163h0M529 1167h0M524 1171h0M527 1167h0M527 1164h0M531 1164h0M517 1160h0M522 1155h0" stroke="#020106" stroke-width="6.4" stroke-linecap="round" fill="none"/>
<path d="M739 343h0M823 305h0M923 272h0M829 306h0M988 277h0M946 286h0M903 307h0M986 255h0M836 322h0M786 325h0M996 308h0M821 297h0M998 283h0M893 274h0M988 290h0M898 272h0M939 271h0M975 320h0M849 313h0M870 283h0M901 286h0M993 325h0M842 309h0M852 356h0M828 336h0M913 409h0M939 429h0M1002 408h0M1032 387h0M1013 355h0M1027 365h0M828 327h0M814 342h0M766 336h0M1000 408h0M1247 272h0M1116 269h0M1111 350h0M1012 299h0M1091 400h0M1094 399h0M1230 282h0M1086 379h0M1030 298h0M1130 323h0M1202 376h0M1034 244h0M1181 402h0M1182 300h0M1063 408h0M1046 236h0M1121 269h0M1111 354h0M1171 396h0M1086 341h0M1160 379h0M1236 347h0M1073 349h0M1202 283h0M1087 351h0M1094 303h0M1165 270h0M1213 378h0M1145 347h0M1100 403h0M1071 285h0M1079 414h0M1023 330h0M1040 374h0M1143 434h0M1169 430h0M1052 393h0M1141 312h0M1057 286h0M1004 323h0M1152 356h0M1084 303h0M1034 317h0M1149 407h0M1097 420h0M1060 322h0M1063 272h0M1170 346h0M1150 307h0M1067 336h0M1132 276h0M1162 335h0M1187 313h0M1190 303h0M1154 412h0M1091 282h0M1263 313h0M1024 309h0M1202 269h0M1110 419h0M1025 348h0M1063 272h0M1206 374h0M1168 314h0M1135 333h0M1222 316h0M1048 386h0M1065 389h0M1049 369h0M1173 271h0M1161 320h0M1068 245h0M1232 276h0M1088 264h0M1077 243h0M1018 241h0M1177 294h0M1179 300h0M1065 365h0M1028 250h0M1249 292h0M1045 343h0M1073 271h0M1034 296h0M1080 270h0M1092 385h0M1093 391h0M1076 413h0M1149 292h0M1040 334h0M1041 247h0M1137 277h0M1168 390h0M1188 292h0M1114 362h0M1178 427h0M1292 386h0M1322 451h0M1264 354h0M1307 404h0M1280 415h0M1306 376h0M1261 409h0M1270 314h0M1305 332h0M1313 390h0M1320 373h0M1328 345h0M1304 364h0M1282 390h0M1302 348h0M1301 335h0M1279 354h0M1307 483h0M1279 489h0M1233 484h0M1188 477h0M1245 368h0M1243 402h0M1106 444h0M1121 442h0M1321 471h0M1140 450h0M1266 486h0M1188 473h0M1135 443h0M1245 430h0M1202 424h0M1242 498h0M1273 545h0M1247 441h0M1291 547h0M1295 514h0M1177 471h0M1259 352h0M1175 492h0M1221 409h0M1100 454h0M1117 457h0M1301 543h0M1254 349h0M1168 470h0M1249 527h0M1259 535h0M1183 515h0M1240 511h0M1115 505h0M1123 498h0M1116 498h0M1239 529h0M1129 503h0M1209 510h0M1128 498h0M1168 496h0M1243 523h0M1117 492h0M1306 542h0M1300 616h0M1312 588h0M1335 583h0M1299 616h0M1272 616h0M1264 613h0M1299 639h0M1404 680h0M1424 686h0M1390 712h0M1357 686h0M1340 670h0M1314 675h0M1409 704h0M1322 663h0M1318 694h0M1312 680h0M1399 662h0M1420 665h0M1397 697h0M1424 712h0M1425 700h0M1380 668h0M1418 656h0M1327 698h0M1408 686h0M1362 710h0M1394 714h0M1390 687h0M1347 714h0M1375 669h0M1427 680h0M1368 732h0M1376 783h0M1314 753h0M1312 727h0M1377 766h0M1390 729h0M1403 773h0M1330 766h0M1395 731h0M1328 824h0M1341 781h0M1370 780h0M1326 775h0M1332 825h0M1404 719h0M1360 805h0M1345 722h0M1314 749h0M1447 748h0M1454 762h0M1490 750h0M1483 741h0M1242 785h0M1313 778h0M1277 745h0M1316 773h0M1323 806h0M1256 747h0M1282 791h0M1252 778h0M1290 794h0M1295 727h0M1312 795h0M1328 830h0M1249 770h0M1299 790h0M1298 726h0M1276 763h0M1298 783h0M1295 822h0M1281 778h0M1324 788h0M1302 704h0M1296 661h0M1456 850h0M1304 852h0M1252 827h0M1351 850h0M1402 837h0M1518 878h0M1304 932h0M1500 1078h0M1376 963h0M1339 924h0M1503 844h0M1439 964h0M1449 1047h0M1546 1086h0M1440 881h0M1335 1080h0M1489 871h0M1478 1130h0M1411 938h0M1467 799h0M1345 904h0M1510 1101h0M1586 953h0M1368 943h0M1447 1168h0M1399 831h0M1346 1004h0M1464 811h0M1505 1151h0M1309 946h0M1514 1016h0M1417 850h0M1506 1073h0M1382 1125h0M1348 1098h0M1355 945h0M1524 1108h0M1592 1008h0M1405 891h0M1431 1166h0M1596 1016h0M1366 1017h0M1607 1036h0M1569 930h0M1362 860h0M1406 954h0M1363 1067h0M1366 1067h0M1445 851h0M1364 1043h0M1570 1046h0M1489 863h0M1386 1113h0M1428 920h0M1587 958h0M1613 888h0M1422 889h0M1330 1058h0M1516 1144h0M1581 854h0M1370 1091h0M1454 1145h0M1405 1092h0M1597 889h0M1416 1077h0M1393 1065h0M1514 964h0M1539 967h0M1534 886h0M1546 878h0M1405 1141h0M1512 1005h0M1454 931h0M1479 817h0M1349 878h0M1528 1148h0M1459 971h0M1415 1100h0M1308 1010h0M1390 1141h0M1498 1022h0M1504 1026h0M1467 988h0M1314 994h0M1564 1062h0M1444 883h0M1382 1035h0M1348 1010h0M1540 927h0M1486 817h0M1575 878h0M1557 1011h0M1488 934h0M1495 1072h0M1327 887h0M1451 1057h0M1383 1053h0M1339 912h0M1558 1068h0M1380 843h0M1507 1144h0M1333 952h0M1562 934h0M1388 989h0M1531 1094h0M1359 905h0M1485 1105h0M1409 1049h0M1408 1107h0M1428 894h0M1352 1087h0M1441 1053h0M1439 974h0M1572 871h0M1422 1133h0M1438 846h0M1561 1028h0M1583 1103h0M1421 910h0M1337 894h0M1529 902h0M1551 1024h0M1466 1122h0M1480 1099h0M1302 957h0M1460 812h0M1473 927h0M1581 990h0M1537 1148h0M1487 880h0M1323 931h0M1421 998h0M1355 898h0M1499 1100h0M1333 989h0M1504 945h0M1551 936h0M1468 940h0M1437 1029h0M1316 961h0M1617 859h0M1338 925h0M1484 1020h0M1510 952h0M1472 1132h0M1412 952h0M1378 838h0M1491 1030h0M1356 901h0M1544 959h0M1429 977h0M1367 968h0M1392 837h0M1465 998h0M1530 1158h0M1552 1135h0M1433 891h0M1538 899h0M1542 1041h0M1288 956h0M1549 994h0M1568 964h0M1567 1065h0M1399 1141h0M1424 977h0M1541 876h0M1593 921h0M1510 855h0M1559 997h0M1432 843h0M1404 978h0M1373 1037h0M1465 984h0M1481 1041h0M1596 1073h0M1337 982h0M1571 1057h0M1443 995h0M1545 1108h0M1604 883h0M1598 979h0M1587 898h0M1588 860h0M1499 1113h0M1531 943h0M1385 969h0M1295 924h0M1589 1097h0M1455 921h0M1502 947h0M1377 1043h0M1454 814h0M1553 1145h0M1505 1046h0M1293 1011h0M1520 1146h0M1515 851h0M1422 956h0M1300 997h0M1438 1044h0M1441 1095h0M1504 895h0M1527 1124h0M1353 1069h0M1545 1114h0M1485 1109h0M1335 881h0M1449 1105h0M1494 860h0M1457 918h0M1338 1083h0M1363 959h0M1547 877h0M1586 1007h0M1536 954h0M1586 882h0M1526 1122h0M1334 1078h0M1522 1016h0M1564 994h0M1369 1106h0M1514 1014h0M1560 1126h0M1467 942h0M1373 1067h0M1431 1102h0M1347 1106h0M1505 898h0M1445 914h0M1457 1090h0M1385 999h0M1395 1011h0M1509 873h0M1300 961h0M1372 991h0M1415 1162h0M1426 946h0M1472 928h0M1569 880h0M1596 945h0M1510 1081h0M1416 916h0M1404 876h0M1507 865h0M1505 1140h0M1590 850h0M1510 864h0M1291 960h0M1507 1157h0M1460 908h0M1526 891h0M1518 999h0M1525 1153h0M1566 903h0M1575 899h0M1516 1056h0M1568 1041h0M1383 897h0M1389 862h0M1461 1175h0M1589 1015h0M1480 978h0M1317 1068h0M1462 1075h0M1376 855h0M1346 905h0M1356 872h0M1317 1069h0M1602 1014h0M1626 879h0M1359 869h0M1585 928h0M1493 824h0M1572 889h0M1404 887h0M1527 976h0M1368 1030h0M1384 1150h0M1366 897h0M1301 994h0M1351 1108h0M1564 950h0M1402 1017h0M1563 934h0M1628 896h0M1692 903h0M1648 989h0M1639 979h0M1648 977h0M1618 1008h0M1651 953h0M1636 900h0M1637 976h0M1629 938h0M1662 921h0M1647 905h0M1671 969h0M1656 945h0M1650 984h0M1684 929h0M1685 934h0M1255 976h0M1229 907h0M1278 904h0M1265 999h0M1276 946h0M1252 915h0M1278 1061h0M1241 1083h0M1266 1068h0M1259 1098h0M1227 1016h0M854 1164h0M868 1178h0M862 1163h0M873 1191h0M874 1192h0M859 1203h0M857 1169h0M852 1184h0M852 1185h0M873 1189h0M879 1189h0M874 1204h0M871 1204h0M864 1190h0M871 1202h0M860 1168h0M849 1171h0M852 1192h0M863 1190h0M867 1202h0M880 1209h0M873 1205h0M859 1166h0M872 1208h0M864 1182h0M863 1188h0M878 1179h0M844 1178h0M913 1184h0M949 1180h0M937 1185h0M982 1163h0M946 1173h0M958 1175h0M904 1179h0M894 1190h0M919 1189h0M948 1176h0M953 1176h0M962 1173h0M982 1166h0M1034 1156h0M1080 1091h0M992 1159h0M1061 1080h0M1062 1096h0M1031 1099h0M1019 1143h0M1017 1131h0M1087 1058h0M1013 1134h0M1058 1135h0M995 1148h0M1078 1075h0M1028 1153h0M1053 1135h0M1007 1158h0M1023 1147h0M1066 1132h0M1028 1170h0M1060 1143h0M998 1143h0M1076 1081h0M1032 1128h0M1035 1116h0M1052 1099h0M1075 1135h0M1015 1150h0M1088 1080h0M1017 1123h0M1088 1078h0M1037 1151h0M1073 1079h0M1017 1153h0M1054 1102h0M990 1154h0M1057 1135h0M1056 1140h0M1062 1142h0M1030 1106h0M1028 1154h0M999 1170h0M1042 1116h0M1005 1146h0M1098 1040h0M1104 1041h0M1167 1086h0M1132 1094h0M1153 1107h0M1114 1106h0M1112 1126h0M1162 1108h0M1188 1097h0M1125 1107h0M1194 1086h0M1117 1108h0M1124 1102h0M1293 1107h0M1293 1077h0M1289 1059h0M1219 1060h0M1265 1061h0M1204 1070h0M1306 1067h0M1281 1044h0M1299 1104h0M1188 1079h0M1291 1063h0M1298 1108h0M1213 1093h0M1282 1087h0M1215 1059h0M1260 1089h0M1080 951h0M1084 943h0M1045 940h0M1092 955h0M1050 935h0M1080 927h0M1063 921h0M1096 932h0M1051 931h0M1095 940h0M1036 921h0M1110 940h0M1185 887h0M1168 863h0M1170 908h0M1142 1021h0M927 682h0M930 680h0M1013 650h0M1014 658h0M1030 705h0M1023 712h0M1028 697h0M1037 715h0M1175 779h0M1158 808h0M1159 826h0M447 704h0M418 722h0M446 748h0M431 731h0M434 746h0M443 698h0M454 695h0M624 533h0M613 558h0M612 648h0M617 616h0M520 619h0M566 632h0M614 673h0M605 663h0M591 674h0M601 670h0M594 724h0M593 729h0M671 589h0M715 644h0M738 639h0M729 627h0M683 662h0M653 703h0M682 732h0M675 719h0M671 717h0M672 737h0M683 737h0M652 727h0M665 730h0M659 730h0M656 716h0M653 724h0M662 734h0M679 738h0M679 734h0M686 725h0M654 728h0M541 783h0M525 776h0M541 770h0M541 776h0M543 767h0M528 768h0M537 787h0M528 766h0M538 735h0M531 746h0M567 769h0M582 757h0M582 777h0M558 767h0M574 759h0M557 765h0M582 735h0M595 751h0M625 761h0M614 761h0M620 761h0M624 757h0M621 762h0M635 772h0M621 787h0M595 840h0M596 826h0M601 812h0M621 819h0M564 850h0M615 818h0M618 796h0M627 814h0M625 788h0M598 832h0M635 802h0M583 860h0M612 801h0M630 789h0M594 824h0M604 812h0M602 819h0M623 817h0M591 842h0M590 843h0M587 848h0M628 808h0M604 819h0M613 792h0M618 814h0M615 834h0M597 835h0M594 840h0M579 838h0M567 859h0M573 858h0M562 859h0M558 849h0M568 842h0M578 843h0M575 858h0M567 854h0M561 853h0M565 846h0M586 864h0M591 798h0M556 805h0M569 788h0M569 777h0M526 798h0M526 777h0M598 747h0M619 753h0M459 1067h0M497 1121h0M526 1161h0M529 1175h0" stroke="#B73779" stroke-width="6.4" stroke-linecap="round" fill="none"/>
<path d="M994 333h0M853 312h0M1019 358h0M1061 393h0M1224 297h0M1238 305h0M1155 380h0M1149 420h0M1167 260h0M1208 303h0M1198 340h0M1006 293h0M1201 384h0M1105 273h0M1231 467h0M1272 501h0M1316 611h0M1258 606h0M1260 644h0M1391 680h0M1427 746h0M1348 729h0M1272 781h0M1255 779h0M1429 689h0M1376 1045h0M1356 954h0M1513 948h0M1452 1166h0M1370 1004h0M1550 931h0M1510 821h0M1377 977h0M1371 987h0M1476 1017h0M1480 911h0M1569 882h0M1505 1125h0M1413 1095h0M1468 828h0M1302 1027h0M1523 835h0M1455 1124h0M1464 1145h0M1525 857h0M1536 1015h0M1435 1144h0M1509 1001h0M1473 872h0M1460 815h0M1480 1051h0M1638 929h0M857 1195h0M863 1203h0M877 1190h0M887 1196h0M1252 1080h0M1054 941h0M1191 882h0M1170 1050h0M940 674h0M1050 729h0M1173 772h0M1162 828h0M495 696h0M442 750h0M448 639h0M477 710h0M430 746h0M421 722h0M442 720h0M620 616h0M622 651h0M633 696h0M631 618h0M741 636h0M721 631h0M575 627h0M590 636h0M610 806h0M579 837h0M623 794h0M582 846h0M604 836h0M578 861h0M577 854h0M649 726h0M448 1050h0M518 1167h0" stroke="#F99A6A" stroke-width="6.4" stroke-linecap="round" fill="none"/>
<path d="M387 661h0M632 635h0M625 809h0" stroke="#F8F6C0" stroke-width="6.4" stroke-linecap="round" fill="none"/>
<path d="M205.4 143V1302.5H1829" fill="none" stroke="#000" stroke-width="4.6" stroke-linejoin="miter" stroke-linecap="butt"/>
<path d="M191 262.7H205" stroke="#000" stroke-width="4.4"/>
<path d="M127.60 253.00C131.40 252.50 136.15 250.50 136.90 246.00H139.80V282.00H135.60V255.80H127.60Z"/><text transform="translate(150.70,282.0) scale(1,1.05)" font-size="50">0</text>
<path d="M191 591.9H205" stroke="#000" stroke-width="4.4"/>
<text transform="translate(150.70,611.2) scale(1,1.05)" font-size="50">5</text>
<path d="M191 920.7H205" stroke="#000" stroke-width="4.4"/>
<text transform="translate(150.70,940.0) scale(1,1.05)" font-size="50">0</text>
<path d="M191 1249.7H205" stroke="#000" stroke-width="4.4"/>
<text transform="translate(134.05,1269.0) scale(1,1.05)" font-size="50">-5</text>
<path d="M279.1 1302H279.1V1316.7" stroke="#000" stroke-width="4.4"/>
<text transform="translate(256.88,1366) scale(1,1.05)" font-size="50">-5</text>
<path d="M647.3 1302H647.3V1316.7" stroke="#000" stroke-width="4.4"/>
<text transform="translate(633.40,1366) scale(1,1.05)" font-size="50">0</text>
<path d="M1015.9 1302H1015.9V1316.7" stroke="#000" stroke-width="4.4"/>
<text transform="translate(1002.00,1366) scale(1,1.05)" font-size="50">5</text>
<path d="M1384.5 1302H1384.5V1316.7" stroke="#000" stroke-width="4.4"/>
<path d="M1361.40 1337.00C1365.20 1336.50 1369.95 1334.50 1370.70 1330.00H1373.60V1366.00H1369.40V1339.80H1361.40Z"/><text transform="translate(1384.50,1366) scale(1,1.05)" font-size="50">0</text>
<path d="M1753.3 1302H1753.3V1316.7" stroke="#000" stroke-width="4.4"/>
<path d="M1730.20 1337.00C1734.00 1336.50 1738.75 1334.50 1739.50 1330.00H1742.40V1366.00H1738.20V1339.80H1730.20Z"/><text transform="translate(1753.30,1366) scale(1,1.05)" font-size="50">5</text>
<text transform="translate(900.9,1435) scale(1,1.05)" font-size="58.33">UMAP_</text>
<path d="M1107.28 1401.17C1111.72 1400.59 1117.26 1398.25 1118.13 1393.00H1121.52V1435.00H1116.62V1404.44H1107.28Z"/>
<text transform="translate(95,722.5) rotate(-90) scale(1,1.05)" font-size="58.33" text-anchor="middle">UMAP_2</text>
<text transform="translate(882.4,101.2) scale(0.94,1)" font-size="70" font-weight="bold">D</text>
<text transform="translate(929.6,101.2) scale(0.94,1)" font-size="70" font-weight="bold">N</text>
<text transform="translate(978.1,101.2) scale(0.94,1)" font-size="70" font-weight="bold">A</text>
<text transform="translate(1025.1,101.2) scale(0.94,1)" font-size="70" font-weight="bold">S</text>
<text transform="translate(1069.5,101.2) scale(0.94,1)" font-size="70" font-weight="bold">E</text>
<path d="M1117.6 62.2C1124.5 62 1129 58.5 1130.2 53.8H1138V100.7H1129V68H1117.6Z"/>
<rect x="1885" y="578.1" width="63.9" height="319.2" fill="url(#g)"/>
<path d="M1885 668.2H1898M1936 668.2H1949" stroke="#fff" stroke-width="1.3"/>
<path d="M1885 782.7H1898M1936 782.7H1949" stroke="#fff" stroke-width="1.3"/>
<path d="M1885 897.3H1898M1936 897.3H1949" stroke="#fff" stroke-width="1.3"/>
<path d="M1983.70 658.40C1987.50 657.90 1992.25 655.90 1993.00 651.40H1995.90V687.40H1991.70V661.20H1983.70Z"/><text transform="translate(2006.80,687.4) scale(1,1.05)" font-size="50">.0</text>
<text transform="translate(1979.00,801.9) scale(1,1.05)" font-size="50">0.5</text>
<text transform="translate(1979.00,916.5) scale(1,1.05)" font-size="50">0.0</text>
</svg></body></html>
